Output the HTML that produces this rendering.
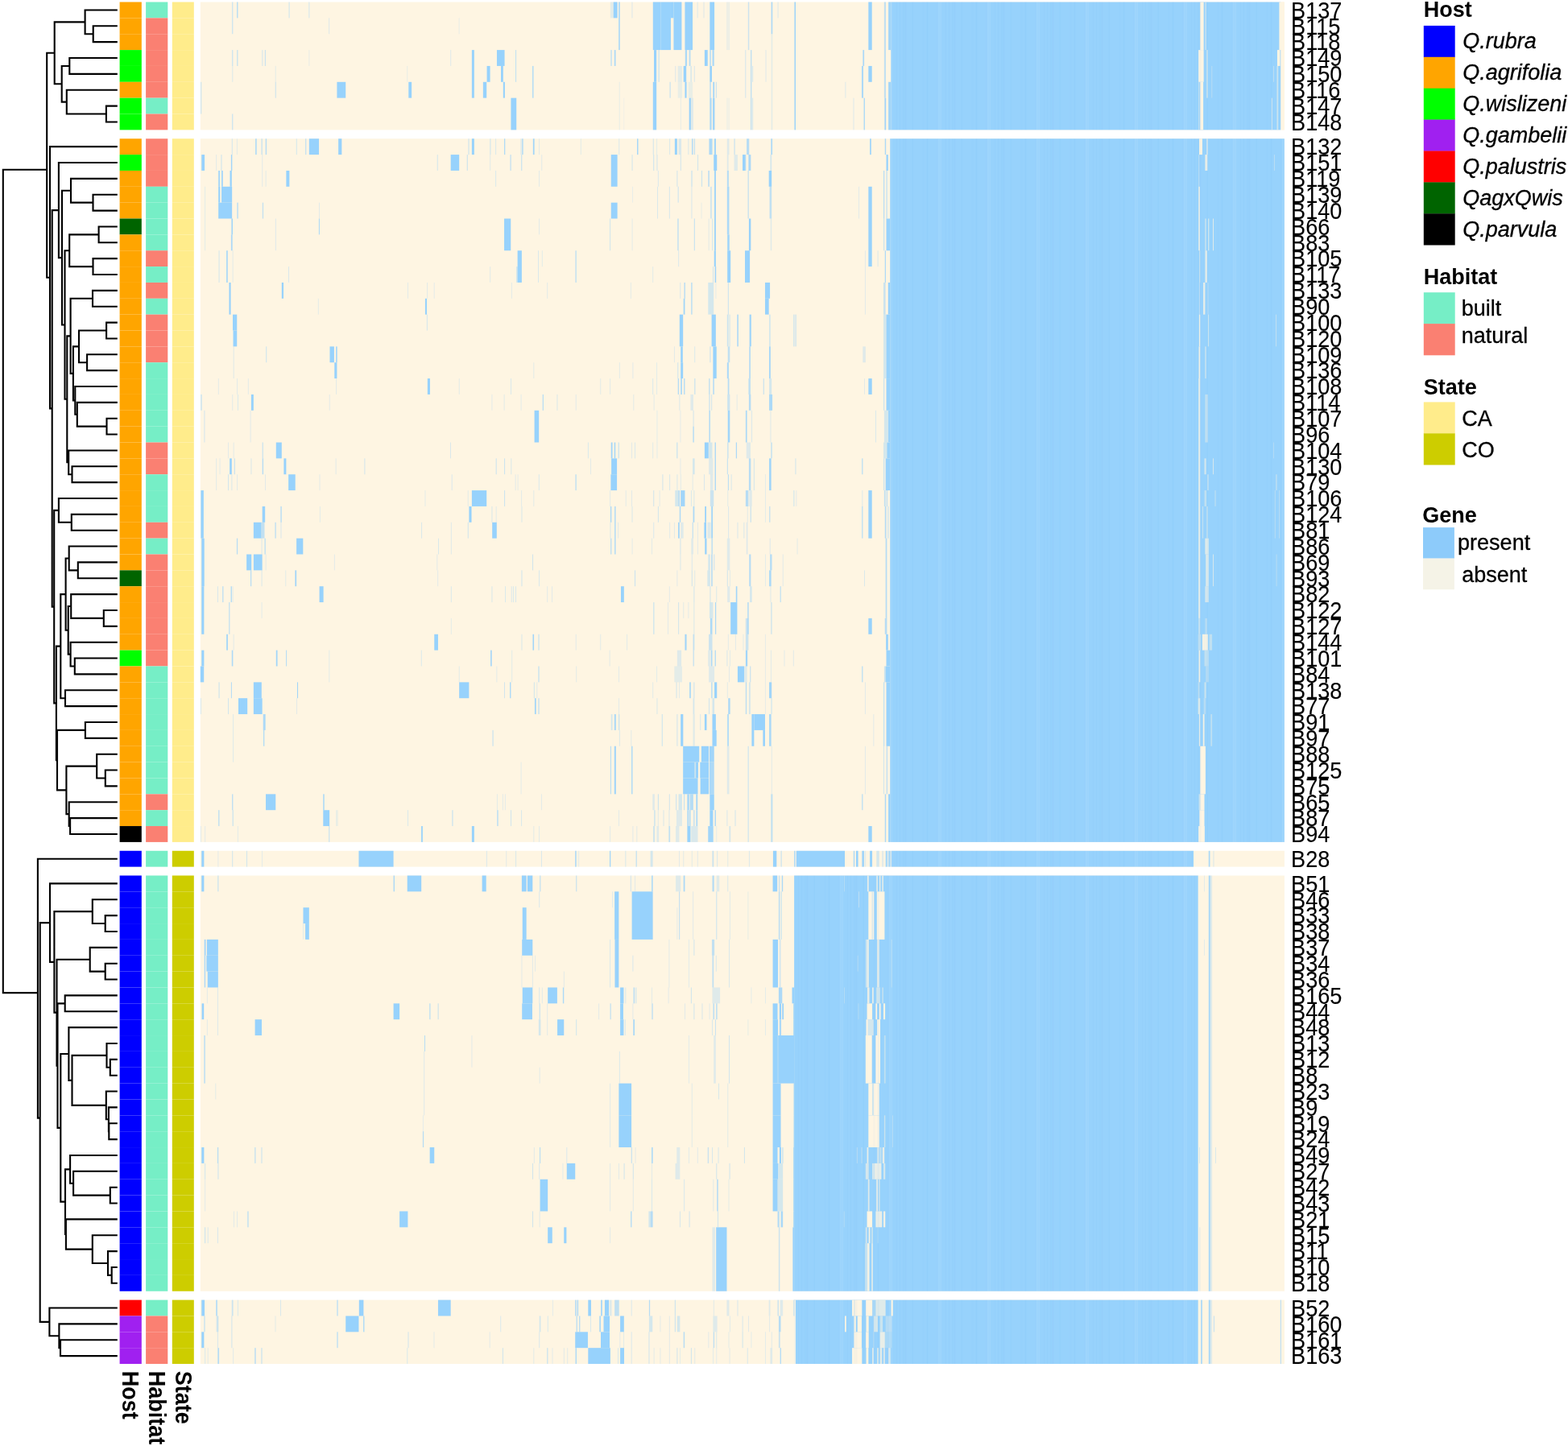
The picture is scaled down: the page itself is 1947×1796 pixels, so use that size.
<!DOCTYPE html>
<html lang="en"><head><meta charset="utf-8"><title>Gene presence/absence heatmap</title>
<style>
html,body{margin:0;padding:0;background:#fff;}
body{width:1947px;height:1796px;overflow:hidden;}
svg{display:block;font-family:"Liberation Sans",Arial,Helvetica,sans-serif;fill:#000;}
</style></head><body>
<svg width="1947" height="1796" viewBox="0 0 1947 1796">
<defs><pattern id="striae" x="0" y="0" width="61" height="10" patternUnits="userSpaceOnUse"><rect x="4.4" y="0" width="0.8" height="10" fill="#5aa9ee" fill-opacity="0.05"/><rect x="5.8" y="0" width="2.4" height="10" fill="#fff" fill-opacity="0.07"/><rect x="8.8" y="0" width="1.0" height="10" fill="#fff" fill-opacity="0.09"/><rect x="15.0" y="0" width="1.0" height="10" fill="#5aa9ee" fill-opacity="0.05"/><rect x="19.1" y="0" width="1.0" height="10" fill="#5aa9ee" fill-opacity="0.07"/><rect x="23.3" y="0" width="1.3" height="10" fill="#5aa9ee" fill-opacity="0.07"/><rect x="25.2" y="0" width="2.4" height="10" fill="#5aa9ee" fill-opacity="0.05"/><rect x="34.5" y="0" width="1.3" height="10" fill="#5aa9ee" fill-opacity="0.07"/><rect x="47.2" y="0" width="2.4" height="10" fill="#5aa9ee" fill-opacity="0.04"/><rect x="52.7" y="0" width="1.8" height="10" fill="#5aa9ee" fill-opacity="0.07"/></pattern></defs>
<rect x="0" y="0" width="1947" height="1796" fill="#fff"/>
<g id="annotations-heatmap">
<rect x="148.60" y="2.52" width="27.20" height="19.86" fill="#FFA500"/>
<rect x="148.60" y="22.38" width="27.20" height="19.86" fill="#FFA500"/>
<rect x="148.60" y="42.23" width="27.20" height="19.86" fill="#FFA500"/>
<rect x="148.60" y="62.09" width="27.20" height="19.86" fill="#00FF00"/>
<rect x="148.60" y="81.94" width="27.20" height="19.86" fill="#00FF00"/>
<rect x="148.60" y="101.80" width="27.20" height="19.86" fill="#FFA500"/>
<rect x="148.60" y="121.66" width="27.20" height="19.86" fill="#00FF00"/>
<rect x="148.60" y="141.51" width="27.20" height="19.86" fill="#00FF00"/>
<rect x="148.60" y="172.23" width="27.20" height="19.86" fill="#FFA500"/>
<rect x="148.60" y="192.09" width="27.20" height="19.86" fill="#00FF00"/>
<rect x="148.60" y="211.95" width="27.20" height="19.86" fill="#FFA500"/>
<rect x="148.60" y="231.80" width="27.20" height="19.86" fill="#FFA500"/>
<rect x="148.60" y="251.66" width="27.20" height="19.86" fill="#FFA500"/>
<rect x="148.60" y="271.51" width="27.20" height="19.86" fill="#006400"/>
<rect x="148.60" y="291.37" width="27.20" height="19.86" fill="#FFA500"/>
<rect x="148.60" y="311.23" width="27.20" height="19.86" fill="#FFA500"/>
<rect x="148.60" y="331.08" width="27.20" height="19.86" fill="#FFA500"/>
<rect x="148.60" y="350.94" width="27.20" height="19.86" fill="#FFA500"/>
<rect x="148.60" y="370.79" width="27.20" height="19.86" fill="#FFA500"/>
<rect x="148.60" y="390.65" width="27.20" height="19.86" fill="#FFA500"/>
<rect x="148.60" y="410.50" width="27.20" height="19.86" fill="#FFA500"/>
<rect x="148.60" y="430.36" width="27.20" height="19.86" fill="#FFA500"/>
<rect x="148.60" y="450.22" width="27.20" height="19.86" fill="#FFA500"/>
<rect x="148.60" y="470.07" width="27.20" height="19.86" fill="#FFA500"/>
<rect x="148.60" y="489.93" width="27.20" height="19.86" fill="#FFA500"/>
<rect x="148.60" y="509.79" width="27.20" height="19.86" fill="#FFA500"/>
<rect x="148.60" y="529.64" width="27.20" height="19.86" fill="#FFA500"/>
<rect x="148.60" y="549.50" width="27.20" height="19.86" fill="#FFA500"/>
<rect x="148.60" y="569.35" width="27.20" height="19.86" fill="#FFA500"/>
<rect x="148.60" y="589.21" width="27.20" height="19.86" fill="#FFA500"/>
<rect x="148.60" y="609.07" width="27.20" height="19.86" fill="#FFA500"/>
<rect x="148.60" y="628.92" width="27.20" height="19.86" fill="#FFA500"/>
<rect x="148.60" y="648.78" width="27.20" height="19.86" fill="#FFA500"/>
<rect x="148.60" y="668.63" width="27.20" height="19.86" fill="#FFA500"/>
<rect x="148.60" y="688.49" width="27.20" height="19.86" fill="#FFA500"/>
<rect x="148.60" y="708.35" width="27.20" height="19.86" fill="#006400"/>
<rect x="148.60" y="728.20" width="27.20" height="19.86" fill="#FFA500"/>
<rect x="148.60" y="748.06" width="27.20" height="19.86" fill="#FFA500"/>
<rect x="148.60" y="767.91" width="27.20" height="19.86" fill="#FFA500"/>
<rect x="148.60" y="787.77" width="27.20" height="19.86" fill="#FFA500"/>
<rect x="148.60" y="807.62" width="27.20" height="19.86" fill="#00FF00"/>
<rect x="148.60" y="827.48" width="27.20" height="19.86" fill="#FFA500"/>
<rect x="148.60" y="847.34" width="27.20" height="19.86" fill="#FFA500"/>
<rect x="148.60" y="867.19" width="27.20" height="19.86" fill="#FFA500"/>
<rect x="148.60" y="887.05" width="27.20" height="19.86" fill="#FFA500"/>
<rect x="148.60" y="906.91" width="27.20" height="19.86" fill="#FFA500"/>
<rect x="148.60" y="926.76" width="27.20" height="19.86" fill="#FFA500"/>
<rect x="148.60" y="946.62" width="27.20" height="19.86" fill="#FFA500"/>
<rect x="148.60" y="966.47" width="27.20" height="19.86" fill="#FFA500"/>
<rect x="148.60" y="986.33" width="27.20" height="19.86" fill="#FFA500"/>
<rect x="148.60" y="1006.19" width="27.20" height="19.86" fill="#FFA500"/>
<rect x="148.60" y="1026.04" width="27.20" height="19.86" fill="#000000"/>
<rect x="148.60" y="1056.76" width="27.20" height="19.86" fill="#0000FF"/>
<rect x="148.60" y="1087.48" width="27.20" height="19.86" fill="#0000FF"/>
<rect x="148.60" y="1107.34" width="27.20" height="19.86" fill="#0000FF"/>
<rect x="148.60" y="1127.20" width="27.20" height="19.86" fill="#0000FF"/>
<rect x="148.60" y="1147.05" width="27.20" height="19.86" fill="#0000FF"/>
<rect x="148.60" y="1166.91" width="27.20" height="19.86" fill="#0000FF"/>
<rect x="148.60" y="1186.76" width="27.20" height="19.86" fill="#0000FF"/>
<rect x="148.60" y="1206.62" width="27.20" height="19.86" fill="#0000FF"/>
<rect x="148.60" y="1226.48" width="27.20" height="19.86" fill="#0000FF"/>
<rect x="148.60" y="1246.33" width="27.20" height="19.86" fill="#0000FF"/>
<rect x="148.60" y="1266.19" width="27.20" height="19.86" fill="#0000FF"/>
<rect x="148.60" y="1286.04" width="27.20" height="19.86" fill="#0000FF"/>
<rect x="148.60" y="1305.90" width="27.20" height="19.86" fill="#0000FF"/>
<rect x="148.60" y="1325.76" width="27.20" height="19.86" fill="#0000FF"/>
<rect x="148.60" y="1345.61" width="27.20" height="19.86" fill="#0000FF"/>
<rect x="148.60" y="1365.47" width="27.20" height="19.86" fill="#0000FF"/>
<rect x="148.60" y="1385.32" width="27.20" height="19.86" fill="#0000FF"/>
<rect x="148.60" y="1405.18" width="27.20" height="19.86" fill="#0000FF"/>
<rect x="148.60" y="1425.04" width="27.20" height="19.86" fill="#0000FF"/>
<rect x="148.60" y="1444.89" width="27.20" height="19.86" fill="#0000FF"/>
<rect x="148.60" y="1464.75" width="27.20" height="19.86" fill="#0000FF"/>
<rect x="148.60" y="1484.60" width="27.20" height="19.86" fill="#0000FF"/>
<rect x="148.60" y="1504.46" width="27.20" height="19.86" fill="#0000FF"/>
<rect x="148.60" y="1524.32" width="27.20" height="19.86" fill="#0000FF"/>
<rect x="148.60" y="1544.17" width="27.20" height="19.86" fill="#0000FF"/>
<rect x="148.60" y="1564.03" width="27.20" height="19.86" fill="#0000FF"/>
<rect x="148.60" y="1583.88" width="27.20" height="19.86" fill="#0000FF"/>
<rect x="148.60" y="1614.60" width="27.20" height="19.86" fill="#FF0000"/>
<rect x="148.60" y="1634.46" width="27.20" height="19.86" fill="#A020F0"/>
<rect x="148.60" y="1654.32" width="27.20" height="19.86" fill="#A020F0"/>
<rect x="148.60" y="1674.17" width="27.20" height="19.86" fill="#A020F0"/>
<rect x="181.10" y="2.52" width="27.20" height="19.86" fill="#76EEC6"/>
<rect x="181.10" y="22.38" width="27.20" height="19.86" fill="#FA8072"/>
<rect x="181.10" y="42.23" width="27.20" height="19.86" fill="#FA8072"/>
<rect x="181.10" y="62.09" width="27.20" height="19.86" fill="#FA8072"/>
<rect x="181.10" y="81.94" width="27.20" height="19.86" fill="#FA8072"/>
<rect x="181.10" y="101.80" width="27.20" height="19.86" fill="#FA8072"/>
<rect x="181.10" y="121.66" width="27.20" height="19.86" fill="#76EEC6"/>
<rect x="181.10" y="141.51" width="27.20" height="19.86" fill="#FA8072"/>
<rect x="181.10" y="172.23" width="27.20" height="19.86" fill="#FA8072"/>
<rect x="181.10" y="192.09" width="27.20" height="19.86" fill="#FA8072"/>
<rect x="181.10" y="211.95" width="27.20" height="19.86" fill="#FA8072"/>
<rect x="181.10" y="231.80" width="27.20" height="19.86" fill="#76EEC6"/>
<rect x="181.10" y="251.66" width="27.20" height="19.86" fill="#76EEC6"/>
<rect x="181.10" y="271.51" width="27.20" height="19.86" fill="#76EEC6"/>
<rect x="181.10" y="291.37" width="27.20" height="19.86" fill="#76EEC6"/>
<rect x="181.10" y="311.23" width="27.20" height="19.86" fill="#FA8072"/>
<rect x="181.10" y="331.08" width="27.20" height="19.86" fill="#76EEC6"/>
<rect x="181.10" y="350.94" width="27.20" height="19.86" fill="#FA8072"/>
<rect x="181.10" y="370.79" width="27.20" height="19.86" fill="#76EEC6"/>
<rect x="181.10" y="390.65" width="27.20" height="19.86" fill="#FA8072"/>
<rect x="181.10" y="410.50" width="27.20" height="19.86" fill="#FA8072"/>
<rect x="181.10" y="430.36" width="27.20" height="19.86" fill="#FA8072"/>
<rect x="181.10" y="450.22" width="27.20" height="19.86" fill="#76EEC6"/>
<rect x="181.10" y="470.07" width="27.20" height="19.86" fill="#76EEC6"/>
<rect x="181.10" y="489.93" width="27.20" height="19.86" fill="#76EEC6"/>
<rect x="181.10" y="509.79" width="27.20" height="19.86" fill="#76EEC6"/>
<rect x="181.10" y="529.64" width="27.20" height="19.86" fill="#76EEC6"/>
<rect x="181.10" y="549.50" width="27.20" height="19.86" fill="#FA8072"/>
<rect x="181.10" y="569.35" width="27.20" height="19.86" fill="#FA8072"/>
<rect x="181.10" y="589.21" width="27.20" height="19.86" fill="#76EEC6"/>
<rect x="181.10" y="609.07" width="27.20" height="19.86" fill="#76EEC6"/>
<rect x="181.10" y="628.92" width="27.20" height="19.86" fill="#76EEC6"/>
<rect x="181.10" y="648.78" width="27.20" height="19.86" fill="#FA8072"/>
<rect x="181.10" y="668.63" width="27.20" height="19.86" fill="#76EEC6"/>
<rect x="181.10" y="688.49" width="27.20" height="19.86" fill="#FA8072"/>
<rect x="181.10" y="708.35" width="27.20" height="19.86" fill="#FA8072"/>
<rect x="181.10" y="728.20" width="27.20" height="19.86" fill="#FA8072"/>
<rect x="181.10" y="748.06" width="27.20" height="19.86" fill="#FA8072"/>
<rect x="181.10" y="767.91" width="27.20" height="19.86" fill="#FA8072"/>
<rect x="181.10" y="787.77" width="27.20" height="19.86" fill="#FA8072"/>
<rect x="181.10" y="807.62" width="27.20" height="19.86" fill="#FA8072"/>
<rect x="181.10" y="827.48" width="27.20" height="19.86" fill="#76EEC6"/>
<rect x="181.10" y="847.34" width="27.20" height="19.86" fill="#76EEC6"/>
<rect x="181.10" y="867.19" width="27.20" height="19.86" fill="#76EEC6"/>
<rect x="181.10" y="887.05" width="27.20" height="19.86" fill="#76EEC6"/>
<rect x="181.10" y="906.91" width="27.20" height="19.86" fill="#76EEC6"/>
<rect x="181.10" y="926.76" width="27.20" height="19.86" fill="#76EEC6"/>
<rect x="181.10" y="946.62" width="27.20" height="19.86" fill="#76EEC6"/>
<rect x="181.10" y="966.47" width="27.20" height="19.86" fill="#76EEC6"/>
<rect x="181.10" y="986.33" width="27.20" height="19.86" fill="#FA8072"/>
<rect x="181.10" y="1006.19" width="27.20" height="19.86" fill="#76EEC6"/>
<rect x="181.10" y="1026.04" width="27.20" height="19.86" fill="#FA8072"/>
<rect x="181.10" y="1056.76" width="27.20" height="19.86" fill="#76EEC6"/>
<rect x="181.10" y="1087.48" width="27.20" height="19.86" fill="#76EEC6"/>
<rect x="181.10" y="1107.34" width="27.20" height="19.86" fill="#76EEC6"/>
<rect x="181.10" y="1127.20" width="27.20" height="19.86" fill="#76EEC6"/>
<rect x="181.10" y="1147.05" width="27.20" height="19.86" fill="#76EEC6"/>
<rect x="181.10" y="1166.91" width="27.20" height="19.86" fill="#76EEC6"/>
<rect x="181.10" y="1186.76" width="27.20" height="19.86" fill="#76EEC6"/>
<rect x="181.10" y="1206.62" width="27.20" height="19.86" fill="#76EEC6"/>
<rect x="181.10" y="1226.48" width="27.20" height="19.86" fill="#76EEC6"/>
<rect x="181.10" y="1246.33" width="27.20" height="19.86" fill="#76EEC6"/>
<rect x="181.10" y="1266.19" width="27.20" height="19.86" fill="#76EEC6"/>
<rect x="181.10" y="1286.04" width="27.20" height="19.86" fill="#76EEC6"/>
<rect x="181.10" y="1305.90" width="27.20" height="19.86" fill="#76EEC6"/>
<rect x="181.10" y="1325.76" width="27.20" height="19.86" fill="#76EEC6"/>
<rect x="181.10" y="1345.61" width="27.20" height="19.86" fill="#76EEC6"/>
<rect x="181.10" y="1365.47" width="27.20" height="19.86" fill="#76EEC6"/>
<rect x="181.10" y="1385.32" width="27.20" height="19.86" fill="#76EEC6"/>
<rect x="181.10" y="1405.18" width="27.20" height="19.86" fill="#76EEC6"/>
<rect x="181.10" y="1425.04" width="27.20" height="19.86" fill="#76EEC6"/>
<rect x="181.10" y="1444.89" width="27.20" height="19.86" fill="#76EEC6"/>
<rect x="181.10" y="1464.75" width="27.20" height="19.86" fill="#76EEC6"/>
<rect x="181.10" y="1484.60" width="27.20" height="19.86" fill="#76EEC6"/>
<rect x="181.10" y="1504.46" width="27.20" height="19.86" fill="#76EEC6"/>
<rect x="181.10" y="1524.32" width="27.20" height="19.86" fill="#76EEC6"/>
<rect x="181.10" y="1544.17" width="27.20" height="19.86" fill="#76EEC6"/>
<rect x="181.10" y="1564.03" width="27.20" height="19.86" fill="#76EEC6"/>
<rect x="181.10" y="1583.88" width="27.20" height="19.86" fill="#76EEC6"/>
<rect x="181.10" y="1614.60" width="27.20" height="19.86" fill="#76EEC6"/>
<rect x="181.10" y="1634.46" width="27.20" height="19.86" fill="#FA8072"/>
<rect x="181.10" y="1654.32" width="27.20" height="19.86" fill="#FA8072"/>
<rect x="181.10" y="1674.17" width="27.20" height="19.86" fill="#FA8072"/>
<rect x="213.80" y="2.52" width="27.00" height="19.86" fill="#FFEC8B"/>
<rect x="213.80" y="22.38" width="27.00" height="19.86" fill="#FFEC8B"/>
<rect x="213.80" y="42.23" width="27.00" height="19.86" fill="#FFEC8B"/>
<rect x="213.80" y="62.09" width="27.00" height="19.86" fill="#FFEC8B"/>
<rect x="213.80" y="81.94" width="27.00" height="19.86" fill="#FFEC8B"/>
<rect x="213.80" y="101.80" width="27.00" height="19.86" fill="#FFEC8B"/>
<rect x="213.80" y="121.66" width="27.00" height="19.86" fill="#FFEC8B"/>
<rect x="213.80" y="141.51" width="27.00" height="19.86" fill="#FFEC8B"/>
<rect x="213.80" y="172.23" width="27.00" height="19.86" fill="#FFEC8B"/>
<rect x="213.80" y="192.09" width="27.00" height="19.86" fill="#FFEC8B"/>
<rect x="213.80" y="211.95" width="27.00" height="19.86" fill="#FFEC8B"/>
<rect x="213.80" y="231.80" width="27.00" height="19.86" fill="#FFEC8B"/>
<rect x="213.80" y="251.66" width="27.00" height="19.86" fill="#FFEC8B"/>
<rect x="213.80" y="271.51" width="27.00" height="19.86" fill="#FFEC8B"/>
<rect x="213.80" y="291.37" width="27.00" height="19.86" fill="#FFEC8B"/>
<rect x="213.80" y="311.23" width="27.00" height="19.86" fill="#FFEC8B"/>
<rect x="213.80" y="331.08" width="27.00" height="19.86" fill="#FFEC8B"/>
<rect x="213.80" y="350.94" width="27.00" height="19.86" fill="#FFEC8B"/>
<rect x="213.80" y="370.79" width="27.00" height="19.86" fill="#FFEC8B"/>
<rect x="213.80" y="390.65" width="27.00" height="19.86" fill="#FFEC8B"/>
<rect x="213.80" y="410.50" width="27.00" height="19.86" fill="#FFEC8B"/>
<rect x="213.80" y="430.36" width="27.00" height="19.86" fill="#FFEC8B"/>
<rect x="213.80" y="450.22" width="27.00" height="19.86" fill="#FFEC8B"/>
<rect x="213.80" y="470.07" width="27.00" height="19.86" fill="#FFEC8B"/>
<rect x="213.80" y="489.93" width="27.00" height="19.86" fill="#FFEC8B"/>
<rect x="213.80" y="509.79" width="27.00" height="19.86" fill="#FFEC8B"/>
<rect x="213.80" y="529.64" width="27.00" height="19.86" fill="#FFEC8B"/>
<rect x="213.80" y="549.50" width="27.00" height="19.86" fill="#FFEC8B"/>
<rect x="213.80" y="569.35" width="27.00" height="19.86" fill="#FFEC8B"/>
<rect x="213.80" y="589.21" width="27.00" height="19.86" fill="#FFEC8B"/>
<rect x="213.80" y="609.07" width="27.00" height="19.86" fill="#FFEC8B"/>
<rect x="213.80" y="628.92" width="27.00" height="19.86" fill="#FFEC8B"/>
<rect x="213.80" y="648.78" width="27.00" height="19.86" fill="#FFEC8B"/>
<rect x="213.80" y="668.63" width="27.00" height="19.86" fill="#FFEC8B"/>
<rect x="213.80" y="688.49" width="27.00" height="19.86" fill="#FFEC8B"/>
<rect x="213.80" y="708.35" width="27.00" height="19.86" fill="#FFEC8B"/>
<rect x="213.80" y="728.20" width="27.00" height="19.86" fill="#FFEC8B"/>
<rect x="213.80" y="748.06" width="27.00" height="19.86" fill="#FFEC8B"/>
<rect x="213.80" y="767.91" width="27.00" height="19.86" fill="#FFEC8B"/>
<rect x="213.80" y="787.77" width="27.00" height="19.86" fill="#FFEC8B"/>
<rect x="213.80" y="807.62" width="27.00" height="19.86" fill="#FFEC8B"/>
<rect x="213.80" y="827.48" width="27.00" height="19.86" fill="#FFEC8B"/>
<rect x="213.80" y="847.34" width="27.00" height="19.86" fill="#FFEC8B"/>
<rect x="213.80" y="867.19" width="27.00" height="19.86" fill="#FFEC8B"/>
<rect x="213.80" y="887.05" width="27.00" height="19.86" fill="#FFEC8B"/>
<rect x="213.80" y="906.91" width="27.00" height="19.86" fill="#FFEC8B"/>
<rect x="213.80" y="926.76" width="27.00" height="19.86" fill="#FFEC8B"/>
<rect x="213.80" y="946.62" width="27.00" height="19.86" fill="#FFEC8B"/>
<rect x="213.80" y="966.47" width="27.00" height="19.86" fill="#FFEC8B"/>
<rect x="213.80" y="986.33" width="27.00" height="19.86" fill="#FFEC8B"/>
<rect x="213.80" y="1006.19" width="27.00" height="19.86" fill="#FFEC8B"/>
<rect x="213.80" y="1026.04" width="27.00" height="19.86" fill="#FFEC8B"/>
<rect x="213.80" y="1056.76" width="27.00" height="19.86" fill="#CDCD00"/>
<rect x="213.80" y="1087.48" width="27.00" height="19.86" fill="#CDCD00"/>
<rect x="213.80" y="1107.34" width="27.00" height="19.86" fill="#CDCD00"/>
<rect x="213.80" y="1127.20" width="27.00" height="19.86" fill="#CDCD00"/>
<rect x="213.80" y="1147.05" width="27.00" height="19.86" fill="#CDCD00"/>
<rect x="213.80" y="1166.91" width="27.00" height="19.86" fill="#CDCD00"/>
<rect x="213.80" y="1186.76" width="27.00" height="19.86" fill="#CDCD00"/>
<rect x="213.80" y="1206.62" width="27.00" height="19.86" fill="#CDCD00"/>
<rect x="213.80" y="1226.48" width="27.00" height="19.86" fill="#CDCD00"/>
<rect x="213.80" y="1246.33" width="27.00" height="19.86" fill="#CDCD00"/>
<rect x="213.80" y="1266.19" width="27.00" height="19.86" fill="#CDCD00"/>
<rect x="213.80" y="1286.04" width="27.00" height="19.86" fill="#CDCD00"/>
<rect x="213.80" y="1305.90" width="27.00" height="19.86" fill="#CDCD00"/>
<rect x="213.80" y="1325.76" width="27.00" height="19.86" fill="#CDCD00"/>
<rect x="213.80" y="1345.61" width="27.00" height="19.86" fill="#CDCD00"/>
<rect x="213.80" y="1365.47" width="27.00" height="19.86" fill="#CDCD00"/>
<rect x="213.80" y="1385.32" width="27.00" height="19.86" fill="#CDCD00"/>
<rect x="213.80" y="1405.18" width="27.00" height="19.86" fill="#CDCD00"/>
<rect x="213.80" y="1425.04" width="27.00" height="19.86" fill="#CDCD00"/>
<rect x="213.80" y="1444.89" width="27.00" height="19.86" fill="#CDCD00"/>
<rect x="213.80" y="1464.75" width="27.00" height="19.86" fill="#CDCD00"/>
<rect x="213.80" y="1484.60" width="27.00" height="19.86" fill="#CDCD00"/>
<rect x="213.80" y="1504.46" width="27.00" height="19.86" fill="#CDCD00"/>
<rect x="213.80" y="1524.32" width="27.00" height="19.86" fill="#CDCD00"/>
<rect x="213.80" y="1544.17" width="27.00" height="19.86" fill="#CDCD00"/>
<rect x="213.80" y="1564.03" width="27.00" height="19.86" fill="#CDCD00"/>
<rect x="213.80" y="1583.88" width="27.00" height="19.86" fill="#CDCD00"/>
<rect x="213.80" y="1614.60" width="27.00" height="19.86" fill="#CDCD00"/>
<rect x="213.80" y="1634.46" width="27.00" height="19.86" fill="#CDCD00"/>
<rect x="213.80" y="1654.32" width="27.00" height="19.86" fill="#CDCD00"/>
<rect x="213.80" y="1674.17" width="27.00" height="19.86" fill="#CDCD00"/>
<rect x="248.80" y="2.52" width="1346.10" height="158.85" fill="#FEF5E2"/>
<rect x="248.80" y="172.23" width="1346.10" height="873.66" fill="#FEF5E2"/>
<rect x="248.80" y="1056.76" width="1346.10" height="19.86" fill="#FEF5E2"/>
<rect x="248.80" y="1087.48" width="1346.10" height="516.26" fill="#FEF5E2"/>
<rect x="248.80" y="1614.60" width="1346.10" height="79.42" fill="#FEF5E2"/>
<rect x="418.40" y="101.80" width="10.83" height="19.86" fill="#97D2FC"/>
<rect x="507.29" y="101.80" width="3.84" height="19.86" fill="#97D2FC"/>
<rect x="287.96" y="2.52" width="1.40" height="39.71" fill="#97D2FC" fill-opacity="0.45"/>
<rect x="287.96" y="62.09" width="1.40" height="19.86" fill="#97D2FC" fill-opacity="0.45"/>
<rect x="287.96" y="141.51" width="1.40" height="19.86" fill="#97D2FC" fill-opacity="0.45"/>
<rect x="287.96" y="81.94" width="1.40" height="19.86" fill="#97D2FC" fill-opacity="0.25"/>
<rect x="294.07" y="2.52" width="1.40" height="19.86" fill="#97D2FC" fill-opacity="0.70"/>
<rect x="294.07" y="62.09" width="1.40" height="19.86" fill="#97D2FC" fill-opacity="0.50"/>
<rect x="325.33" y="62.09" width="1.05" height="19.86" fill="#97D2FC" fill-opacity="0.40"/>
<rect x="328.82" y="62.09" width="1.22" height="19.86" fill="#97D2FC" fill-opacity="0.50"/>
<rect x="358.51" y="2.52" width="1.22" height="19.86" fill="#97D2FC" fill-opacity="0.40"/>
<rect x="383.30" y="2.52" width="1.05" height="19.86" fill="#97D2FC" fill-opacity="0.40"/>
<rect x="383.30" y="62.09" width="1.05" height="19.86" fill="#97D2FC" fill-opacity="0.20"/>
<rect x="408.10" y="22.38" width="1.05" height="19.86" fill="#97D2FC" fill-opacity="0.30"/>
<rect x="341.74" y="101.80" width="1.05" height="19.86" fill="#97D2FC" fill-opacity="0.50"/>
<rect x="341.74" y="81.94" width="1.05" height="19.86" fill="#97D2FC" fill-opacity="0.25"/>
<rect x="249.19" y="101.80" width="1.05" height="39.71" fill="#97D2FC" fill-opacity="0.50"/>
<rect x="559.15" y="62.09" width="1.05" height="19.86" fill="#97D2FC" fill-opacity="0.30"/>
<rect x="569.63" y="22.38" width="1.05" height="19.86" fill="#97D2FC" fill-opacity="0.20"/>
<rect x="505.19" y="81.94" width="1.05" height="19.86" fill="#97D2FC" fill-opacity="0.20"/>
<rect x="810.79" y="2.52" width="9.95" height="59.57" fill="#97D2FC"/>
<rect x="820.75" y="2.52" width="12.22" height="59.57" fill="#97D2FC"/>
<rect x="832.97" y="2.52" width="3.49" height="19.86" fill="#97D2FC"/>
<rect x="836.46" y="2.52" width="9.95" height="59.57" fill="#97D2FC"/>
<rect x="850.43" y="2.52" width="9.60" height="59.57" fill="#97D2FC"/>
<rect x="881.34" y="2.52" width="5.76" height="59.57" fill="#97D2FC"/>
<rect x="761.72" y="2.52" width="4.89" height="19.86" fill="#97D2FC"/>
<rect x="757.88" y="2.52" width="3.84" height="19.86" fill="#97D2FC" fill-opacity="0.25"/>
<rect x="768.18" y="2.52" width="1.57" height="59.57" fill="#97D2FC" fill-opacity="0.85"/>
<rect x="784.42" y="2.52" width="1.05" height="19.86" fill="#97D2FC" fill-opacity="0.30"/>
<rect x="865.63" y="2.52" width="1.05" height="19.86" fill="#97D2FC" fill-opacity="0.30"/>
<rect x="873.48" y="2.52" width="1.05" height="19.86" fill="#97D2FC" fill-opacity="0.30"/>
<rect x="902.47" y="2.52" width="1.05" height="59.57" fill="#97D2FC" fill-opacity="0.30"/>
<rect x="904.57" y="2.52" width="1.05" height="59.57" fill="#97D2FC" fill-opacity="0.30"/>
<rect x="585.87" y="62.09" width="2.97" height="59.57" fill="#97D2FC"/>
<rect x="616.96" y="62.09" width="9.60" height="19.86" fill="#97D2FC"/>
<rect x="640.01" y="62.09" width="1.05" height="39.71" fill="#97D2FC" fill-opacity="0.60"/>
<rect x="758.40" y="62.09" width="1.22" height="19.86" fill="#97D2FC" fill-opacity="0.70"/>
<rect x="762.77" y="62.09" width="1.75" height="19.86" fill="#97D2FC" fill-opacity="0.80"/>
<rect x="812.01" y="62.09" width="3.14" height="39.71" fill="#97D2FC"/>
<rect x="810.79" y="101.80" width="4.37" height="59.57" fill="#97D2FC"/>
<rect x="817.60" y="62.09" width="1.05" height="39.71" fill="#97D2FC" fill-opacity="0.60"/>
<rect x="850.78" y="62.09" width="2.27" height="19.86" fill="#97D2FC" fill-opacity="0.80"/>
<rect x="855.67" y="62.09" width="1.75" height="19.86" fill="#97D2FC" fill-opacity="0.70"/>
<rect x="874.88" y="62.09" width="3.84" height="19.86" fill="#97D2FC"/>
<rect x="881.34" y="62.09" width="1.40" height="19.86" fill="#97D2FC" fill-opacity="0.80"/>
<rect x="884.48" y="62.09" width="2.27" height="19.86" fill="#97D2FC" fill-opacity="0.80"/>
<rect x="604.56" y="81.94" width="4.02" height="19.86" fill="#97D2FC"/>
<rect x="622.02" y="81.94" width="2.79" height="19.86" fill="#97D2FC"/>
<rect x="660.96" y="81.94" width="1.57" height="39.71" fill="#97D2FC" fill-opacity="0.70"/>
<rect x="848.69" y="81.94" width="3.49" height="19.86" fill="#97D2FC"/>
<rect x="881.34" y="81.94" width="2.62" height="19.86" fill="#97D2FC"/>
<rect x="838.21" y="81.94" width="1.05" height="19.86" fill="#97D2FC" fill-opacity="0.30"/>
<rect x="841.70" y="81.94" width="5.24" height="19.86" fill="#97D2FC" fill-opacity="0.25"/>
<rect x="857.42" y="81.94" width="1.40" height="19.86" fill="#97D2FC" fill-opacity="0.40"/>
<rect x="861.78" y="81.94" width="1.22" height="19.86" fill="#97D2FC" fill-opacity="0.30"/>
<rect x="599.84" y="101.80" width="4.37" height="19.86" fill="#97D2FC"/>
<rect x="624.81" y="101.80" width="2.10" height="19.86" fill="#97D2FC"/>
<rect x="831.57" y="101.80" width="1.05" height="19.86" fill="#97D2FC" fill-opacity="0.60"/>
<rect x="850.43" y="101.80" width="2.10" height="19.86" fill="#97D2FC"/>
<rect x="881.34" y="101.80" width="1.40" height="19.86" fill="#97D2FC" fill-opacity="0.70"/>
<rect x="885.36" y="101.80" width="1.75" height="19.86" fill="#97D2FC" fill-opacity="0.90"/>
<rect x="888.85" y="101.80" width="1.05" height="19.86" fill="#97D2FC" fill-opacity="0.50"/>
<rect x="841.70" y="101.80" width="5.24" height="19.86" fill="#97D2FC" fill-opacity="0.20"/>
<rect x="854.80" y="101.80" width="5.24" height="19.86" fill="#97D2FC" fill-opacity="0.20"/>
<rect x="634.42" y="121.66" width="6.81" height="39.71" fill="#97D2FC"/>
<rect x="855.67" y="121.66" width="2.10" height="39.71" fill="#97D2FC"/>
<rect x="857.77" y="121.66" width="3.14" height="39.71" fill="#97D2FC" fill-opacity="0.30"/>
<rect x="881.34" y="121.66" width="2.27" height="39.71" fill="#97D2FC" fill-opacity="0.80"/>
<rect x="885.01" y="121.66" width="2.44" height="39.71" fill="#97D2FC" fill-opacity="0.90"/>
<rect x="768.71" y="101.80" width="1.05" height="59.57" fill="#97D2FC" fill-opacity="0.20"/>
<rect x="774.30" y="121.66" width="0.87" height="39.71" fill="#97D2FC" fill-opacity="0.15"/>
<rect x="844.84" y="121.66" width="1.05" height="39.71" fill="#97D2FC" fill-opacity="0.20"/>
<rect x="902.47" y="121.66" width="1.05" height="39.71" fill="#97D2FC" fill-opacity="0.20"/>
<rect x="904.57" y="121.66" width="1.05" height="39.71" fill="#97D2FC" fill-opacity="0.20"/>
<rect x="1106.26" y="2.52" width="484.07" height="158.85" fill="#97D2FC"/>
<rect x="1103.12" y="2.52" width="3.14" height="59.57" fill="#97D2FC" fill-opacity="0.90"/>
<rect x="1103.12" y="101.80" width="3.14" height="59.57" fill="#97D2FC" fill-opacity="0.90"/>
<rect x="1078.32" y="2.52" width="4.37" height="59.57" fill="#97D2FC"/>
<rect x="1078.32" y="81.94" width="4.37" height="19.86" fill="#97D2FC"/>
<rect x="986.47" y="2.52" width="1.57" height="158.85" fill="#97D2FC" fill-opacity="0.90"/>
<rect x="957.66" y="2.52" width="1.57" height="39.71" fill="#97D2FC" fill-opacity="0.80"/>
<rect x="957.66" y="42.23" width="1.57" height="119.14" fill="#97D2FC" fill-opacity="0.25"/>
<rect x="928.84" y="2.52" width="1.40" height="59.57" fill="#97D2FC" fill-opacity="0.50"/>
<rect x="931.99" y="62.09" width="1.40" height="99.28" fill="#97D2FC" fill-opacity="0.60"/>
<rect x="925.00" y="62.09" width="1.40" height="59.57" fill="#97D2FC" fill-opacity="0.30"/>
<rect x="934.08" y="81.94" width="1.05" height="19.86" fill="#97D2FC" fill-opacity="0.40"/>
<rect x="934.08" y="121.66" width="1.05" height="39.71" fill="#97D2FC" fill-opacity="0.40"/>
<rect x="1071.34" y="62.09" width="1.75" height="19.86" fill="#97D2FC" fill-opacity="0.80"/>
<rect x="1069.94" y="81.94" width="2.10" height="39.71" fill="#97D2FC" fill-opacity="0.80"/>
<rect x="1072.56" y="121.66" width="1.40" height="39.71" fill="#97D2FC" fill-opacity="0.80"/>
<rect x="1097.88" y="2.52" width="2.10" height="119.14" fill="#97D2FC" fill-opacity="0.60"/>
<rect x="1098.40" y="121.66" width="1.75" height="39.71" fill="#97D2FC" fill-opacity="0.90"/>
<rect x="965.51" y="2.52" width="1.05" height="19.86" fill="#97D2FC" fill-opacity="0.30"/>
<rect x="950.50" y="62.09" width="1.05" height="39.71" fill="#97D2FC" fill-opacity="0.30"/>
<rect x="1049.33" y="101.80" width="1.05" height="19.86" fill="#97D2FC" fill-opacity="0.30"/>
<rect x="1059.46" y="121.66" width="1.05" height="39.71" fill="#97D2FC" fill-opacity="0.30"/>
<rect x="1588.41" y="2.52" width="6.49" height="59.57" fill="#FEF5E2"/>
<rect x="1590.68" y="62.09" width="4.22" height="99.28" fill="#FEF5E2"/>
<rect x="1490.27" y="2.52" width="4.37" height="59.57" fill="#FEF5E2"/>
<rect x="1488.17" y="62.09" width="6.46" height="39.71" fill="#FEF5E2"/>
<rect x="1490.27" y="101.80" width="3.84" height="59.57" fill="#FEF5E2"/>
<rect x="1496.38" y="2.52" width="1.40" height="59.57" fill="#FEF5E2" fill-opacity="0.50"/>
<rect x="1498.13" y="62.09" width="1.75" height="59.57" fill="#FEF5E2" fill-opacity="0.50"/>
<rect x="1504.24" y="81.94" width="1.05" height="39.71" fill="#FEF5E2" fill-opacity="0.30"/>
<rect x="1488.17" y="101.80" width="1.05" height="59.57" fill="#FEF5E2" fill-opacity="0.50"/>
<rect x="1585.96" y="62.09" width="3.49" height="19.86" fill="#FEF5E2"/>
<rect x="1578.80" y="121.66" width="1.05" height="39.71" fill="#FEF5E2" fill-opacity="0.60"/>
<rect x="1585.44" y="81.94" width="1.75" height="79.42" fill="#FEF5E2" fill-opacity="0.50"/>
<rect x="1581.07" y="81.94" width="0.87" height="19.86" fill="#FEF5E2" fill-opacity="0.40"/>
<rect x="383.83" y="172.23" width="12.22" height="19.86" fill="#97D2FC"/>
<rect x="420.15" y="172.23" width="4.19" height="19.86" fill="#97D2FC"/>
<rect x="317.12" y="172.23" width="1.57" height="19.86" fill="#97D2FC" fill-opacity="0.80"/>
<rect x="324.46" y="172.23" width="1.40" height="19.86" fill="#97D2FC" fill-opacity="0.50"/>
<rect x="329.69" y="172.23" width="1.40" height="19.86" fill="#97D2FC" fill-opacity="0.70"/>
<rect x="367.76" y="172.23" width="1.05" height="19.86" fill="#97D2FC" fill-opacity="0.40"/>
<rect x="379.11" y="172.23" width="1.22" height="19.86" fill="#97D2FC" fill-opacity="0.60"/>
<rect x="287.78" y="172.23" width="1.05" height="19.86" fill="#97D2FC" fill-opacity="0.40"/>
<rect x="293.90" y="172.23" width="0.87" height="19.86" fill="#97D2FC" fill-opacity="0.30"/>
<rect x="581.51" y="172.23" width="1.05" height="19.86" fill="#97D2FC" fill-opacity="0.50"/>
<rect x="250.24" y="192.09" width="3.84" height="19.86" fill="#97D2FC"/>
<rect x="559.68" y="192.09" width="10.48" height="19.86" fill="#97D2FC"/>
<rect x="286.91" y="192.09" width="1.40" height="19.86" fill="#97D2FC" fill-opacity="0.90"/>
<rect x="274.34" y="192.09" width="1.22" height="19.86" fill="#97D2FC" fill-opacity="0.40"/>
<rect x="268.23" y="192.09" width="0.87" height="19.86" fill="#97D2FC" fill-opacity="0.30"/>
<rect x="325.33" y="192.09" width="0.87" height="39.71" fill="#97D2FC" fill-opacity="0.30"/>
<rect x="542.74" y="192.09" width="1.05" height="19.86" fill="#97D2FC" fill-opacity="0.40"/>
<rect x="579.76" y="192.09" width="1.05" height="19.86" fill="#97D2FC" fill-opacity="0.50"/>
<rect x="271.19" y="211.95" width="1.75" height="19.86" fill="#97D2FC" fill-opacity="0.90"/>
<rect x="275.04" y="211.95" width="1.75" height="19.86" fill="#97D2FC" fill-opacity="0.90"/>
<rect x="285.51" y="211.95" width="2.27" height="19.86" fill="#97D2FC"/>
<rect x="355.36" y="211.95" width="4.02" height="19.86" fill="#97D2FC"/>
<rect x="329.69" y="211.95" width="0.87" height="19.86" fill="#97D2FC" fill-opacity="0.30"/>
<rect x="271.19" y="231.80" width="2.10" height="19.86" fill="#97D2FC"/>
<rect x="275.04" y="231.80" width="13.10" height="19.86" fill="#97D2FC"/>
<rect x="271.19" y="251.66" width="16.94" height="19.86" fill="#97D2FC"/>
<rect x="254.08" y="231.80" width="1.05" height="79.42" fill="#97D2FC" fill-opacity="0.25"/>
<rect x="294.42" y="251.66" width="1.22" height="19.86" fill="#97D2FC" fill-opacity="0.80"/>
<rect x="325.85" y="251.66" width="1.22" height="19.86" fill="#97D2FC" fill-opacity="0.60"/>
<rect x="396.05" y="251.66" width="0.87" height="19.86" fill="#97D2FC" fill-opacity="0.30"/>
<rect x="287.43" y="271.51" width="1.57" height="19.86" fill="#97D2FC" fill-opacity="0.90"/>
<rect x="395.88" y="271.51" width="1.05" height="19.86" fill="#97D2FC" fill-opacity="0.80"/>
<rect x="341.92" y="271.51" width="0.87" height="39.71" fill="#97D2FC" fill-opacity="0.35"/>
<rect x="286.91" y="291.37" width="1.75" height="19.86" fill="#97D2FC" fill-opacity="0.80"/>
<rect x="281.15" y="311.23" width="1.57" height="39.71" fill="#97D2FC" fill-opacity="0.90"/>
<rect x="271.54" y="311.23" width="1.05" height="39.71" fill="#97D2FC" fill-opacity="0.40"/>
<rect x="288.66" y="311.23" width="0.87" height="39.71" fill="#97D2FC" fill-opacity="0.30"/>
<rect x="358.16" y="331.08" width="0.87" height="19.86" fill="#97D2FC" fill-opacity="0.40"/>
<rect x="284.47" y="350.94" width="2.10" height="39.71" fill="#97D2FC"/>
<rect x="349.78" y="350.94" width="2.27" height="19.86" fill="#97D2FC"/>
<rect x="506.07" y="350.94" width="0.87" height="19.86" fill="#97D2FC" fill-opacity="0.30"/>
<rect x="530.17" y="350.94" width="0.87" height="19.86" fill="#97D2FC" fill-opacity="0.30"/>
<rect x="538.72" y="350.94" width="0.87" height="19.86" fill="#97D2FC" fill-opacity="0.30"/>
<rect x="527.90" y="370.79" width="2.10" height="19.86" fill="#97D2FC"/>
<rect x="394.83" y="370.79" width="0.87" height="19.86" fill="#97D2FC" fill-opacity="0.30"/>
<rect x="289.01" y="390.65" width="5.24" height="19.86" fill="#97D2FC"/>
<rect x="289.53" y="410.50" width="4.71" height="19.86" fill="#97D2FC"/>
<rect x="529.82" y="390.65" width="1.05" height="19.86" fill="#97D2FC" fill-opacity="0.40"/>
<rect x="409.50" y="430.36" width="5.41" height="19.86" fill="#97D2FC"/>
<rect x="417.01" y="430.36" width="1.75" height="19.86" fill="#97D2FC" fill-opacity="0.80"/>
<rect x="330.04" y="430.36" width="1.22" height="19.86" fill="#97D2FC" fill-opacity="0.40"/>
<rect x="289.70" y="430.36" width="0.87" height="39.71" fill="#97D2FC" fill-opacity="0.35"/>
<rect x="415.26" y="450.22" width="3.14" height="19.86" fill="#97D2FC"/>
<rect x="530.86" y="470.07" width="3.14" height="19.86" fill="#97D2FC"/>
<rect x="294.07" y="470.07" width="0.87" height="19.86" fill="#97D2FC" fill-opacity="0.30"/>
<rect x="585.87" y="172.23" width="2.97" height="19.86" fill="#97D2FC"/>
<rect x="608.23" y="172.23" width="1.22" height="19.86" fill="#97D2FC" fill-opacity="0.40"/>
<rect x="615.21" y="172.23" width="0.87" height="19.86" fill="#97D2FC" fill-opacity="0.40"/>
<rect x="626.04" y="172.23" width="1.22" height="19.86" fill="#97D2FC" fill-opacity="0.80"/>
<rect x="646.47" y="172.23" width="1.05" height="19.86" fill="#97D2FC" fill-opacity="0.40"/>
<rect x="648.21" y="172.23" width="1.40" height="19.86" fill="#97D2FC" fill-opacity="0.80"/>
<rect x="661.84" y="172.23" width="1.75" height="19.86" fill="#97D2FC" fill-opacity="0.90"/>
<rect x="669.00" y="172.23" width="0.87" height="19.86" fill="#97D2FC" fill-opacity="0.30"/>
<rect x="720.86" y="172.23" width="0.87" height="19.86" fill="#97D2FC" fill-opacity="0.30"/>
<rect x="768.36" y="172.23" width="0.87" height="19.86" fill="#97D2FC" fill-opacity="0.40"/>
<rect x="791.06" y="172.23" width="1.40" height="19.86" fill="#97D2FC" fill-opacity="0.90"/>
<rect x="810.79" y="172.23" width="0.87" height="19.86" fill="#97D2FC" fill-opacity="0.50"/>
<rect x="815.16" y="172.23" width="0.87" height="19.86" fill="#97D2FC" fill-opacity="0.30"/>
<rect x="831.22" y="172.23" width="0.87" height="19.86" fill="#97D2FC" fill-opacity="0.40"/>
<rect x="837.86" y="172.23" width="2.97" height="19.86" fill="#97D2FC"/>
<rect x="842.57" y="172.23" width="3.49" height="19.86" fill="#97D2FC" fill-opacity="0.35"/>
<rect x="854.45" y="172.23" width="0.87" height="19.86" fill="#97D2FC" fill-opacity="0.40"/>
<rect x="858.81" y="172.23" width="2.10" height="19.86" fill="#97D2FC" fill-opacity="0.60"/>
<rect x="861.96" y="172.23" width="1.05" height="19.86" fill="#97D2FC" fill-opacity="0.60"/>
<rect x="880.47" y="172.23" width="4.02" height="19.86" fill="#97D2FC" fill-opacity="0.80"/>
<rect x="887.10" y="172.23" width="1.75" height="19.86" fill="#97D2FC"/>
<rect x="902.82" y="172.23" width="2.62" height="19.86" fill="#97D2FC" fill-opacity="0.30"/>
<rect x="911.55" y="172.23" width="1.05" height="19.86" fill="#97D2FC" fill-opacity="0.60"/>
<rect x="758.75" y="192.09" width="7.86" height="39.71" fill="#97D2FC"/>
<rect x="758.75" y="251.66" width="7.86" height="19.86" fill="#97D2FC"/>
<rect x="633.55" y="192.09" width="1.05" height="19.86" fill="#97D2FC" fill-opacity="0.70"/>
<rect x="647.34" y="192.09" width="0.87" height="19.86" fill="#97D2FC" fill-opacity="0.70"/>
<rect x="608.23" y="192.09" width="0.87" height="19.86" fill="#97D2FC" fill-opacity="0.30"/>
<rect x="672.31" y="192.09" width="0.87" height="19.86" fill="#97D2FC" fill-opacity="0.30"/>
<rect x="784.60" y="192.09" width="0.87" height="19.86" fill="#97D2FC" fill-opacity="0.50"/>
<rect x="811.32" y="192.09" width="0.87" height="19.86" fill="#97D2FC" fill-opacity="0.60"/>
<rect x="815.51" y="192.09" width="0.87" height="19.86" fill="#97D2FC" fill-opacity="0.50"/>
<rect x="844.84" y="192.09" width="0.87" height="19.86" fill="#97D2FC" fill-opacity="0.50"/>
<rect x="866.15" y="192.09" width="0.87" height="19.86" fill="#97D2FC" fill-opacity="0.50"/>
<rect x="886.23" y="192.09" width="4.02" height="19.86" fill="#97D2FC"/>
<rect x="902.82" y="192.09" width="1.75" height="19.86" fill="#97D2FC" fill-opacity="0.30"/>
<rect x="911.55" y="192.09" width="4.37" height="19.86" fill="#97D2FC" fill-opacity="0.30"/>
<rect x="922.03" y="192.09" width="3.49" height="19.86" fill="#97D2FC"/>
<rect x="615.21" y="211.95" width="0.87" height="19.86" fill="#97D2FC" fill-opacity="0.40"/>
<rect x="669.00" y="211.95" width="0.87" height="19.86" fill="#97D2FC" fill-opacity="0.30"/>
<rect x="816.90" y="211.95" width="0.87" height="19.86" fill="#97D2FC" fill-opacity="0.40"/>
<rect x="840.48" y="211.95" width="0.87" height="19.86" fill="#97D2FC" fill-opacity="0.50"/>
<rect x="858.47" y="211.95" width="1.05" height="19.86" fill="#97D2FC" fill-opacity="0.60"/>
<rect x="871.04" y="211.95" width="0.87" height="19.86" fill="#97D2FC" fill-opacity="0.60"/>
<rect x="879.25" y="211.95" width="1.75" height="19.86" fill="#97D2FC" fill-opacity="0.60"/>
<rect x="887.10" y="211.95" width="1.75" height="99.28" fill="#97D2FC"/>
<rect x="902.82" y="211.95" width="2.10" height="19.86" fill="#97D2FC" fill-opacity="0.70"/>
<rect x="816.03" y="231.80" width="0.87" height="39.71" fill="#97D2FC" fill-opacity="0.40"/>
<rect x="830.87" y="231.80" width="0.87" height="39.71" fill="#97D2FC" fill-opacity="0.45"/>
<rect x="841.70" y="231.80" width="0.87" height="19.86" fill="#97D2FC" fill-opacity="0.60"/>
<rect x="858.47" y="231.80" width="0.87" height="39.71" fill="#97D2FC" fill-opacity="0.40"/>
<rect x="881.87" y="231.80" width="2.10" height="39.71" fill="#97D2FC" fill-opacity="0.40"/>
<rect x="902.82" y="231.80" width="2.62" height="59.57" fill="#97D2FC" fill-opacity="0.80"/>
<rect x="785.12" y="231.80" width="0.70" height="19.86" fill="#97D2FC" fill-opacity="0.30"/>
<rect x="870.69" y="251.66" width="0.70" height="19.86" fill="#97D2FC" fill-opacity="0.30"/>
<rect x="626.04" y="271.51" width="8.21" height="39.71" fill="#97D2FC"/>
<rect x="757.18" y="271.51" width="0.87" height="39.71" fill="#97D2FC" fill-opacity="0.50"/>
<rect x="784.60" y="271.51" width="0.87" height="39.71" fill="#97D2FC" fill-opacity="0.30"/>
<rect x="841.35" y="271.51" width="1.22" height="39.71" fill="#97D2FC" fill-opacity="0.70"/>
<rect x="861.78" y="271.51" width="1.22" height="39.71" fill="#97D2FC" fill-opacity="0.50"/>
<rect x="884.14" y="271.51" width="0.87" height="39.71" fill="#97D2FC" fill-opacity="0.45"/>
<rect x="879.77" y="271.51" width="0.87" height="39.71" fill="#97D2FC" fill-opacity="0.30"/>
<rect x="903.17" y="291.37" width="2.62" height="19.86" fill="#97D2FC" fill-opacity="0.90"/>
<rect x="669.00" y="271.51" width="0.87" height="19.86" fill="#97D2FC" fill-opacity="0.30"/>
<rect x="642.63" y="311.23" width="5.24" height="39.71" fill="#97D2FC"/>
<rect x="641.23" y="331.08" width="1.40" height="19.86" fill="#97D2FC" fill-opacity="0.50"/>
<rect x="714.57" y="311.23" width="1.05" height="39.71" fill="#97D2FC" fill-opacity="0.80"/>
<rect x="668.12" y="311.23" width="0.87" height="39.71" fill="#97D2FC" fill-opacity="0.40"/>
<rect x="672.84" y="311.23" width="0.87" height="19.86" fill="#97D2FC" fill-opacity="0.30"/>
<rect x="842.23" y="311.23" width="0.87" height="19.86" fill="#97D2FC" fill-opacity="0.40"/>
<rect x="886.75" y="311.23" width="2.10" height="19.86" fill="#97D2FC"/>
<rect x="887.63" y="331.08" width="1.57" height="19.86" fill="#97D2FC" fill-opacity="0.90"/>
<rect x="885.01" y="331.08" width="0.87" height="19.86" fill="#97D2FC" fill-opacity="0.50"/>
<rect x="903.17" y="311.23" width="4.02" height="39.71" fill="#97D2FC"/>
<rect x="608.23" y="331.08" width="0.87" height="19.86" fill="#97D2FC" fill-opacity="0.30"/>
<rect x="810.27" y="331.08" width="0.87" height="19.86" fill="#97D2FC" fill-opacity="0.30"/>
<rect x="844.32" y="350.94" width="0.87" height="19.86" fill="#97D2FC" fill-opacity="0.40"/>
<rect x="849.56" y="350.94" width="1.22" height="19.86" fill="#97D2FC" fill-opacity="0.80"/>
<rect x="848.69" y="370.79" width="1.75" height="19.86" fill="#97D2FC" fill-opacity="0.90"/>
<rect x="858.29" y="350.94" width="1.22" height="39.71" fill="#97D2FC" fill-opacity="0.80"/>
<rect x="879.25" y="350.94" width="6.99" height="39.71" fill="#97D2FC" fill-opacity="0.40"/>
<rect x="888.50" y="350.94" width="0.87" height="19.86" fill="#97D2FC" fill-opacity="0.30"/>
<rect x="903.87" y="350.94" width="0.87" height="39.71" fill="#97D2FC" fill-opacity="0.60"/>
<rect x="634.94" y="350.94" width="0.87" height="19.86" fill="#97D2FC" fill-opacity="0.30"/>
<rect x="679.30" y="350.94" width="0.87" height="19.86" fill="#97D2FC" fill-opacity="0.30"/>
<rect x="782.85" y="350.94" width="0.87" height="19.86" fill="#97D2FC" fill-opacity="0.30"/>
<rect x="843.80" y="390.65" width="4.37" height="39.71" fill="#97D2FC"/>
<rect x="883.61" y="390.65" width="5.24" height="39.71" fill="#97D2FC"/>
<rect x="902.82" y="390.65" width="1.75" height="39.71" fill="#97D2FC" fill-opacity="0.50"/>
<rect x="905.44" y="390.65" width="1.22" height="39.71" fill="#97D2FC" fill-opacity="0.40"/>
<rect x="915.39" y="390.65" width="1.40" height="39.71" fill="#97D2FC" fill-opacity="0.90"/>
<rect x="845.19" y="430.36" width="2.62" height="19.86" fill="#97D2FC"/>
<rect x="845.19" y="450.22" width="2.97" height="19.86" fill="#97D2FC"/>
<rect x="885.36" y="430.36" width="4.37" height="39.71" fill="#97D2FC"/>
<rect x="903.69" y="430.36" width="2.62" height="19.86" fill="#97D2FC" fill-opacity="0.60"/>
<rect x="902.82" y="450.22" width="2.10" height="19.86" fill="#97D2FC" fill-opacity="0.80"/>
<rect x="836.99" y="430.36" width="0.87" height="19.86" fill="#97D2FC" fill-opacity="0.30"/>
<rect x="862.31" y="430.36" width="0.87" height="19.86" fill="#97D2FC" fill-opacity="0.40"/>
<rect x="880.99" y="430.36" width="1.75" height="19.86" fill="#97D2FC" fill-opacity="0.30"/>
<rect x="841.35" y="450.22" width="0.87" height="19.86" fill="#97D2FC" fill-opacity="0.50"/>
<rect x="768.88" y="450.22" width="0.87" height="19.86" fill="#97D2FC" fill-opacity="0.30"/>
<rect x="785.47" y="450.22" width="0.87" height="19.86" fill="#97D2FC" fill-opacity="0.30"/>
<rect x="815.16" y="450.22" width="0.87" height="19.86" fill="#97D2FC" fill-opacity="0.30"/>
<rect x="662.36" y="450.22" width="0.87" height="19.86" fill="#97D2FC" fill-opacity="0.30"/>
<rect x="1105.21" y="172.23" width="489.69" height="873.66" fill="#97D2FC"/>
<rect x="1100.50" y="192.09" width="2.27" height="19.86" fill="#97D2FC"/>
<rect x="1097.01" y="211.95" width="1.22" height="59.57" fill="#97D2FC" fill-opacity="0.70"/>
<rect x="1100.50" y="211.95" width="1.22" height="59.57" fill="#97D2FC" fill-opacity="0.60"/>
<rect x="1100.50" y="271.51" width="4.71" height="39.71" fill="#97D2FC"/>
<rect x="1097.01" y="271.51" width="1.22" height="39.71" fill="#97D2FC" fill-opacity="0.50"/>
<rect x="1098.75" y="311.23" width="1.22" height="39.71" fill="#97D2FC" fill-opacity="0.80"/>
<rect x="1102.77" y="350.94" width="2.44" height="39.71" fill="#97D2FC"/>
<rect x="1097.01" y="350.94" width="2.62" height="39.71" fill="#97D2FC" fill-opacity="0.50"/>
<rect x="1100.50" y="390.65" width="4.71" height="79.42" fill="#97D2FC"/>
<rect x="1097.01" y="390.65" width="3.49" height="79.42" fill="#97D2FC" fill-opacity="0.40"/>
<rect x="1098.75" y="172.23" width="1.40" height="19.86" fill="#97D2FC" fill-opacity="0.80"/>
<rect x="1078.32" y="231.80" width="4.37" height="99.28" fill="#97D2FC"/>
<rect x="925.00" y="311.23" width="6.11" height="39.71" fill="#97D2FC"/>
<rect x="929.37" y="192.09" width="2.97" height="19.86" fill="#97D2FC" fill-opacity="0.80"/>
<rect x="929.89" y="271.51" width="2.44" height="39.71" fill="#97D2FC"/>
<rect x="927.10" y="172.23" width="3.14" height="19.86" fill="#97D2FC" fill-opacity="0.70"/>
<rect x="928.49" y="211.95" width="1.40" height="59.57" fill="#97D2FC" fill-opacity="0.50"/>
<rect x="949.97" y="350.94" width="6.11" height="19.86" fill="#97D2FC"/>
<rect x="949.97" y="370.79" width="4.71" height="19.86" fill="#97D2FC"/>
<rect x="954.69" y="211.95" width="3.49" height="19.86" fill="#97D2FC"/>
<rect x="957.31" y="172.23" width="1.75" height="19.86" fill="#97D2FC" fill-opacity="0.80"/>
<rect x="955.56" y="231.80" width="2.62" height="39.71" fill="#97D2FC" fill-opacity="0.60"/>
<rect x="956.43" y="192.09" width="1.75" height="19.86" fill="#97D2FC" fill-opacity="0.40"/>
<rect x="956.78" y="271.51" width="1.40" height="39.71" fill="#97D2FC" fill-opacity="0.30"/>
<rect x="930.59" y="390.65" width="2.27" height="39.71" fill="#97D2FC" fill-opacity="0.90"/>
<rect x="930.24" y="430.36" width="1.75" height="39.71" fill="#97D2FC" fill-opacity="0.70"/>
<rect x="955.04" y="430.36" width="1.75" height="39.71" fill="#97D2FC" fill-opacity="0.90"/>
<rect x="955.04" y="390.65" width="1.75" height="39.71" fill="#97D2FC" fill-opacity="0.40"/>
<rect x="985.25" y="390.65" width="1.22" height="39.71" fill="#97D2FC" fill-opacity="0.50"/>
<rect x="987.52" y="390.65" width="1.22" height="39.71" fill="#97D2FC" fill-opacity="0.50"/>
<rect x="1071.34" y="430.36" width="3.49" height="19.86" fill="#97D2FC" fill-opacity="0.30"/>
<rect x="1080.07" y="172.23" width="1.75" height="19.86" fill="#97D2FC" fill-opacity="0.90"/>
<rect x="1073.96" y="311.23" width="0.87" height="79.42" fill="#97D2FC" fill-opacity="0.30"/>
<rect x="1089.67" y="311.23" width="0.87" height="19.86" fill="#97D2FC" fill-opacity="0.40"/>
<rect x="1066.10" y="231.80" width="0.87" height="39.71" fill="#97D2FC" fill-opacity="0.30"/>
<rect x="925.00" y="192.09" width="1.40" height="19.86" fill="#97D2FC" fill-opacity="0.50"/>
<rect x="1489.05" y="172.23" width="3.84" height="19.86" fill="#FEF5E2"/>
<rect x="1498.13" y="172.23" width="1.75" height="19.86" fill="#FEF5E2" fill-opacity="0.60"/>
<rect x="1496.38" y="192.09" width="2.97" height="19.86" fill="#FEF5E2" fill-opacity="0.80"/>
<rect x="1488.17" y="192.09" width="1.05" height="39.71" fill="#FEF5E2" fill-opacity="0.40"/>
<rect x="1488.17" y="231.80" width="1.75" height="79.42" fill="#FEF5E2" fill-opacity="0.80"/>
<rect x="1496.38" y="271.51" width="1.22" height="39.71" fill="#FEF5E2" fill-opacity="0.60"/>
<rect x="1500.22" y="271.51" width="1.05" height="39.71" fill="#FEF5E2" fill-opacity="0.70"/>
<rect x="1505.98" y="271.51" width="1.05" height="39.71" fill="#FEF5E2" fill-opacity="0.70"/>
<rect x="1489.05" y="311.23" width="1.22" height="39.71" fill="#FEF5E2" fill-opacity="0.50"/>
<rect x="1496.38" y="311.23" width="2.62" height="39.71" fill="#FEF5E2" fill-opacity="0.70"/>
<rect x="1494.11" y="350.94" width="2.27" height="39.71" fill="#FEF5E2" fill-opacity="0.80"/>
<rect x="1499.52" y="350.94" width="0.87" height="39.71" fill="#FEF5E2" fill-opacity="0.40"/>
<rect x="1488.87" y="350.94" width="1.05" height="39.71" fill="#FEF5E2" fill-opacity="0.40"/>
<rect x="1488.87" y="390.65" width="1.40" height="39.71" fill="#FEF5E2" fill-opacity="0.90"/>
<rect x="1499.87" y="390.65" width="1.22" height="39.71" fill="#FEF5E2" fill-opacity="0.50"/>
<rect x="1584.22" y="390.65" width="0.87" height="39.71" fill="#FEF5E2" fill-opacity="0.50"/>
<rect x="1488.52" y="430.36" width="1.75" height="39.71" fill="#FEF5E2" fill-opacity="0.90"/>
<rect x="1496.38" y="430.36" width="1.22" height="39.71" fill="#FEF5E2" fill-opacity="0.60"/>
<rect x="1581.95" y="192.09" width="0.87" height="19.86" fill="#FEF5E2" fill-opacity="0.40"/>
<rect x="270.84" y="470.07" width="0.87" height="19.86" fill="#97D2FC" fill-opacity="0.30"/>
<rect x="307.87" y="470.07" width="0.87" height="19.86" fill="#97D2FC" fill-opacity="0.30"/>
<rect x="417.18" y="470.07" width="0.87" height="19.86" fill="#97D2FC" fill-opacity="0.30"/>
<rect x="569.81" y="470.07" width="0.87" height="19.86" fill="#97D2FC" fill-opacity="0.30"/>
<rect x="311.88" y="489.93" width="2.97" height="19.86" fill="#97D2FC"/>
<rect x="249.37" y="489.93" width="1.22" height="19.86" fill="#97D2FC" fill-opacity="0.60"/>
<rect x="288.31" y="489.93" width="0.87" height="19.86" fill="#97D2FC" fill-opacity="0.30"/>
<rect x="294.94" y="489.93" width="0.87" height="19.86" fill="#97D2FC" fill-opacity="0.40"/>
<rect x="408.80" y="489.93" width="0.87" height="19.86" fill="#97D2FC" fill-opacity="0.30"/>
<rect x="253.38" y="509.79" width="1.05" height="39.71" fill="#97D2FC" fill-opacity="0.40"/>
<rect x="310.66" y="509.79" width="0.87" height="39.71" fill="#97D2FC" fill-opacity="0.30"/>
<rect x="342.79" y="549.50" width="6.99" height="19.86" fill="#97D2FC"/>
<rect x="325.68" y="549.50" width="1.05" height="19.86" fill="#97D2FC" fill-opacity="0.60"/>
<rect x="289.70" y="549.50" width="0.87" height="19.86" fill="#97D2FC" fill-opacity="0.30"/>
<rect x="283.07" y="549.50" width="0.87" height="19.86" fill="#97D2FC" fill-opacity="0.30"/>
<rect x="558.98" y="549.50" width="0.87" height="19.86" fill="#97D2FC" fill-opacity="0.40"/>
<rect x="285.16" y="569.35" width="2.62" height="19.86" fill="#97D2FC"/>
<rect x="290.75" y="569.35" width="1.05" height="19.86" fill="#97D2FC" fill-opacity="0.60"/>
<rect x="352.40" y="569.35" width="2.97" height="19.86" fill="#97D2FC"/>
<rect x="325.68" y="569.35" width="1.40" height="19.86" fill="#97D2FC" fill-opacity="0.70"/>
<rect x="311.53" y="569.35" width="0.87" height="19.86" fill="#97D2FC" fill-opacity="0.40"/>
<rect x="452.46" y="569.35" width="0.87" height="19.86" fill="#97D2FC" fill-opacity="0.50"/>
<rect x="416.66" y="569.35" width="0.87" height="19.86" fill="#97D2FC" fill-opacity="0.30"/>
<rect x="268.23" y="569.35" width="0.87" height="39.71" fill="#97D2FC" fill-opacity="0.30"/>
<rect x="272.59" y="569.35" width="0.87" height="19.86" fill="#97D2FC" fill-opacity="0.30"/>
<rect x="358.16" y="589.21" width="8.56" height="19.86" fill="#97D2FC"/>
<rect x="283.07" y="589.21" width="0.87" height="19.86" fill="#97D2FC" fill-opacity="0.50"/>
<rect x="287.43" y="589.21" width="0.87" height="19.86" fill="#97D2FC" fill-opacity="0.40"/>
<rect x="294.07" y="589.21" width="0.87" height="19.86" fill="#97D2FC" fill-opacity="0.30"/>
<rect x="329.00" y="589.21" width="0.87" height="19.86" fill="#97D2FC" fill-opacity="0.30"/>
<rect x="396.58" y="589.21" width="0.87" height="19.86" fill="#97D2FC" fill-opacity="0.30"/>
<rect x="560.73" y="589.21" width="0.87" height="19.86" fill="#97D2FC" fill-opacity="0.40"/>
<rect x="249.37" y="609.07" width="3.49" height="59.57" fill="#97D2FC"/>
<rect x="250.24" y="668.63" width="3.49" height="59.57" fill="#97D2FC"/>
<rect x="250.24" y="728.20" width="3.14" height="59.57" fill="#97D2FC"/>
<rect x="527.55" y="609.07" width="0.87" height="19.86" fill="#97D2FC" fill-opacity="0.30"/>
<rect x="580.81" y="609.07" width="0.87" height="19.86" fill="#97D2FC" fill-opacity="0.30"/>
<rect x="325.68" y="628.92" width="3.49" height="19.86" fill="#97D2FC"/>
<rect x="348.38" y="628.92" width="1.40" height="19.86" fill="#97D2FC" fill-opacity="0.70"/>
<rect x="396.93" y="628.92" width="0.87" height="19.86" fill="#97D2FC" fill-opacity="0.30"/>
<rect x="582.38" y="628.92" width="3.14" height="19.86" fill="#97D2FC"/>
<rect x="314.85" y="648.78" width="9.60" height="19.86" fill="#97D2FC"/>
<rect x="324.46" y="648.78" width="4.02" height="19.86" fill="#97D2FC" fill-opacity="0.60"/>
<rect x="341.39" y="648.78" width="1.40" height="19.86" fill="#97D2FC" fill-opacity="0.60"/>
<rect x="348.55" y="648.78" width="0.87" height="19.86" fill="#97D2FC" fill-opacity="0.40"/>
<rect x="523.18" y="648.78" width="0.87" height="19.86" fill="#97D2FC" fill-opacity="0.40"/>
<rect x="559.85" y="648.78" width="0.87" height="39.71" fill="#97D2FC" fill-opacity="0.35"/>
<rect x="580.81" y="648.78" width="0.87" height="19.86" fill="#97D2FC" fill-opacity="0.50"/>
<rect x="368.11" y="668.63" width="8.21" height="19.86" fill="#97D2FC"/>
<rect x="293.90" y="668.63" width="1.22" height="19.86" fill="#97D2FC" fill-opacity="0.70"/>
<rect x="328.47" y="668.63" width="1.40" height="19.86" fill="#97D2FC" fill-opacity="0.60"/>
<rect x="324.63" y="668.63" width="0.87" height="19.86" fill="#97D2FC" fill-opacity="0.40"/>
<rect x="544.14" y="668.63" width="0.87" height="19.86" fill="#97D2FC" fill-opacity="0.40"/>
<rect x="306.12" y="688.49" width="6.11" height="19.86" fill="#97D2FC"/>
<rect x="314.85" y="688.49" width="10.83" height="19.86" fill="#97D2FC"/>
<rect x="414.91" y="688.49" width="0.87" height="19.86" fill="#97D2FC" fill-opacity="0.30"/>
<rect x="542.39" y="688.49" width="0.87" height="19.86" fill="#97D2FC" fill-opacity="0.30"/>
<rect x="329.69" y="688.49" width="0.87" height="19.86" fill="#97D2FC" fill-opacity="0.30"/>
<rect x="311.01" y="708.35" width="1.22" height="19.86" fill="#97D2FC" fill-opacity="0.70"/>
<rect x="366.37" y="708.35" width="1.75" height="19.86" fill="#97D2FC" fill-opacity="0.90"/>
<rect x="324.63" y="708.35" width="0.87" height="19.86" fill="#97D2FC" fill-opacity="0.40"/>
<rect x="354.32" y="708.35" width="0.87" height="19.86" fill="#97D2FC" fill-opacity="0.30"/>
<rect x="543.26" y="708.35" width="0.87" height="19.86" fill="#97D2FC" fill-opacity="0.30"/>
<rect x="396.58" y="728.20" width="5.06" height="19.86" fill="#97D2FC"/>
<rect x="276.08" y="728.20" width="1.40" height="19.86" fill="#97D2FC" fill-opacity="0.60"/>
<rect x="286.56" y="728.20" width="1.40" height="19.86" fill="#97D2FC" fill-opacity="0.70"/>
<rect x="269.97" y="728.20" width="0.87" height="19.86" fill="#97D2FC" fill-opacity="0.40"/>
<rect x="288.66" y="728.20" width="0.87" height="19.86" fill="#97D2FC" fill-opacity="0.30"/>
<rect x="559.85" y="728.20" width="0.87" height="19.86" fill="#97D2FC" fill-opacity="0.40"/>
<rect x="284.29" y="748.06" width="1.05" height="39.71" fill="#97D2FC" fill-opacity="0.70"/>
<rect x="324.63" y="748.06" width="0.87" height="19.86" fill="#97D2FC" fill-opacity="0.30"/>
<rect x="559.85" y="767.91" width="0.87" height="19.86" fill="#97D2FC" fill-opacity="0.30"/>
<rect x="841.70" y="470.07" width="1.40" height="19.86" fill="#97D2FC" fill-opacity="0.70"/>
<rect x="845.19" y="470.07" width="1.75" height="19.86" fill="#97D2FC" fill-opacity="0.80"/>
<rect x="849.04" y="470.07" width="1.40" height="19.86" fill="#97D2FC" fill-opacity="0.70"/>
<rect x="862.31" y="470.07" width="1.05" height="19.86" fill="#97D2FC" fill-opacity="0.60"/>
<rect x="880.12" y="470.07" width="1.40" height="19.86" fill="#97D2FC" fill-opacity="0.60"/>
<rect x="885.36" y="470.07" width="1.40" height="19.86" fill="#97D2FC" fill-opacity="0.80"/>
<rect x="903.69" y="470.07" width="1.75" height="19.86" fill="#97D2FC" fill-opacity="0.70"/>
<rect x="634.07" y="470.07" width="0.87" height="19.86" fill="#97D2FC" fill-opacity="0.40"/>
<rect x="745.31" y="470.07" width="0.87" height="19.86" fill="#97D2FC" fill-opacity="0.30"/>
<rect x="757.18" y="470.07" width="0.87" height="19.86" fill="#97D2FC" fill-opacity="0.30"/>
<rect x="810.27" y="470.07" width="0.87" height="19.86" fill="#97D2FC" fill-opacity="0.40"/>
<rect x="815.16" y="470.07" width="0.87" height="19.86" fill="#97D2FC" fill-opacity="0.30"/>
<rect x="673.71" y="489.93" width="1.22" height="19.86" fill="#97D2FC" fill-opacity="0.70"/>
<rect x="691.52" y="489.93" width="0.87" height="19.86" fill="#97D2FC" fill-opacity="0.40"/>
<rect x="714.75" y="489.93" width="0.87" height="19.86" fill="#97D2FC" fill-opacity="0.30"/>
<rect x="610.50" y="489.93" width="0.87" height="19.86" fill="#97D2FC" fill-opacity="0.30"/>
<rect x="625.69" y="489.93" width="0.87" height="19.86" fill="#97D2FC" fill-opacity="0.30"/>
<rect x="646.64" y="489.93" width="0.87" height="19.86" fill="#97D2FC" fill-opacity="0.30"/>
<rect x="786.34" y="489.93" width="0.87" height="19.86" fill="#97D2FC" fill-opacity="0.30"/>
<rect x="811.67" y="489.93" width="0.87" height="19.86" fill="#97D2FC" fill-opacity="0.30"/>
<rect x="843.45" y="489.93" width="0.87" height="19.86" fill="#97D2FC" fill-opacity="0.40"/>
<rect x="857.42" y="489.93" width="3.49" height="19.86" fill="#97D2FC" fill-opacity="0.30"/>
<rect x="880.47" y="489.93" width="1.05" height="19.86" fill="#97D2FC" fill-opacity="0.60"/>
<rect x="883.26" y="489.93" width="0.87" height="19.86" fill="#97D2FC" fill-opacity="0.50"/>
<rect x="903.17" y="489.93" width="3.14" height="19.86" fill="#97D2FC" fill-opacity="0.50"/>
<rect x="914.70" y="489.93" width="0.87" height="19.86" fill="#97D2FC" fill-opacity="0.30"/>
<rect x="663.58" y="509.79" width="5.59" height="39.71" fill="#97D2FC"/>
<rect x="860.56" y="509.79" width="1.05" height="19.86" fill="#97D2FC" fill-opacity="0.40"/>
<rect x="860.21" y="529.64" width="1.75" height="19.86" fill="#97D2FC" fill-opacity="0.60"/>
<rect x="880.47" y="509.79" width="1.40" height="39.71" fill="#97D2FC" fill-opacity="0.80"/>
<rect x="903.69" y="509.79" width="2.62" height="39.71" fill="#97D2FC" fill-opacity="0.90"/>
<rect x="844.50" y="509.79" width="0.87" height="39.71" fill="#97D2FC" fill-opacity="0.30"/>
<rect x="815.51" y="509.79" width="0.87" height="39.71" fill="#97D2FC" fill-opacity="0.30"/>
<rect x="758.75" y="549.50" width="1.75" height="19.86" fill="#97D2FC" fill-opacity="0.90"/>
<rect x="762.77" y="549.50" width="1.40" height="19.86" fill="#97D2FC" fill-opacity="0.90"/>
<rect x="767.66" y="549.50" width="1.05" height="19.86" fill="#97D2FC" fill-opacity="0.60"/>
<rect x="784.07" y="549.50" width="0.87" height="19.86" fill="#97D2FC" fill-opacity="0.30"/>
<rect x="788.09" y="549.50" width="0.87" height="19.86" fill="#97D2FC" fill-opacity="0.40"/>
<rect x="729.94" y="549.50" width="0.87" height="19.86" fill="#97D2FC" fill-opacity="0.40"/>
<rect x="810.27" y="549.50" width="0.87" height="19.86" fill="#97D2FC" fill-opacity="0.30"/>
<rect x="815.51" y="549.50" width="0.87" height="19.86" fill="#97D2FC" fill-opacity="0.30"/>
<rect x="840.30" y="549.50" width="1.05" height="19.86" fill="#97D2FC" fill-opacity="0.60"/>
<rect x="874.88" y="549.50" width="4.89" height="19.86" fill="#97D2FC"/>
<rect x="880.12" y="549.50" width="4.37" height="19.86" fill="#97D2FC" fill-opacity="0.40"/>
<rect x="887.63" y="549.50" width="1.22" height="59.57" fill="#97D2FC" fill-opacity="0.90"/>
<rect x="903.34" y="549.50" width="1.05" height="19.86" fill="#97D2FC" fill-opacity="0.70"/>
<rect x="913.82" y="549.50" width="1.22" height="19.86" fill="#97D2FC" fill-opacity="0.80"/>
<rect x="759.10" y="569.35" width="6.99" height="19.86" fill="#97D2FC"/>
<rect x="758.40" y="589.21" width="7.68" height="19.86" fill="#97D2FC"/>
<rect x="615.73" y="569.35" width="0.87" height="19.86" fill="#97D2FC" fill-opacity="0.60"/>
<rect x="626.21" y="569.35" width="0.87" height="19.86" fill="#97D2FC" fill-opacity="0.60"/>
<rect x="634.42" y="569.35" width="0.87" height="19.86" fill="#97D2FC" fill-opacity="0.40"/>
<rect x="733.08" y="569.35" width="0.87" height="19.86" fill="#97D2FC" fill-opacity="0.30"/>
<rect x="844.50" y="569.35" width="0.87" height="19.86" fill="#97D2FC" fill-opacity="0.30"/>
<rect x="860.04" y="569.35" width="2.62" height="19.86" fill="#97D2FC" fill-opacity="0.40"/>
<rect x="880.12" y="569.35" width="5.24" height="19.86" fill="#97D2FC" fill-opacity="0.30"/>
<rect x="902.82" y="569.35" width="1.05" height="19.86" fill="#97D2FC" fill-opacity="0.60"/>
<rect x="714.57" y="589.21" width="1.05" height="19.86" fill="#97D2FC" fill-opacity="0.80"/>
<rect x="639.66" y="589.21" width="0.87" height="19.86" fill="#97D2FC" fill-opacity="0.30"/>
<rect x="642.63" y="589.21" width="0.87" height="19.86" fill="#97D2FC" fill-opacity="0.30"/>
<rect x="668.82" y="589.21" width="0.87" height="19.86" fill="#97D2FC" fill-opacity="0.40"/>
<rect x="822.49" y="589.21" width="0.87" height="19.86" fill="#97D2FC" fill-opacity="0.50"/>
<rect x="831.22" y="589.21" width="0.87" height="19.86" fill="#97D2FC" fill-opacity="0.40"/>
<rect x="840.48" y="589.21" width="0.87" height="19.86" fill="#97D2FC" fill-opacity="0.40"/>
<rect x="844.84" y="589.21" width="0.87" height="19.86" fill="#97D2FC" fill-opacity="0.30"/>
<rect x="859.69" y="589.21" width="0.87" height="19.86" fill="#97D2FC" fill-opacity="0.30"/>
<rect x="874.01" y="589.21" width="0.87" height="19.86" fill="#97D2FC" fill-opacity="0.40"/>
<rect x="881.87" y="589.21" width="3.49" height="19.86" fill="#97D2FC" fill-opacity="0.30"/>
<rect x="903.87" y="589.21" width="1.05" height="19.86" fill="#97D2FC" fill-opacity="0.70"/>
<rect x="907.71" y="589.21" width="0.87" height="19.86" fill="#97D2FC" fill-opacity="0.40"/>
<rect x="585.87" y="609.07" width="18.34" height="19.86" fill="#97D2FC"/>
<rect x="626.21" y="609.07" width="0.87" height="19.86" fill="#97D2FC" fill-opacity="0.60"/>
<rect x="647.17" y="609.07" width="0.87" height="19.86" fill="#97D2FC" fill-opacity="0.30"/>
<rect x="662.36" y="609.07" width="0.87" height="19.86" fill="#97D2FC" fill-opacity="0.30"/>
<rect x="757.18" y="609.07" width="0.87" height="19.86" fill="#97D2FC" fill-opacity="0.30"/>
<rect x="776.74" y="609.07" width="0.87" height="19.86" fill="#97D2FC" fill-opacity="0.30"/>
<rect x="784.07" y="609.07" width="0.87" height="19.86" fill="#97D2FC" fill-opacity="0.30"/>
<rect x="811.32" y="609.07" width="0.87" height="19.86" fill="#97D2FC" fill-opacity="0.50"/>
<rect x="818.65" y="609.07" width="0.87" height="19.86" fill="#97D2FC" fill-opacity="0.30"/>
<rect x="838.21" y="609.07" width="4.37" height="19.86" fill="#97D2FC" fill-opacity="0.40"/>
<rect x="842.57" y="609.07" width="1.22" height="19.86" fill="#97D2FC" fill-opacity="0.90"/>
<rect x="845.19" y="609.07" width="5.24" height="19.86" fill="#97D2FC" fill-opacity="0.90"/>
<rect x="857.94" y="609.07" width="0.87" height="19.86" fill="#97D2FC" fill-opacity="0.40"/>
<rect x="861.43" y="609.07" width="0.87" height="19.86" fill="#97D2FC" fill-opacity="0.40"/>
<rect x="881.87" y="609.07" width="4.37" height="19.86" fill="#97D2FC" fill-opacity="0.50"/>
<rect x="903.34" y="609.07" width="0.87" height="19.86" fill="#97D2FC" fill-opacity="0.30"/>
<rect x="757.88" y="628.92" width="1.40" height="19.86" fill="#97D2FC" fill-opacity="0.80"/>
<rect x="763.12" y="628.92" width="1.40" height="59.57" fill="#97D2FC" fill-opacity="0.80"/>
<rect x="610.50" y="628.92" width="0.87" height="19.86" fill="#97D2FC" fill-opacity="0.40"/>
<rect x="615.73" y="628.92" width="0.87" height="19.86" fill="#97D2FC" fill-opacity="0.30"/>
<rect x="647.52" y="628.92" width="0.87" height="19.86" fill="#97D2FC" fill-opacity="0.40"/>
<rect x="784.60" y="628.92" width="0.87" height="19.86" fill="#97D2FC" fill-opacity="0.40"/>
<rect x="816.90" y="628.92" width="0.87" height="19.86" fill="#97D2FC" fill-opacity="0.50"/>
<rect x="843.80" y="628.92" width="1.40" height="19.86" fill="#97D2FC" fill-opacity="0.80"/>
<rect x="860.56" y="628.92" width="1.75" height="19.86" fill="#97D2FC" fill-opacity="0.80"/>
<rect x="875.23" y="628.92" width="1.75" height="19.86" fill="#97D2FC"/>
<rect x="883.26" y="628.92" width="1.75" height="39.71" fill="#97D2FC" fill-opacity="0.90"/>
<rect x="904.22" y="628.92" width="0.87" height="39.71" fill="#97D2FC" fill-opacity="0.40"/>
<rect x="611.19" y="648.78" width="5.59" height="19.86" fill="#97D2FC"/>
<rect x="757.53" y="648.78" width="0.87" height="19.86" fill="#97D2FC" fill-opacity="0.40"/>
<rect x="767.14" y="648.78" width="0.87" height="19.86" fill="#97D2FC" fill-opacity="0.30"/>
<rect x="811.32" y="648.78" width="0.87" height="19.86" fill="#97D2FC" fill-opacity="0.40"/>
<rect x="831.22" y="648.78" width="0.87" height="19.86" fill="#97D2FC" fill-opacity="0.30"/>
<rect x="836.99" y="648.78" width="0.87" height="19.86" fill="#97D2FC" fill-opacity="0.30"/>
<rect x="842.05" y="648.78" width="1.75" height="19.86" fill="#97D2FC" fill-opacity="0.90"/>
<rect x="845.19" y="648.78" width="3.49" height="19.86" fill="#97D2FC" fill-opacity="0.30"/>
<rect x="859.69" y="648.78" width="1.05" height="19.86" fill="#97D2FC" fill-opacity="0.70"/>
<rect x="866.15" y="648.78" width="0.87" height="39.71" fill="#97D2FC" fill-opacity="0.30"/>
<rect x="874.36" y="648.78" width="2.62" height="19.86" fill="#97D2FC"/>
<rect x="878.37" y="648.78" width="4.37" height="19.86" fill="#97D2FC" fill-opacity="0.30"/>
<rect x="915.57" y="648.78" width="0.87" height="19.86" fill="#97D2FC" fill-opacity="0.40"/>
<rect x="923.43" y="648.78" width="0.87" height="19.86" fill="#97D2FC" fill-opacity="0.40"/>
<rect x="758.23" y="668.63" width="1.05" height="19.86" fill="#97D2FC" fill-opacity="0.80"/>
<rect x="784.60" y="668.63" width="0.87" height="19.86" fill="#97D2FC" fill-opacity="0.30"/>
<rect x="809.05" y="668.63" width="0.87" height="19.86" fill="#97D2FC" fill-opacity="0.30"/>
<rect x="844.50" y="668.63" width="0.87" height="19.86" fill="#97D2FC" fill-opacity="0.50"/>
<rect x="858.29" y="668.63" width="2.62" height="19.86" fill="#97D2FC" fill-opacity="0.30"/>
<rect x="875.23" y="668.63" width="2.27" height="19.86" fill="#97D2FC"/>
<rect x="883.61" y="668.63" width="1.05" height="19.86" fill="#97D2FC" fill-opacity="0.90"/>
<rect x="902.82" y="668.63" width="3.49" height="39.71" fill="#97D2FC" fill-opacity="0.30"/>
<rect x="661.14" y="688.49" width="0.87" height="19.86" fill="#97D2FC" fill-opacity="0.50"/>
<rect x="858.81" y="688.49" width="0.87" height="19.86" fill="#97D2FC" fill-opacity="0.40"/>
<rect x="844.50" y="688.49" width="0.87" height="19.86" fill="#97D2FC" fill-opacity="0.40"/>
<rect x="879.25" y="688.49" width="2.62" height="19.86" fill="#97D2FC" fill-opacity="0.40"/>
<rect x="883.26" y="688.49" width="1.40" height="39.71" fill="#97D2FC" fill-opacity="0.80"/>
<rect x="886.41" y="688.49" width="0.87" height="19.86" fill="#97D2FC" fill-opacity="0.60"/>
<rect x="647.52" y="708.35" width="0.87" height="19.86" fill="#97D2FC" fill-opacity="0.50"/>
<rect x="669.00" y="708.35" width="0.87" height="19.86" fill="#97D2FC" fill-opacity="0.40"/>
<rect x="788.09" y="708.35" width="0.87" height="19.86" fill="#97D2FC" fill-opacity="0.60"/>
<rect x="840.48" y="708.35" width="0.87" height="19.86" fill="#97D2FC" fill-opacity="0.30"/>
<rect x="858.81" y="708.35" width="0.87" height="19.86" fill="#97D2FC" fill-opacity="0.50"/>
<rect x="862.31" y="708.35" width="0.87" height="19.86" fill="#97D2FC" fill-opacity="0.30"/>
<rect x="878.37" y="708.35" width="3.49" height="19.86" fill="#97D2FC" fill-opacity="0.40"/>
<rect x="902.82" y="708.35" width="0.87" height="19.86" fill="#97D2FC" fill-opacity="0.50"/>
<rect x="905.96" y="708.35" width="0.87" height="19.86" fill="#97D2FC" fill-opacity="0.30"/>
<rect x="770.98" y="728.20" width="3.84" height="19.86" fill="#97D2FC"/>
<rect x="610.50" y="728.20" width="0.87" height="19.86" fill="#97D2FC" fill-opacity="0.40"/>
<rect x="627.09" y="728.20" width="0.87" height="19.86" fill="#97D2FC" fill-opacity="0.40"/>
<rect x="634.77" y="728.20" width="0.87" height="19.86" fill="#97D2FC" fill-opacity="0.40"/>
<rect x="637.04" y="728.20" width="0.87" height="19.86" fill="#97D2FC" fill-opacity="0.40"/>
<rect x="640.01" y="728.20" width="0.87" height="19.86" fill="#97D2FC" fill-opacity="0.40"/>
<rect x="679.30" y="728.20" width="0.87" height="19.86" fill="#97D2FC" fill-opacity="0.30"/>
<rect x="685.06" y="728.20" width="0.87" height="19.86" fill="#97D2FC" fill-opacity="0.30"/>
<rect x="830.87" y="728.20" width="0.87" height="19.86" fill="#97D2FC" fill-opacity="0.30"/>
<rect x="861.43" y="728.20" width="0.87" height="19.86" fill="#97D2FC" fill-opacity="0.50"/>
<rect x="881.52" y="728.20" width="0.87" height="19.86" fill="#97D2FC" fill-opacity="0.50"/>
<rect x="889.37" y="728.20" width="0.87" height="19.86" fill="#97D2FC" fill-opacity="0.40"/>
<rect x="903.17" y="728.20" width="3.14" height="19.86" fill="#97D2FC" fill-opacity="0.30"/>
<rect x="913.82" y="728.20" width="1.57" height="19.86" fill="#97D2FC" fill-opacity="0.90"/>
<rect x="907.19" y="748.06" width="8.21" height="39.71" fill="#97D2FC"/>
<rect x="811.32" y="748.06" width="1.05" height="39.71" fill="#97D2FC" fill-opacity="0.60"/>
<rect x="829.13" y="748.06" width="0.87" height="39.71" fill="#97D2FC" fill-opacity="0.30"/>
<rect x="842.23" y="748.06" width="0.87" height="39.71" fill="#97D2FC" fill-opacity="0.50"/>
<rect x="848.34" y="748.06" width="0.87" height="19.86" fill="#97D2FC" fill-opacity="0.30"/>
<rect x="854.45" y="748.06" width="0.87" height="19.86" fill="#97D2FC" fill-opacity="0.30"/>
<rect x="861.43" y="748.06" width="0.87" height="39.71" fill="#97D2FC" fill-opacity="0.40"/>
<rect x="880.99" y="748.06" width="4.37" height="19.86" fill="#97D2FC" fill-opacity="0.40"/>
<rect x="881.87" y="767.91" width="2.62" height="19.86" fill="#97D2FC" fill-opacity="0.80"/>
<rect x="887.98" y="748.06" width="1.22" height="39.71" fill="#97D2FC" fill-opacity="0.80"/>
<rect x="1100.50" y="470.07" width="4.71" height="39.71" fill="#97D2FC"/>
<rect x="1103.12" y="509.79" width="2.10" height="39.71" fill="#97D2FC"/>
<rect x="1097.88" y="509.79" width="5.24" height="39.71" fill="#97D2FC" fill-opacity="0.40"/>
<rect x="1101.37" y="549.50" width="3.84" height="19.86" fill="#97D2FC"/>
<rect x="1097.01" y="549.50" width="4.37" height="19.86" fill="#97D2FC" fill-opacity="0.40"/>
<rect x="1099.63" y="569.35" width="5.59" height="39.71" fill="#97D2FC"/>
<rect x="1097.18" y="470.07" width="1.05" height="39.71" fill="#97D2FC" fill-opacity="0.60"/>
<rect x="1097.18" y="569.35" width="1.05" height="39.71" fill="#97D2FC" fill-opacity="0.60"/>
<rect x="1097.88" y="609.07" width="1.75" height="19.86" fill="#97D2FC" fill-opacity="0.60"/>
<rect x="1100.50" y="609.07" width="1.75" height="19.86" fill="#97D2FC" fill-opacity="0.50"/>
<rect x="1098.75" y="628.92" width="1.75" height="39.71" fill="#97D2FC" fill-opacity="0.70"/>
<rect x="1102.25" y="628.92" width="1.22" height="39.71" fill="#97D2FC" fill-opacity="0.50"/>
<rect x="1099.63" y="668.63" width="1.75" height="99.28" fill="#97D2FC" fill-opacity="0.70"/>
<rect x="1098.75" y="767.91" width="2.62" height="19.86" fill="#97D2FC" fill-opacity="0.70"/>
<rect x="1078.32" y="470.07" width="4.37" height="19.86" fill="#97D2FC"/>
<rect x="1078.32" y="609.07" width="4.37" height="59.57" fill="#97D2FC"/>
<rect x="1078.32" y="767.91" width="4.37" height="19.86" fill="#97D2FC"/>
<rect x="1070.29" y="569.35" width="1.05" height="19.86" fill="#97D2FC" fill-opacity="0.80"/>
<rect x="1070.29" y="628.92" width="1.05" height="39.71" fill="#97D2FC" fill-opacity="0.80"/>
<rect x="1070.29" y="609.07" width="1.05" height="19.86" fill="#97D2FC" fill-opacity="0.30"/>
<rect x="955.04" y="470.07" width="3.14" height="19.86" fill="#97D2FC" fill-opacity="0.40"/>
<rect x="955.04" y="489.93" width="4.02" height="19.86" fill="#97D2FC" fill-opacity="0.80"/>
<rect x="956.43" y="509.79" width="1.05" height="39.71" fill="#97D2FC" fill-opacity="0.30"/>
<rect x="957.31" y="549.50" width="1.40" height="19.86" fill="#97D2FC" fill-opacity="0.60"/>
<rect x="955.04" y="569.35" width="2.62" height="39.71" fill="#97D2FC" fill-opacity="0.90"/>
<rect x="955.04" y="628.92" width="1.40" height="19.86" fill="#97D2FC" fill-opacity="0.50"/>
<rect x="955.73" y="668.63" width="1.05" height="19.86" fill="#97D2FC" fill-opacity="0.30"/>
<rect x="956.08" y="688.49" width="2.44" height="19.86" fill="#97D2FC" fill-opacity="0.70"/>
<rect x="955.04" y="708.35" width="2.62" height="19.86" fill="#97D2FC" fill-opacity="0.80"/>
<rect x="956.43" y="728.20" width="1.05" height="19.86" fill="#97D2FC" fill-opacity="0.30"/>
<rect x="957.31" y="748.06" width="1.22" height="39.71" fill="#97D2FC" fill-opacity="0.50"/>
<rect x="929.37" y="470.07" width="2.62" height="19.86" fill="#97D2FC" fill-opacity="0.60"/>
<rect x="929.89" y="489.93" width="2.44" height="19.86" fill="#97D2FC" fill-opacity="0.70"/>
<rect x="925.87" y="509.79" width="1.75" height="39.71" fill="#97D2FC" fill-opacity="0.80"/>
<rect x="932.86" y="509.79" width="1.22" height="39.71" fill="#97D2FC" fill-opacity="0.30"/>
<rect x="926.75" y="549.50" width="5.24" height="19.86" fill="#97D2FC" fill-opacity="0.30"/>
<rect x="929.89" y="569.35" width="2.44" height="39.71" fill="#97D2FC" fill-opacity="0.70"/>
<rect x="935.83" y="569.35" width="1.05" height="39.71" fill="#97D2FC" fill-opacity="0.40"/>
<rect x="925.87" y="609.07" width="3.49" height="19.86" fill="#97D2FC" fill-opacity="0.70"/>
<rect x="930.24" y="609.07" width="3.49" height="19.86" fill="#97D2FC" fill-opacity="0.30"/>
<rect x="931.64" y="628.92" width="1.22" height="19.86" fill="#97D2FC" fill-opacity="0.50"/>
<rect x="927.79" y="628.92" width="0.87" height="19.86" fill="#97D2FC" fill-opacity="0.30"/>
<rect x="926.75" y="648.78" width="1.75" height="39.71" fill="#97D2FC" fill-opacity="0.30"/>
<rect x="930.24" y="688.49" width="2.10" height="39.71" fill="#97D2FC" fill-opacity="0.70"/>
<rect x="931.11" y="728.20" width="2.62" height="19.86" fill="#97D2FC" fill-opacity="0.40"/>
<rect x="928.14" y="748.06" width="1.57" height="39.71" fill="#97D2FC" fill-opacity="0.70"/>
<rect x="947.70" y="470.07" width="1.22" height="19.86" fill="#97D2FC" fill-opacity="0.50"/>
<rect x="987.52" y="569.35" width="0.87" height="19.86" fill="#97D2FC" fill-opacity="0.50"/>
<rect x="985.25" y="609.07" width="1.22" height="19.86" fill="#97D2FC" fill-opacity="0.40"/>
<rect x="988.39" y="609.07" width="0.87" height="19.86" fill="#97D2FC" fill-opacity="0.30"/>
<rect x="1087.05" y="509.79" width="0.87" height="39.71" fill="#97D2FC" fill-opacity="0.40"/>
<rect x="968.66" y="728.20" width="1.05" height="19.86" fill="#97D2FC" fill-opacity="0.70"/>
<rect x="971.80" y="688.49" width="0.87" height="39.71" fill="#97D2FC" fill-opacity="0.30"/>
<rect x="1073.08" y="708.35" width="0.87" height="19.86" fill="#97D2FC" fill-opacity="0.40"/>
<rect x="1073.08" y="470.07" width="0.87" height="19.86" fill="#97D2FC" fill-opacity="0.30"/>
<rect x="989.61" y="668.63" width="0.87" height="19.86" fill="#97D2FC" fill-opacity="0.30"/>
<rect x="949.97" y="589.21" width="0.87" height="59.57" fill="#97D2FC" fill-opacity="0.30"/>
<rect x="949.97" y="688.49" width="0.87" height="39.71" fill="#97D2FC" fill-opacity="0.30"/>
<rect x="1488.17" y="470.07" width="2.10" height="297.84" fill="#FEF5E2" fill-opacity="0.80"/>
<rect x="1496.38" y="489.93" width="3.49" height="59.57" fill="#FEF5E2" fill-opacity="0.40"/>
<rect x="1495.51" y="569.35" width="2.10" height="19.86" fill="#FEF5E2" fill-opacity="0.60"/>
<rect x="1505.98" y="569.35" width="1.05" height="19.86" fill="#FEF5E2" fill-opacity="0.60"/>
<rect x="1499.00" y="589.21" width="1.75" height="19.86" fill="#FEF5E2" fill-opacity="0.40"/>
<rect x="1495.51" y="609.07" width="2.62" height="19.86" fill="#FEF5E2" fill-opacity="0.40"/>
<rect x="1508.60" y="609.07" width="0.87" height="19.86" fill="#FEF5E2" fill-opacity="0.50"/>
<rect x="1492.89" y="628.92" width="1.22" height="39.71" fill="#FEF5E2" fill-opacity="0.40"/>
<rect x="1498.13" y="628.92" width="1.75" height="39.71" fill="#FEF5E2" fill-opacity="0.40"/>
<rect x="1496.38" y="668.63" width="4.37" height="19.86" fill="#FEF5E2" fill-opacity="0.70"/>
<rect x="1497.25" y="688.49" width="3.49" height="39.71" fill="#FEF5E2" fill-opacity="0.70"/>
<rect x="1505.98" y="688.49" width="1.05" height="39.71" fill="#FEF5E2" fill-opacity="0.60"/>
<rect x="1496.38" y="728.20" width="4.37" height="19.86" fill="#FEF5E2" fill-opacity="0.60"/>
<rect x="1584.22" y="589.21" width="1.40" height="19.86" fill="#FEF5E2" fill-opacity="0.40"/>
<rect x="1582.82" y="609.07" width="1.05" height="59.57" fill="#FEF5E2" fill-opacity="0.30"/>
<rect x="1588.06" y="609.07" width="1.05" height="59.57" fill="#FEF5E2" fill-opacity="0.30"/>
<rect x="1584.57" y="688.49" width="1.05" height="39.71" fill="#FEF5E2" fill-opacity="0.30"/>
<rect x="1581.07" y="549.50" width="0.87" height="19.86" fill="#FEF5E2" fill-opacity="0.30"/>
<rect x="281.15" y="787.77" width="1.75" height="19.86" fill="#97D2FC" fill-opacity="0.90"/>
<rect x="289.70" y="787.77" width="0.87" height="19.86" fill="#97D2FC" fill-opacity="0.30"/>
<rect x="539.25" y="787.77" width="4.71" height="19.86" fill="#97D2FC"/>
<rect x="250.24" y="807.62" width="3.14" height="19.86" fill="#97D2FC"/>
<rect x="248.84" y="827.48" width="4.37" height="19.86" fill="#97D2FC"/>
<rect x="287.78" y="807.62" width="1.57" height="19.86" fill="#97D2FC" fill-opacity="0.80"/>
<rect x="342.79" y="807.62" width="1.75" height="19.86" fill="#97D2FC" fill-opacity="0.90"/>
<rect x="355.01" y="807.62" width="1.05" height="19.86" fill="#97D2FC" fill-opacity="0.70"/>
<rect x="408.45" y="807.62" width="0.87" height="39.71" fill="#97D2FC" fill-opacity="0.30"/>
<rect x="522.83" y="807.62" width="0.87" height="19.86" fill="#97D2FC" fill-opacity="0.40"/>
<rect x="569.81" y="827.48" width="0.87" height="19.86" fill="#97D2FC" fill-opacity="0.30"/>
<rect x="314.85" y="847.34" width="9.95" height="19.86" fill="#97D2FC"/>
<rect x="368.98" y="847.34" width="1.05" height="19.86" fill="#97D2FC" fill-opacity="0.90"/>
<rect x="286.91" y="847.34" width="1.05" height="19.86" fill="#97D2FC" fill-opacity="0.70"/>
<rect x="271.54" y="847.34" width="1.05" height="19.86" fill="#97D2FC" fill-opacity="0.50"/>
<rect x="570.15" y="847.34" width="12.22" height="19.86" fill="#97D2FC"/>
<rect x="295.99" y="867.19" width="11.18" height="19.86" fill="#97D2FC"/>
<rect x="314.85" y="867.19" width="10.83" height="19.86" fill="#97D2FC"/>
<rect x="283.07" y="867.19" width="0.87" height="19.86" fill="#97D2FC" fill-opacity="0.50"/>
<rect x="249.02" y="867.19" width="0.87" height="19.86" fill="#97D2FC" fill-opacity="0.40"/>
<rect x="368.11" y="867.19" width="0.87" height="19.86" fill="#97D2FC" fill-opacity="0.30"/>
<rect x="326.73" y="887.05" width="2.97" height="19.86" fill="#97D2FC" fill-opacity="0.80"/>
<rect x="327.07" y="906.91" width="1.22" height="19.86" fill="#97D2FC" fill-opacity="0.80"/>
<rect x="289.18" y="887.05" width="0.87" height="59.57" fill="#97D2FC" fill-opacity="0.35"/>
<rect x="330.04" y="986.33" width="12.22" height="19.86" fill="#97D2FC"/>
<rect x="288.13" y="986.33" width="1.22" height="19.86" fill="#97D2FC" fill-opacity="0.70"/>
<rect x="401.29" y="986.33" width="1.40" height="19.86" fill="#97D2FC" fill-opacity="0.90"/>
<rect x="401.29" y="1006.19" width="7.86" height="19.86" fill="#97D2FC"/>
<rect x="271.19" y="1006.19" width="1.22" height="19.86" fill="#97D2FC" fill-opacity="0.70"/>
<rect x="288.66" y="1006.19" width="1.05" height="19.86" fill="#97D2FC" fill-opacity="0.60"/>
<rect x="417.01" y="1006.19" width="2.62" height="19.86" fill="#97D2FC" fill-opacity="0.20"/>
<rect x="506.07" y="1006.19" width="0.87" height="19.86" fill="#97D2FC" fill-opacity="0.40"/>
<rect x="561.42" y="1006.19" width="1.05" height="19.86" fill="#97D2FC" fill-opacity="0.60"/>
<rect x="523.01" y="1026.04" width="1.92" height="19.86" fill="#97D2FC" fill-opacity="0.90"/>
<rect x="408.28" y="1026.04" width="1.05" height="19.86" fill="#97D2FC" fill-opacity="0.60"/>
<rect x="294.94" y="1026.04" width="0.87" height="19.86" fill="#97D2FC" fill-opacity="0.30"/>
<rect x="254.26" y="1026.04" width="0.87" height="19.86" fill="#97D2FC" fill-opacity="0.30"/>
<rect x="249.02" y="1026.04" width="0.87" height="19.86" fill="#97D2FC" fill-opacity="0.30"/>
<rect x="250.24" y="1056.76" width="3.14" height="19.86" fill="#97D2FC"/>
<rect x="445.47" y="1056.76" width="43.13" height="19.86" fill="#97D2FC"/>
<rect x="288.31" y="1056.76" width="0.87" height="19.86" fill="#97D2FC" fill-opacity="0.50"/>
<rect x="306.12" y="1056.76" width="0.87" height="19.86" fill="#97D2FC" fill-opacity="0.50"/>
<rect x="270.50" y="1056.76" width="0.87" height="19.86" fill="#97D2FC" fill-opacity="0.30"/>
<rect x="324.98" y="1056.76" width="0.87" height="19.86" fill="#97D2FC" fill-opacity="0.30"/>
<rect x="661.49" y="787.77" width="1.57" height="19.86" fill="#97D2FC" fill-opacity="0.90"/>
<rect x="668.47" y="787.77" width="1.05" height="19.86" fill="#97D2FC" fill-opacity="0.60"/>
<rect x="647.52" y="787.77" width="0.87" height="19.86" fill="#97D2FC" fill-opacity="0.40"/>
<rect x="714.75" y="787.77" width="0.87" height="19.86" fill="#97D2FC" fill-opacity="0.30"/>
<rect x="745.31" y="787.77" width="0.87" height="19.86" fill="#97D2FC" fill-opacity="0.30"/>
<rect x="778.14" y="787.77" width="0.87" height="19.86" fill="#97D2FC" fill-opacity="0.30"/>
<rect x="850.43" y="787.77" width="2.10" height="19.86" fill="#97D2FC" fill-opacity="0.90"/>
<rect x="860.56" y="787.77" width="1.75" height="19.86" fill="#97D2FC" fill-opacity="0.60"/>
<rect x="880.12" y="787.77" width="4.37" height="19.86" fill="#97D2FC" fill-opacity="0.50"/>
<rect x="903.87" y="787.77" width="0.87" height="19.86" fill="#97D2FC" fill-opacity="0.30"/>
<rect x="912.95" y="787.77" width="0.87" height="19.86" fill="#97D2FC" fill-opacity="0.30"/>
<rect x="922.55" y="787.77" width="0.87" height="19.86" fill="#97D2FC" fill-opacity="0.30"/>
<rect x="609.10" y="807.62" width="1.57" height="19.86" fill="#97D2FC" fill-opacity="0.90"/>
<rect x="635.29" y="807.62" width="0.87" height="39.71" fill="#97D2FC" fill-opacity="0.30"/>
<rect x="756.66" y="807.62" width="0.87" height="19.86" fill="#97D2FC" fill-opacity="0.30"/>
<rect x="840.83" y="807.62" width="5.24" height="19.86" fill="#97D2FC" fill-opacity="0.30"/>
<rect x="860.56" y="807.62" width="1.40" height="19.86" fill="#97D2FC" fill-opacity="0.50"/>
<rect x="879.25" y="807.62" width="2.62" height="19.86" fill="#97D2FC" fill-opacity="0.30"/>
<rect x="882.74" y="807.62" width="1.75" height="19.86" fill="#97D2FC" fill-opacity="0.80"/>
<rect x="887.63" y="807.62" width="1.22" height="19.86" fill="#97D2FC" fill-opacity="0.80"/>
<rect x="902.47" y="807.62" width="0.87" height="19.86" fill="#97D2FC" fill-opacity="0.40"/>
<rect x="905.96" y="807.62" width="0.87" height="19.86" fill="#97D2FC" fill-opacity="0.30"/>
<rect x="668.47" y="827.48" width="1.05" height="19.86" fill="#97D2FC" fill-opacity="0.70"/>
<rect x="616.43" y="827.48" width="0.87" height="19.86" fill="#97D2FC" fill-opacity="0.30"/>
<rect x="715.27" y="827.48" width="0.87" height="19.86" fill="#97D2FC" fill-opacity="0.30"/>
<rect x="768.01" y="827.48" width="0.87" height="19.86" fill="#97D2FC" fill-opacity="0.30"/>
<rect x="815.16" y="827.48" width="0.87" height="19.86" fill="#97D2FC" fill-opacity="0.30"/>
<rect x="837.34" y="827.48" width="9.60" height="19.86" fill="#97D2FC" fill-opacity="0.25"/>
<rect x="915.92" y="827.48" width="8.38" height="19.86" fill="#97D2FC"/>
<rect x="880.12" y="827.48" width="6.99" height="19.86" fill="#97D2FC" fill-opacity="0.30"/>
<rect x="905.09" y="827.48" width="0.87" height="19.86" fill="#97D2FC" fill-opacity="0.30"/>
<rect x="633.02" y="847.34" width="1.40" height="19.86" fill="#97D2FC" fill-opacity="0.80"/>
<rect x="626.04" y="847.34" width="0.87" height="19.86" fill="#97D2FC" fill-opacity="0.50"/>
<rect x="662.88" y="847.34" width="0.87" height="19.86" fill="#97D2FC" fill-opacity="0.50"/>
<rect x="666.38" y="847.34" width="0.87" height="19.86" fill="#97D2FC" fill-opacity="0.30"/>
<rect x="810.27" y="847.34" width="0.87" height="19.86" fill="#97D2FC" fill-opacity="0.30"/>
<rect x="839.61" y="847.34" width="0.87" height="19.86" fill="#97D2FC" fill-opacity="0.50"/>
<rect x="843.10" y="847.34" width="0.87" height="19.86" fill="#97D2FC" fill-opacity="0.30"/>
<rect x="856.20" y="847.34" width="1.57" height="19.86" fill="#97D2FC" fill-opacity="0.90"/>
<rect x="861.43" y="847.34" width="0.87" height="19.86" fill="#97D2FC" fill-opacity="0.60"/>
<rect x="883.26" y="847.34" width="1.22" height="19.86" fill="#97D2FC" fill-opacity="0.80"/>
<rect x="887.10" y="847.34" width="3.14" height="19.86" fill="#97D2FC"/>
<rect x="902.82" y="847.34" width="0.87" height="19.86" fill="#97D2FC" fill-opacity="0.30"/>
<rect x="663.93" y="867.19" width="1.75" height="19.86" fill="#97D2FC" fill-opacity="0.90"/>
<rect x="668.47" y="867.19" width="1.05" height="19.86" fill="#97D2FC" fill-opacity="0.70"/>
<rect x="768.01" y="867.19" width="0.87" height="19.86" fill="#97D2FC" fill-opacity="0.30"/>
<rect x="815.51" y="867.19" width="0.87" height="19.86" fill="#97D2FC" fill-opacity="0.40"/>
<rect x="860.56" y="867.19" width="1.75" height="19.86" fill="#97D2FC" fill-opacity="0.40"/>
<rect x="880.12" y="867.19" width="0.87" height="19.86" fill="#97D2FC" fill-opacity="0.50"/>
<rect x="884.48" y="867.19" width="2.62" height="19.86" fill="#97D2FC" fill-opacity="0.40"/>
<rect x="904.22" y="867.19" width="2.44" height="19.86" fill="#97D2FC" fill-opacity="0.80"/>
<rect x="758.75" y="887.05" width="1.75" height="19.86" fill="#97D2FC" fill-opacity="0.40"/>
<rect x="762.77" y="887.05" width="2.10" height="19.86" fill="#97D2FC" fill-opacity="0.80"/>
<rect x="768.01" y="887.05" width="1.22" height="19.86" fill="#97D2FC" fill-opacity="0.50"/>
<rect x="821.79" y="887.05" width="0.87" height="39.71" fill="#97D2FC" fill-opacity="0.60"/>
<rect x="840.48" y="887.05" width="0.87" height="39.71" fill="#97D2FC" fill-opacity="0.50"/>
<rect x="845.19" y="887.05" width="3.14" height="39.71" fill="#97D2FC"/>
<rect x="860.56" y="887.05" width="2.10" height="39.71" fill="#97D2FC" fill-opacity="0.30"/>
<rect x="869.29" y="887.05" width="0.87" height="19.86" fill="#97D2FC" fill-opacity="0.40"/>
<rect x="874.88" y="887.05" width="2.62" height="19.86" fill="#97D2FC"/>
<rect x="884.48" y="887.05" width="4.37" height="19.86" fill="#97D2FC"/>
<rect x="884.48" y="906.91" width="5.24" height="19.86" fill="#97D2FC"/>
<rect x="903.17" y="887.05" width="1.75" height="39.71" fill="#97D2FC" fill-opacity="0.80"/>
<rect x="611.54" y="906.91" width="1.05" height="19.86" fill="#97D2FC" fill-opacity="0.60"/>
<rect x="768.88" y="906.91" width="0.87" height="19.86" fill="#97D2FC" fill-opacity="0.40"/>
<rect x="783.38" y="906.91" width="0.87" height="19.86" fill="#97D2FC" fill-opacity="0.30"/>
<rect x="757.88" y="926.76" width="1.05" height="59.57" fill="#97D2FC" fill-opacity="0.70"/>
<rect x="762.77" y="926.76" width="2.10" height="59.57" fill="#97D2FC" fill-opacity="0.90"/>
<rect x="784.07" y="926.76" width="1.40" height="59.57" fill="#97D2FC" fill-opacity="0.80"/>
<rect x="848.16" y="926.76" width="20.08" height="19.86" fill="#97D2FC"/>
<rect x="870.86" y="926.76" width="9.26" height="19.86" fill="#97D2FC"/>
<rect x="848.16" y="946.62" width="14.49" height="19.86" fill="#97D2FC"/>
<rect x="863.53" y="946.62" width="3.49" height="19.86" fill="#97D2FC"/>
<rect x="869.29" y="946.62" width="10.83" height="19.86" fill="#97D2FC"/>
<rect x="848.16" y="966.47" width="18.34" height="19.86" fill="#97D2FC"/>
<rect x="869.64" y="966.47" width="10.48" height="19.86" fill="#97D2FC"/>
<rect x="880.99" y="926.76" width="5.76" height="19.86" fill="#97D2FC" fill-opacity="0.90"/>
<rect x="880.99" y="946.62" width="5.76" height="39.71" fill="#97D2FC" fill-opacity="0.80"/>
<rect x="902.82" y="926.76" width="2.62" height="59.57" fill="#97D2FC" fill-opacity="0.30"/>
<rect x="646.64" y="946.62" width="0.87" height="39.71" fill="#97D2FC" fill-opacity="0.30"/>
<rect x="810.27" y="986.33" width="2.62" height="19.86" fill="#97D2FC" fill-opacity="0.30"/>
<rect x="816.90" y="986.33" width="0.87" height="19.86" fill="#97D2FC" fill-opacity="0.60"/>
<rect x="830.87" y="986.33" width="0.87" height="19.86" fill="#97D2FC" fill-opacity="0.50"/>
<rect x="839.26" y="986.33" width="0.87" height="19.86" fill="#97D2FC" fill-opacity="0.60"/>
<rect x="842.57" y="986.33" width="4.37" height="19.86" fill="#97D2FC" fill-opacity="0.40"/>
<rect x="849.21" y="986.33" width="0.87" height="19.86" fill="#97D2FC" fill-opacity="0.70"/>
<rect x="853.40" y="986.33" width="2.27" height="19.86" fill="#97D2FC" fill-opacity="0.90"/>
<rect x="856.54" y="986.33" width="4.37" height="19.86" fill="#97D2FC" fill-opacity="0.70"/>
<rect x="864.40" y="986.33" width="1.75" height="19.86" fill="#97D2FC" fill-opacity="0.90"/>
<rect x="881.34" y="986.33" width="5.41" height="19.86" fill="#97D2FC"/>
<rect x="671.96" y="986.33" width="0.87" height="19.86" fill="#97D2FC" fill-opacity="0.30"/>
<rect x="616.96" y="986.33" width="0.87" height="19.86" fill="#97D2FC" fill-opacity="0.30"/>
<rect x="623.94" y="986.33" width="0.87" height="19.86" fill="#97D2FC" fill-opacity="0.30"/>
<rect x="626.91" y="986.33" width="0.87" height="19.86" fill="#97D2FC" fill-opacity="0.30"/>
<rect x="617.31" y="1006.19" width="1.22" height="19.86" fill="#97D2FC" fill-opacity="0.80"/>
<rect x="634.07" y="1006.19" width="0.87" height="19.86" fill="#97D2FC" fill-opacity="0.50"/>
<rect x="647.17" y="1006.19" width="0.87" height="19.86" fill="#97D2FC" fill-opacity="0.40"/>
<rect x="812.01" y="1006.19" width="1.75" height="19.86" fill="#97D2FC" fill-opacity="0.40"/>
<rect x="816.90" y="1006.19" width="0.87" height="19.86" fill="#97D2FC" fill-opacity="0.30"/>
<rect x="823.54" y="1006.19" width="0.87" height="19.86" fill="#97D2FC" fill-opacity="0.40"/>
<rect x="830.53" y="1006.19" width="0.87" height="19.86" fill="#97D2FC" fill-opacity="0.40"/>
<rect x="839.96" y="1006.19" width="6.99" height="19.86" fill="#97D2FC" fill-opacity="0.30"/>
<rect x="853.40" y="1006.19" width="1.92" height="19.86" fill="#97D2FC" fill-opacity="0.80"/>
<rect x="856.20" y="1006.19" width="1.22" height="19.86" fill="#97D2FC" fill-opacity="0.90"/>
<rect x="860.91" y="1006.19" width="1.75" height="19.86" fill="#97D2FC" fill-opacity="0.50"/>
<rect x="864.40" y="1006.19" width="1.75" height="19.86" fill="#97D2FC" fill-opacity="0.80"/>
<rect x="881.34" y="1006.19" width="4.02" height="19.86" fill="#97D2FC"/>
<rect x="887.63" y="1006.19" width="1.22" height="19.86" fill="#97D2FC" fill-opacity="0.90"/>
<rect x="902.47" y="1006.19" width="0.87" height="19.86" fill="#97D2FC" fill-opacity="0.40"/>
<rect x="912.60" y="1006.19" width="0.87" height="19.86" fill="#97D2FC" fill-opacity="0.50"/>
<rect x="768.01" y="1006.19" width="0.87" height="19.86" fill="#97D2FC" fill-opacity="0.30"/>
<rect x="585.87" y="1026.04" width="2.97" height="19.86" fill="#97D2FC"/>
<rect x="811.14" y="1026.04" width="1.75" height="19.86" fill="#97D2FC" fill-opacity="0.50"/>
<rect x="815.51" y="1026.04" width="2.62" height="19.86" fill="#97D2FC" fill-opacity="0.30"/>
<rect x="830.35" y="1026.04" width="1.75" height="19.86" fill="#97D2FC" fill-opacity="0.60"/>
<rect x="839.08" y="1026.04" width="4.37" height="19.86" fill="#97D2FC" fill-opacity="0.30"/>
<rect x="853.40" y="1026.04" width="4.02" height="19.86" fill="#97D2FC"/>
<rect x="858.29" y="1026.04" width="8.21" height="19.86" fill="#97D2FC" fill-opacity="0.35"/>
<rect x="879.25" y="1026.04" width="6.46" height="19.86" fill="#97D2FC" fill-opacity="0.90"/>
<rect x="889.37" y="1026.04" width="0.87" height="19.86" fill="#97D2FC" fill-opacity="0.30"/>
<rect x="905.44" y="1026.04" width="1.75" height="19.86" fill="#97D2FC" fill-opacity="0.40"/>
<rect x="662.36" y="1026.04" width="0.87" height="19.86" fill="#97D2FC" fill-opacity="0.30"/>
<rect x="669.00" y="1026.04" width="0.87" height="19.86" fill="#97D2FC" fill-opacity="0.30"/>
<rect x="757.18" y="1026.04" width="0.87" height="19.86" fill="#97D2FC" fill-opacity="0.30"/>
<rect x="785.47" y="1026.04" width="0.87" height="19.86" fill="#97D2FC" fill-opacity="0.30"/>
<rect x="790.36" y="1026.04" width="0.87" height="19.86" fill="#97D2FC" fill-opacity="0.30"/>
<rect x="714.22" y="1056.76" width="1.40" height="19.86" fill="#97D2FC" fill-opacity="0.90"/>
<rect x="757.01" y="1056.76" width="1.22" height="19.86" fill="#97D2FC" fill-opacity="0.90"/>
<rect x="789.66" y="1056.76" width="1.05" height="19.86" fill="#97D2FC" fill-opacity="0.70"/>
<rect x="603.86" y="1056.76" width="0.87" height="19.86" fill="#97D2FC" fill-opacity="0.40"/>
<rect x="628.31" y="1056.76" width="0.87" height="19.86" fill="#97D2FC" fill-opacity="0.30"/>
<rect x="640.18" y="1056.76" width="0.87" height="19.86" fill="#97D2FC" fill-opacity="0.40"/>
<rect x="671.96" y="1056.76" width="0.87" height="19.86" fill="#97D2FC" fill-opacity="0.40"/>
<rect x="718.24" y="1056.76" width="0.87" height="19.86" fill="#97D2FC" fill-opacity="0.30"/>
<rect x="776.39" y="1056.76" width="0.87" height="19.86" fill="#97D2FC" fill-opacity="0.40"/>
<rect x="807.65" y="1056.76" width="2.97" height="19.86" fill="#97D2FC" fill-opacity="0.40"/>
<rect x="843.10" y="1056.76" width="0.87" height="19.86" fill="#97D2FC" fill-opacity="0.30"/>
<rect x="848.34" y="1056.76" width="0.87" height="19.86" fill="#97D2FC" fill-opacity="0.30"/>
<rect x="858.81" y="1056.76" width="0.87" height="19.86" fill="#97D2FC" fill-opacity="0.30"/>
<rect x="865.80" y="1056.76" width="0.87" height="19.86" fill="#97D2FC" fill-opacity="0.30"/>
<rect x="884.48" y="1056.76" width="1.75" height="19.86" fill="#97D2FC" fill-opacity="0.50"/>
<rect x="890.25" y="1056.76" width="0.87" height="19.86" fill="#97D2FC" fill-opacity="0.40"/>
<rect x="903.34" y="1056.76" width="0.87" height="19.86" fill="#97D2FC" fill-opacity="0.30"/>
<rect x="1100.15" y="787.77" width="2.62" height="19.86" fill="#97D2FC"/>
<rect x="1100.50" y="807.62" width="4.71" height="19.86" fill="#97D2FC"/>
<rect x="1099.63" y="827.48" width="5.59" height="19.86" fill="#97D2FC"/>
<rect x="1097.88" y="827.48" width="1.75" height="19.86" fill="#97D2FC" fill-opacity="0.50"/>
<rect x="1100.50" y="847.34" width="4.71" height="79.42" fill="#97D2FC"/>
<rect x="1097.01" y="847.34" width="1.22" height="79.42" fill="#97D2FC" fill-opacity="0.60"/>
<rect x="1097.01" y="926.76" width="0.87" height="59.57" fill="#97D2FC" fill-opacity="0.50"/>
<rect x="1100.50" y="926.76" width="1.75" height="59.57" fill="#97D2FC" fill-opacity="0.50"/>
<rect x="1103.12" y="986.33" width="2.10" height="59.57" fill="#97D2FC"/>
<rect x="1098.75" y="986.33" width="1.40" height="59.57" fill="#97D2FC" fill-opacity="0.80"/>
<rect x="1078.32" y="1026.04" width="4.37" height="19.86" fill="#97D2FC"/>
<rect x="936.35" y="887.05" width="13.62" height="19.86" fill="#97D2FC"/>
<rect x="933.38" y="887.05" width="2.97" height="39.71" fill="#97D2FC"/>
<rect x="947.35" y="906.91" width="2.62" height="19.86" fill="#97D2FC"/>
<rect x="955.04" y="887.05" width="2.62" height="39.71" fill="#97D2FC" fill-opacity="0.80"/>
<rect x="955.04" y="847.34" width="3.14" height="19.86" fill="#97D2FC" fill-opacity="0.90"/>
<rect x="956.96" y="807.62" width="0.87" height="39.71" fill="#97D2FC" fill-opacity="0.30"/>
<rect x="957.31" y="867.19" width="1.40" height="19.86" fill="#97D2FC" fill-opacity="0.40"/>
<rect x="957.31" y="986.33" width="2.10" height="59.57" fill="#97D2FC" fill-opacity="0.60"/>
<rect x="957.83" y="926.76" width="0.87" height="59.57" fill="#97D2FC" fill-opacity="0.30"/>
<rect x="925.87" y="807.62" width="2.27" height="19.86" fill="#97D2FC" fill-opacity="0.90"/>
<rect x="925.87" y="847.34" width="1.22" height="39.71" fill="#97D2FC" fill-opacity="0.70"/>
<rect x="930.24" y="847.34" width="1.40" height="39.71" fill="#97D2FC" fill-opacity="0.50"/>
<rect x="925.87" y="767.91" width="3.49" height="39.71" fill="#97D2FC" fill-opacity="0.50"/>
<rect x="925.00" y="827.48" width="2.62" height="19.86" fill="#97D2FC" fill-opacity="0.30"/>
<rect x="931.11" y="827.48" width="1.22" height="19.86" fill="#97D2FC" fill-opacity="0.50"/>
<rect x="928.49" y="926.76" width="1.40" height="119.14" fill="#97D2FC" fill-opacity="0.40"/>
<rect x="1070.29" y="827.48" width="1.05" height="19.86" fill="#97D2FC" fill-opacity="0.80"/>
<rect x="1070.29" y="986.33" width="1.05" height="19.86" fill="#97D2FC" fill-opacity="0.80"/>
<rect x="1073.96" y="847.34" width="0.87" height="39.71" fill="#97D2FC" fill-opacity="0.30"/>
<rect x="1073.96" y="926.76" width="0.87" height="59.57" fill="#97D2FC" fill-opacity="0.30"/>
<rect x="973.55" y="807.62" width="0.87" height="19.86" fill="#97D2FC" fill-opacity="0.30"/>
<rect x="984.90" y="807.62" width="0.87" height="19.86" fill="#97D2FC" fill-opacity="0.30"/>
<rect x="1084.43" y="887.05" width="0.87" height="39.71" fill="#97D2FC" fill-opacity="0.30"/>
<rect x="949.97" y="787.77" width="0.87" height="99.28" fill="#97D2FC" fill-opacity="0.25"/>
<rect x="1488.17" y="767.91" width="2.10" height="19.86" fill="#FEF5E2" fill-opacity="0.50"/>
<rect x="1496.38" y="767.91" width="2.62" height="19.86" fill="#FEF5E2" fill-opacity="0.30"/>
<rect x="1492.89" y="787.77" width="6.99" height="19.86" fill="#FEF5E2" fill-opacity="0.90"/>
<rect x="1487.65" y="787.77" width="3.49" height="19.86" fill="#FEF5E2" fill-opacity="0.40"/>
<rect x="1501.62" y="787.77" width="3.49" height="19.86" fill="#FEF5E2" fill-opacity="0.40"/>
<rect x="1488.52" y="807.62" width="1.75" height="39.71" fill="#FEF5E2" fill-opacity="0.90"/>
<rect x="1495.51" y="807.62" width="5.24" height="19.86" fill="#FEF5E2" fill-opacity="0.40"/>
<rect x="1497.25" y="827.48" width="3.49" height="19.86" fill="#FEF5E2" fill-opacity="0.30"/>
<rect x="1487.65" y="847.34" width="1.75" height="19.86" fill="#FEF5E2" fill-opacity="0.40"/>
<rect x="1495.51" y="847.34" width="2.10" height="19.86" fill="#FEF5E2" fill-opacity="0.50"/>
<rect x="1487.65" y="867.19" width="2.62" height="19.86" fill="#FEF5E2" fill-opacity="0.70"/>
<rect x="1494.63" y="867.19" width="2.62" height="19.86" fill="#FEF5E2" fill-opacity="0.30"/>
<rect x="1488.87" y="887.05" width="1.40" height="39.71" fill="#FEF5E2" fill-opacity="0.80"/>
<rect x="1493.76" y="887.05" width="1.75" height="39.71" fill="#FEF5E2" fill-opacity="0.90"/>
<rect x="1503.37" y="887.05" width="1.75" height="39.71" fill="#FEF5E2" fill-opacity="0.40"/>
<rect x="1490.27" y="926.76" width="6.64" height="59.57" fill="#FEF5E2"/>
<rect x="1488.52" y="986.33" width="1.75" height="19.86" fill="#FEF5E2" fill-opacity="0.50"/>
<rect x="1490.27" y="986.33" width="5.24" height="19.86" fill="#FEF5E2"/>
<rect x="1489.40" y="1006.19" width="6.11" height="19.86" fill="#FEF5E2"/>
<rect x="1488.17" y="1026.04" width="7.68" height="19.86" fill="#FEF5E2"/>
<rect x="959.93" y="1056.76" width="4.37" height="19.86" fill="#97D2FC"/>
<rect x="969.53" y="1056.76" width="1.22" height="19.86" fill="#97D2FC" fill-opacity="0.50"/>
<rect x="986.12" y="1056.76" width="1.40" height="19.86" fill="#97D2FC" fill-opacity="0.80"/>
<rect x="988.74" y="1056.76" width="60.25" height="19.86" fill="#97D2FC"/>
<rect x="1059.81" y="1056.76" width="1.40" height="19.86" fill="#97D2FC" fill-opacity="0.80"/>
<rect x="1062.96" y="1056.76" width="2.62" height="19.86" fill="#97D2FC"/>
<rect x="1070.29" y="1056.76" width="2.79" height="19.86" fill="#97D2FC" fill-opacity="0.90"/>
<rect x="1074.31" y="1056.76" width="0.87" height="19.86" fill="#97D2FC" fill-opacity="0.40"/>
<rect x="1080.07" y="1056.76" width="2.97" height="19.86" fill="#97D2FC"/>
<rect x="1088.28" y="1056.76" width="3.49" height="19.86" fill="#97D2FC" fill-opacity="0.40"/>
<rect x="1095.26" y="1056.76" width="1.75" height="19.86" fill="#97D2FC" fill-opacity="0.30"/>
<rect x="1099.63" y="1056.76" width="2.62" height="19.86" fill="#97D2FC" fill-opacity="0.80"/>
<rect x="1103.12" y="1056.76" width="2.62" height="19.86" fill="#97D2FC" fill-opacity="0.80"/>
<rect x="1106.61" y="1056.76" width="375.45" height="19.86" fill="#97D2FC"/>
<rect x="929.89" y="1056.76" width="1.22" height="19.86" fill="#97D2FC" fill-opacity="0.30"/>
<rect x="1500.75" y="1056.76" width="1.75" height="19.86" fill="#97D2FC" fill-opacity="0.80"/>
<rect x="1506.51" y="1056.76" width="0.87" height="19.86" fill="#97D2FC" fill-opacity="0.40"/>
<rect x="250.24" y="1087.48" width="3.14" height="19.86" fill="#97D2FC"/>
<rect x="270.32" y="1087.48" width="1.05" height="19.86" fill="#97D2FC" fill-opacity="0.60"/>
<rect x="488.60" y="1087.48" width="1.40" height="19.86" fill="#97D2FC" fill-opacity="0.80"/>
<rect x="505.72" y="1087.48" width="17.46" height="19.86" fill="#97D2FC"/>
<rect x="376.49" y="1127.20" width="7.33" height="19.86" fill="#97D2FC"/>
<rect x="379.11" y="1147.05" width="4.71" height="19.86" fill="#97D2FC"/>
<rect x="375.97" y="1147.05" width="0.87" height="19.86" fill="#97D2FC" fill-opacity="0.30"/>
<rect x="253.73" y="1166.91" width="1.75" height="19.86" fill="#97D2FC" fill-opacity="0.90"/>
<rect x="256.87" y="1166.91" width="13.97" height="19.86" fill="#97D2FC"/>
<rect x="253.73" y="1186.76" width="1.40" height="39.71" fill="#97D2FC" fill-opacity="0.80"/>
<rect x="256.35" y="1186.76" width="14.49" height="19.86" fill="#97D2FC"/>
<rect x="257.75" y="1206.62" width="13.10" height="19.86" fill="#97D2FC"/>
<rect x="256.87" y="1226.48" width="0.87" height="19.86" fill="#97D2FC" fill-opacity="0.30"/>
<rect x="269.97" y="1226.48" width="0.87" height="59.57" fill="#97D2FC" fill-opacity="0.35"/>
<rect x="250.59" y="1246.33" width="2.62" height="19.86" fill="#97D2FC"/>
<rect x="488.60" y="1246.33" width="7.51" height="19.86" fill="#97D2FC"/>
<rect x="533.13" y="1246.33" width="1.40" height="19.86" fill="#97D2FC" fill-opacity="0.60"/>
<rect x="543.61" y="1246.33" width="1.05" height="19.86" fill="#97D2FC" fill-opacity="0.50"/>
<rect x="316.60" y="1266.19" width="8.38" height="19.86" fill="#97D2FC"/>
<rect x="256.87" y="1266.19" width="0.87" height="19.86" fill="#97D2FC" fill-opacity="0.30"/>
<rect x="253.38" y="1286.04" width="1.40" height="59.57" fill="#97D2FC" fill-opacity="0.70"/>
<rect x="527.02" y="1286.04" width="0.87" height="19.86" fill="#97D2FC" fill-opacity="0.80"/>
<rect x="526.15" y="1305.90" width="1.05" height="79.42" fill="#97D2FC" fill-opacity="0.30"/>
<rect x="267.35" y="1345.61" width="0.87" height="19.86" fill="#97D2FC" fill-opacity="0.30"/>
<rect x="598.62" y="1087.48" width="5.06" height="19.86" fill="#97D2FC"/>
<rect x="647.87" y="1087.48" width="5.76" height="19.86" fill="#97D2FC"/>
<rect x="654.85" y="1087.48" width="6.46" height="19.86" fill="#97D2FC"/>
<rect x="670.04" y="1087.48" width="1.40" height="19.86" fill="#97D2FC" fill-opacity="0.50"/>
<rect x="715.10" y="1087.48" width="1.22" height="19.86" fill="#97D2FC" fill-opacity="0.50"/>
<rect x="782.85" y="1087.48" width="0.87" height="19.86" fill="#97D2FC" fill-opacity="0.50"/>
<rect x="788.09" y="1087.48" width="0.87" height="19.86" fill="#97D2FC" fill-opacity="0.30"/>
<rect x="809.05" y="1087.48" width="1.57" height="19.86" fill="#97D2FC" fill-opacity="0.80"/>
<rect x="839.08" y="1087.48" width="6.11" height="19.86" fill="#97D2FC" fill-opacity="0.30"/>
<rect x="848.69" y="1087.48" width="1.75" height="19.86" fill="#97D2FC" fill-opacity="0.80"/>
<rect x="884.48" y="1087.48" width="2.27" height="19.86" fill="#97D2FC" fill-opacity="0.70"/>
<rect x="889.72" y="1087.48" width="3.49" height="19.86" fill="#97D2FC" fill-opacity="0.30"/>
<rect x="903.34" y="1087.48" width="0.87" height="19.86" fill="#97D2FC" fill-opacity="0.40"/>
<rect x="763.12" y="1107.34" width="5.24" height="59.57" fill="#97D2FC"/>
<rect x="763.47" y="1166.91" width="4.89" height="59.57" fill="#97D2FC"/>
<rect x="784.60" y="1107.34" width="26.02" height="59.57" fill="#97D2FC"/>
<rect x="669.34" y="1107.34" width="0.87" height="19.86" fill="#97D2FC" fill-opacity="0.40"/>
<rect x="843.10" y="1107.34" width="1.05" height="59.57" fill="#97D2FC" fill-opacity="0.60"/>
<rect x="840.48" y="1127.20" width="0.87" height="39.71" fill="#97D2FC" fill-opacity="0.30"/>
<rect x="860.21" y="1107.34" width="0.87" height="59.57" fill="#97D2FC" fill-opacity="0.30"/>
<rect x="889.37" y="1107.34" width="0.87" height="59.57" fill="#97D2FC" fill-opacity="0.60"/>
<rect x="905.96" y="1107.34" width="0.87" height="59.57" fill="#97D2FC" fill-opacity="0.30"/>
<rect x="760.15" y="1107.34" width="0.87" height="19.86" fill="#97D2FC" fill-opacity="0.30"/>
<rect x="648.74" y="1127.20" width="4.89" height="39.71" fill="#97D2FC"/>
<rect x="648.21" y="1166.91" width="13.10" height="19.86" fill="#97D2FC"/>
<rect x="757.18" y="1166.91" width="0.87" height="59.57" fill="#97D2FC" fill-opacity="0.40"/>
<rect x="830.53" y="1166.91" width="0.87" height="59.57" fill="#97D2FC" fill-opacity="0.30"/>
<rect x="854.97" y="1166.91" width="0.87" height="59.57" fill="#97D2FC" fill-opacity="0.30"/>
<rect x="861.43" y="1166.91" width="0.87" height="19.86" fill="#97D2FC" fill-opacity="0.50"/>
<rect x="883.96" y="1166.91" width="3.14" height="19.86" fill="#97D2FC" fill-opacity="0.60"/>
<rect x="884.48" y="1186.76" width="1.75" height="39.71" fill="#97D2FC" fill-opacity="0.60"/>
<rect x="905.09" y="1166.91" width="0.87" height="59.57" fill="#97D2FC" fill-opacity="0.40"/>
<rect x="647.52" y="1186.76" width="0.87" height="39.71" fill="#97D2FC" fill-opacity="0.30"/>
<rect x="660.96" y="1186.76" width="0.87" height="39.71" fill="#97D2FC" fill-opacity="0.30"/>
<rect x="664.11" y="1186.76" width="0.87" height="19.86" fill="#97D2FC" fill-opacity="0.30"/>
<rect x="785.47" y="1186.76" width="0.87" height="19.86" fill="#97D2FC" fill-opacity="0.40"/>
<rect x="888.85" y="1186.76" width="0.87" height="19.86" fill="#97D2FC" fill-opacity="0.40"/>
<rect x="699.90" y="1206.62" width="0.87" height="19.86" fill="#97D2FC" fill-opacity="0.30"/>
<rect x="648.74" y="1226.48" width="12.57" height="19.86" fill="#97D2FC"/>
<rect x="648.21" y="1246.33" width="12.75" height="19.86" fill="#97D2FC"/>
<rect x="680.17" y="1226.48" width="11.70" height="19.86" fill="#97D2FC"/>
<rect x="698.86" y="1226.48" width="1.40" height="19.86" fill="#97D2FC" fill-opacity="0.80"/>
<rect x="669.34" y="1226.48" width="0.87" height="19.86" fill="#97D2FC" fill-opacity="0.40"/>
<rect x="672.84" y="1226.48" width="0.87" height="19.86" fill="#97D2FC" fill-opacity="0.30"/>
<rect x="770.10" y="1226.48" width="4.37" height="19.86" fill="#97D2FC"/>
<rect x="770.10" y="1246.33" width="3.84" height="19.86" fill="#97D2FC"/>
<rect x="770.10" y="1266.19" width="4.37" height="19.86" fill="#97D2FC"/>
<rect x="776.39" y="1226.48" width="0.87" height="19.86" fill="#97D2FC" fill-opacity="0.40"/>
<rect x="786.69" y="1226.48" width="1.22" height="19.86" fill="#97D2FC" fill-opacity="0.80"/>
<rect x="789.31" y="1226.48" width="0.87" height="19.86" fill="#97D2FC" fill-opacity="0.60"/>
<rect x="809.05" y="1226.48" width="0.87" height="19.86" fill="#97D2FC" fill-opacity="0.30"/>
<rect x="829.65" y="1226.48" width="0.87" height="19.86" fill="#97D2FC" fill-opacity="0.30"/>
<rect x="857.94" y="1226.48" width="0.87" height="19.86" fill="#97D2FC" fill-opacity="0.50"/>
<rect x="884.48" y="1226.48" width="9.60" height="19.86" fill="#97D2FC" fill-opacity="0.30"/>
<rect x="669.69" y="1246.33" width="1.05" height="19.86" fill="#97D2FC" fill-opacity="0.60"/>
<rect x="757.53" y="1246.33" width="1.22" height="19.86" fill="#97D2FC" fill-opacity="0.60"/>
<rect x="743.21" y="1246.33" width="0.87" height="19.86" fill="#97D2FC" fill-opacity="0.30"/>
<rect x="809.40" y="1246.33" width="1.22" height="19.86" fill="#97D2FC" fill-opacity="0.70"/>
<rect x="850.08" y="1246.33" width="0.87" height="19.86" fill="#97D2FC" fill-opacity="0.30"/>
<rect x="861.43" y="1246.33" width="0.87" height="19.86" fill="#97D2FC" fill-opacity="0.50"/>
<rect x="871.56" y="1246.33" width="0.87" height="19.86" fill="#97D2FC" fill-opacity="0.40"/>
<rect x="880.64" y="1246.33" width="0.87" height="19.86" fill="#97D2FC" fill-opacity="0.30"/>
<rect x="885.36" y="1246.33" width="1.75" height="19.86" fill="#97D2FC" fill-opacity="0.60"/>
<rect x="889.20" y="1246.33" width="1.40" height="19.86" fill="#97D2FC" fill-opacity="0.70"/>
<rect x="679.30" y="1246.33" width="0.87" height="39.71" fill="#97D2FC" fill-opacity="0.30"/>
<rect x="785.47" y="1246.33" width="0.87" height="19.86" fill="#97D2FC" fill-opacity="0.30"/>
<rect x="692.05" y="1266.19" width="8.21" height="19.86" fill="#97D2FC"/>
<rect x="775.87" y="1266.19" width="0.87" height="19.86" fill="#97D2FC" fill-opacity="0.40"/>
<rect x="786.34" y="1266.19" width="1.57" height="19.86" fill="#97D2FC" fill-opacity="0.90"/>
<rect x="668.82" y="1266.19" width="2.62" height="19.86" fill="#97D2FC" fill-opacity="0.40"/>
<rect x="715.27" y="1266.19" width="0.87" height="19.86" fill="#97D2FC" fill-opacity="0.50"/>
<rect x="884.14" y="1266.19" width="0.87" height="19.86" fill="#97D2FC" fill-opacity="0.40"/>
<rect x="887.98" y="1266.19" width="0.87" height="19.86" fill="#97D2FC" fill-opacity="0.60"/>
<rect x="854.97" y="1286.04" width="0.87" height="59.57" fill="#97D2FC" fill-opacity="0.30"/>
<rect x="905.09" y="1286.04" width="0.87" height="59.57" fill="#97D2FC" fill-opacity="0.50"/>
<rect x="886.23" y="1286.04" width="2.62" height="59.57" fill="#97D2FC" fill-opacity="0.30"/>
<rect x="585.52" y="1286.04" width="0.87" height="39.71" fill="#97D2FC" fill-opacity="0.30"/>
<rect x="768.88" y="1305.90" width="0.87" height="39.71" fill="#97D2FC" fill-opacity="0.40"/>
<rect x="669.69" y="1325.76" width="0.87" height="19.86" fill="#97D2FC" fill-opacity="0.30"/>
<rect x="768.36" y="1345.61" width="15.72" height="39.71" fill="#97D2FC"/>
<rect x="757.18" y="1345.61" width="0.87" height="39.71" fill="#97D2FC" fill-opacity="0.30"/>
<rect x="858.81" y="1345.61" width="0.87" height="39.71" fill="#97D2FC" fill-opacity="0.30"/>
<rect x="891.99" y="1345.61" width="0.87" height="19.86" fill="#97D2FC" fill-opacity="0.40"/>
<rect x="903.34" y="1345.61" width="0.87" height="39.71" fill="#97D2FC" fill-opacity="0.30"/>
<rect x="986.12" y="1087.48" width="501.53" height="516.26" fill="#97D2FC"/>
<rect x="986.12" y="1614.60" width="501.53" height="79.42" fill="#97D2FC"/>
<rect x="1500.75" y="1087.48" width="2.10" height="516.26" fill="#97D2FC" fill-opacity="0.80"/>
<rect x="1500.75" y="1614.60" width="2.10" height="79.42" fill="#97D2FC" fill-opacity="0.80"/>
<rect x="1502.84" y="1087.48" width="2.27" height="516.26" fill="#97D2FC" fill-opacity="0.30"/>
<rect x="1502.84" y="1614.60" width="2.27" height="79.42" fill="#97D2FC" fill-opacity="0.30"/>
<rect x="1495.16" y="1087.48" width="0.87" height="19.86" fill="#97D2FC" fill-opacity="0.30"/>
<rect x="1495.16" y="1166.91" width="0.87" height="19.86" fill="#97D2FC" fill-opacity="0.30"/>
<rect x="959.58" y="1087.48" width="5.59" height="19.86" fill="#97D2FC"/>
<rect x="966.91" y="1087.48" width="1.40" height="19.86" fill="#97D2FC" fill-opacity="0.50"/>
<rect x="970.75" y="1087.48" width="1.40" height="19.86" fill="#97D2FC" fill-opacity="0.80"/>
<rect x="1076.93" y="1087.48" width="1.75" height="19.86" fill="#FEF5E2" fill-opacity="0.80"/>
<rect x="1088.28" y="1087.48" width="1.75" height="19.86" fill="#FEF5E2" fill-opacity="0.70"/>
<rect x="1091.77" y="1087.48" width="1.75" height="19.86" fill="#FEF5E2" fill-opacity="0.70"/>
<rect x="1095.26" y="1087.48" width="1.75" height="19.86" fill="#FEF5E2" fill-opacity="0.70"/>
<rect x="1048.11" y="1087.48" width="0.87" height="19.86" fill="#FEF5E2" fill-opacity="0.30"/>
<rect x="966.91" y="1107.34" width="1.40" height="59.57" fill="#97D2FC" fill-opacity="0.70"/>
<rect x="969.53" y="1107.34" width="1.22" height="59.57" fill="#97D2FC" fill-opacity="0.50"/>
<rect x="1078.32" y="1107.34" width="6.99" height="59.57" fill="#FEF5E2"/>
<rect x="1082.69" y="1107.34" width="0.87" height="59.57" fill="#97D2FC" fill-opacity="0.60"/>
<rect x="1088.80" y="1107.34" width="9.60" height="59.57" fill="#FEF5E2"/>
<rect x="1066.10" y="1107.34" width="0.87" height="19.86" fill="#FEF5E2" fill-opacity="0.40"/>
<rect x="959.58" y="1166.91" width="6.46" height="59.57" fill="#97D2FC"/>
<rect x="967.78" y="1166.91" width="1.75" height="59.57" fill="#97D2FC" fill-opacity="0.40"/>
<rect x="1075.18" y="1166.91" width="1.40" height="59.57" fill="#FEF5E2" fill-opacity="0.70"/>
<rect x="1076.93" y="1166.91" width="1.75" height="59.57" fill="#FEF5E2" fill-opacity="0.90"/>
<rect x="1089.15" y="1166.91" width="2.62" height="59.57" fill="#FEF5E2" fill-opacity="0.80"/>
<rect x="1106.61" y="1166.91" width="1.05" height="59.57" fill="#FEF5E2" fill-opacity="0.30"/>
<rect x="1064.70" y="1186.76" width="0.87" height="19.86" fill="#FEF5E2" fill-opacity="0.30"/>
<rect x="966.91" y="1226.48" width="4.37" height="19.86" fill="#97D2FC" fill-opacity="0.80"/>
<rect x="983.50" y="1226.48" width="2.62" height="19.86" fill="#97D2FC"/>
<rect x="1076.93" y="1226.48" width="2.62" height="19.86" fill="#FEF5E2" fill-opacity="0.80"/>
<rect x="1083.04" y="1226.48" width="1.75" height="19.86" fill="#FEF5E2" fill-opacity="0.80"/>
<rect x="1088.28" y="1226.48" width="4.37" height="19.86" fill="#FEF5E2" fill-opacity="0.60"/>
<rect x="1095.26" y="1226.48" width="1.75" height="19.86" fill="#FEF5E2" fill-opacity="0.40"/>
<rect x="1048.11" y="1226.48" width="0.87" height="19.86" fill="#FEF5E2" fill-opacity="0.30"/>
<rect x="959.58" y="1246.33" width="5.94" height="19.86" fill="#97D2FC"/>
<rect x="967.78" y="1246.33" width="2.27" height="19.86" fill="#97D2FC"/>
<rect x="971.28" y="1246.33" width="1.75" height="19.86" fill="#97D2FC"/>
<rect x="985.25" y="1246.33" width="0.87" height="19.86" fill="#97D2FC"/>
<rect x="1076.58" y="1246.33" width="6.46" height="19.86" fill="#FEF5E2"/>
<rect x="1087.40" y="1246.33" width="1.75" height="19.86" fill="#FEF5E2"/>
<rect x="1091.77" y="1246.33" width="1.75" height="19.86" fill="#FEF5E2"/>
<rect x="1097.01" y="1246.33" width="2.10" height="19.86" fill="#FEF5E2"/>
<rect x="1065.57" y="1246.33" width="0.87" height="19.86" fill="#FEF5E2" fill-opacity="0.30"/>
<rect x="959.58" y="1266.19" width="6.46" height="19.86" fill="#97D2FC"/>
<rect x="967.78" y="1266.19" width="2.27" height="19.86" fill="#97D2FC" fill-opacity="0.80"/>
<rect x="985.25" y="1266.19" width="0.87" height="19.86" fill="#97D2FC"/>
<rect x="1075.53" y="1266.19" width="2.27" height="19.86" fill="#FEF5E2"/>
<rect x="1077.80" y="1266.19" width="6.99" height="19.86" fill="#FEF5E2" fill-opacity="0.60"/>
<rect x="1089.15" y="1266.19" width="3.84" height="19.86" fill="#FEF5E2"/>
<rect x="959.58" y="1286.04" width="26.54" height="59.57" fill="#97D2FC"/>
<rect x="965.51" y="1286.04" width="1.05" height="59.57" fill="#FEF5E2" fill-opacity="0.30"/>
<rect x="1074.83" y="1286.04" width="7.86" height="59.57" fill="#FEF5E2"/>
<rect x="1087.40" y="1286.04" width="5.59" height="59.57" fill="#FEF5E2"/>
<rect x="1097.88" y="1286.04" width="1.75" height="59.57" fill="#FEF5E2" fill-opacity="0.40"/>
<rect x="959.58" y="1345.61" width="9.95" height="39.71" fill="#97D2FC"/>
<rect x="985.60" y="1345.61" width="0.52" height="39.71" fill="#97D2FC"/>
<rect x="1078.32" y="1345.61" width="13.45" height="39.71" fill="#FEF5E2"/>
<rect x="1083.04" y="1345.61" width="1.75" height="39.71" fill="#97D2FC" fill-opacity="0.50"/>
<rect x="928.49" y="1107.34" width="0.87" height="59.57" fill="#97D2FC" fill-opacity="0.25"/>
<rect x="932.51" y="1226.48" width="0.87" height="19.86" fill="#97D2FC" fill-opacity="0.30"/>
<rect x="949.97" y="1226.48" width="0.87" height="19.86" fill="#97D2FC" fill-opacity="0.30"/>
<rect x="949.97" y="1266.19" width="0.87" height="19.86" fill="#97D2FC" fill-opacity="0.30"/>
<rect x="928.49" y="1266.19" width="0.87" height="19.86" fill="#97D2FC" fill-opacity="0.25"/>
<rect x="524.93" y="1385.32" width="0.87" height="19.86" fill="#97D2FC" fill-opacity="0.30"/>
<rect x="524.93" y="1405.18" width="1.22" height="19.86" fill="#97D2FC" fill-opacity="0.70"/>
<rect x="250.24" y="1425.04" width="3.14" height="19.86" fill="#97D2FC"/>
<rect x="269.97" y="1425.04" width="1.22" height="19.86" fill="#97D2FC" fill-opacity="0.70"/>
<rect x="316.25" y="1425.04" width="1.22" height="19.86" fill="#97D2FC" fill-opacity="0.60"/>
<rect x="324.46" y="1425.04" width="1.05" height="19.86" fill="#97D2FC" fill-opacity="0.50"/>
<rect x="533.66" y="1425.04" width="5.59" height="19.86" fill="#97D2FC"/>
<rect x="254.08" y="1444.89" width="1.05" height="19.86" fill="#97D2FC" fill-opacity="0.40"/>
<rect x="270.32" y="1444.89" width="1.22" height="19.86" fill="#97D2FC" fill-opacity="0.40"/>
<rect x="254.26" y="1464.75" width="0.87" height="39.71" fill="#97D2FC" fill-opacity="0.30"/>
<rect x="307.34" y="1504.46" width="1.22" height="19.86" fill="#97D2FC" fill-opacity="0.70"/>
<rect x="496.11" y="1504.46" width="10.30" height="19.86" fill="#97D2FC"/>
<rect x="290.05" y="1504.46" width="0.87" height="19.86" fill="#97D2FC" fill-opacity="0.30"/>
<rect x="294.07" y="1504.46" width="0.87" height="19.86" fill="#97D2FC" fill-opacity="0.30"/>
<rect x="254.08" y="1524.32" width="1.05" height="19.86" fill="#97D2FC" fill-opacity="0.50"/>
<rect x="257.75" y="1524.32" width="0.87" height="19.86" fill="#97D2FC" fill-opacity="0.40"/>
<rect x="269.97" y="1524.32" width="0.87" height="19.86" fill="#97D2FC" fill-opacity="0.40"/>
<rect x="250.24" y="1614.60" width="3.84" height="19.86" fill="#97D2FC"/>
<rect x="268.23" y="1614.60" width="1.57" height="19.86" fill="#97D2FC" fill-opacity="0.80"/>
<rect x="287.78" y="1614.60" width="1.75" height="19.86" fill="#97D2FC" fill-opacity="0.50"/>
<rect x="294.94" y="1614.60" width="0.87" height="19.86" fill="#97D2FC" fill-opacity="0.40"/>
<rect x="348.03" y="1614.60" width="0.87" height="19.86" fill="#97D2FC" fill-opacity="0.40"/>
<rect x="418.40" y="1614.60" width="1.22" height="19.86" fill="#97D2FC" fill-opacity="0.70"/>
<rect x="445.82" y="1614.60" width="5.59" height="19.86" fill="#97D2FC"/>
<rect x="543.96" y="1614.60" width="15.72" height="19.86" fill="#97D2FC"/>
<rect x="253.38" y="1634.46" width="1.22" height="19.86" fill="#97D2FC" fill-opacity="0.60"/>
<rect x="268.57" y="1634.46" width="1.75" height="19.86" fill="#97D2FC" fill-opacity="0.40"/>
<rect x="270.32" y="1634.46" width="0.87" height="19.86" fill="#97D2FC" fill-opacity="0.70"/>
<rect x="287.43" y="1634.46" width="0.87" height="19.86" fill="#97D2FC" fill-opacity="0.50"/>
<rect x="341.57" y="1634.46" width="0.87" height="19.86" fill="#97D2FC" fill-opacity="0.30"/>
<rect x="429.23" y="1634.46" width="16.24" height="19.86" fill="#97D2FC"/>
<rect x="451.06" y="1634.46" width="1.40" height="19.86" fill="#97D2FC" fill-opacity="0.80"/>
<rect x="250.24" y="1654.32" width="3.14" height="19.86" fill="#97D2FC"/>
<rect x="269.97" y="1654.32" width="0.87" height="19.86" fill="#97D2FC" fill-opacity="0.40"/>
<rect x="287.43" y="1654.32" width="0.87" height="19.86" fill="#97D2FC" fill-opacity="0.50"/>
<rect x="418.40" y="1654.32" width="1.22" height="19.86" fill="#97D2FC" fill-opacity="0.70"/>
<rect x="506.59" y="1654.32" width="0.87" height="19.86" fill="#97D2FC" fill-opacity="0.50"/>
<rect x="538.55" y="1654.32" width="0.87" height="19.86" fill="#97D2FC" fill-opacity="0.30"/>
<rect x="270.32" y="1674.17" width="1.75" height="19.86" fill="#97D2FC" fill-opacity="0.70"/>
<rect x="316.25" y="1674.17" width="1.40" height="19.86" fill="#97D2FC" fill-opacity="0.70"/>
<rect x="324.46" y="1674.17" width="1.05" height="19.86" fill="#97D2FC" fill-opacity="0.60"/>
<rect x="254.26" y="1674.17" width="0.87" height="19.86" fill="#97D2FC" fill-opacity="0.40"/>
<rect x="257.75" y="1674.17" width="0.87" height="19.86" fill="#97D2FC" fill-opacity="0.30"/>
<rect x="289.18" y="1674.17" width="0.87" height="19.86" fill="#97D2FC" fill-opacity="0.30"/>
<rect x="505.37" y="1674.17" width="0.87" height="19.86" fill="#97D2FC" fill-opacity="0.40"/>
<rect x="768.36" y="1385.32" width="15.72" height="39.71" fill="#97D2FC"/>
<rect x="757.18" y="1385.32" width="0.87" height="39.71" fill="#97D2FC" fill-opacity="0.30"/>
<rect x="858.81" y="1385.32" width="0.87" height="39.71" fill="#97D2FC" fill-opacity="0.30"/>
<rect x="903.34" y="1385.32" width="0.87" height="39.71" fill="#97D2FC" fill-opacity="0.30"/>
<rect x="670.04" y="1425.04" width="1.05" height="19.86" fill="#97D2FC" fill-opacity="0.70"/>
<rect x="703.40" y="1425.04" width="0.87" height="19.86" fill="#97D2FC" fill-opacity="0.40"/>
<rect x="662.88" y="1425.04" width="0.87" height="19.86" fill="#97D2FC" fill-opacity="0.30"/>
<rect x="783.73" y="1425.04" width="1.22" height="19.86" fill="#97D2FC" fill-opacity="0.50"/>
<rect x="788.61" y="1425.04" width="0.87" height="19.86" fill="#97D2FC" fill-opacity="0.30"/>
<rect x="809.05" y="1425.04" width="1.57" height="19.86" fill="#97D2FC" fill-opacity="0.80"/>
<rect x="840.30" y="1425.04" width="4.02" height="19.86" fill="#97D2FC" fill-opacity="0.30"/>
<rect x="854.97" y="1425.04" width="0.87" height="19.86" fill="#97D2FC" fill-opacity="0.30"/>
<rect x="865.80" y="1425.04" width="0.87" height="19.86" fill="#97D2FC" fill-opacity="0.30"/>
<rect x="878.72" y="1425.04" width="1.40" height="19.86" fill="#97D2FC" fill-opacity="0.50"/>
<rect x="884.14" y="1425.04" width="0.87" height="19.86" fill="#97D2FC" fill-opacity="0.40"/>
<rect x="891.64" y="1425.04" width="0.87" height="19.86" fill="#97D2FC" fill-opacity="0.40"/>
<rect x="923.95" y="1425.04" width="0.87" height="19.86" fill="#97D2FC" fill-opacity="0.50"/>
<rect x="703.75" y="1444.89" width="10.48" height="19.86" fill="#97D2FC"/>
<rect x="661.14" y="1444.89" width="0.87" height="19.86" fill="#97D2FC" fill-opacity="0.50"/>
<rect x="669.34" y="1444.89" width="0.87" height="19.86" fill="#97D2FC" fill-opacity="0.40"/>
<rect x="698.51" y="1444.89" width="0.87" height="19.86" fill="#97D2FC" fill-opacity="0.30"/>
<rect x="757.18" y="1444.89" width="0.87" height="59.57" fill="#97D2FC" fill-opacity="0.30"/>
<rect x="768.01" y="1444.89" width="0.87" height="19.86" fill="#97D2FC" fill-opacity="0.30"/>
<rect x="774.64" y="1444.89" width="0.87" height="19.86" fill="#97D2FC" fill-opacity="0.50"/>
<rect x="785.82" y="1444.89" width="0.87" height="19.86" fill="#97D2FC" fill-opacity="0.50"/>
<rect x="809.05" y="1444.89" width="0.87" height="19.86" fill="#97D2FC" fill-opacity="0.30"/>
<rect x="838.56" y="1444.89" width="5.76" height="19.86" fill="#97D2FC" fill-opacity="0.30"/>
<rect x="889.37" y="1444.89" width="0.87" height="19.86" fill="#97D2FC" fill-opacity="0.50"/>
<rect x="905.61" y="1444.89" width="0.87" height="19.86" fill="#97D2FC" fill-opacity="0.50"/>
<rect x="670.57" y="1464.75" width="9.60" height="39.71" fill="#97D2FC"/>
<rect x="785.82" y="1464.75" width="0.87" height="39.71" fill="#97D2FC" fill-opacity="0.30"/>
<rect x="809.05" y="1464.75" width="0.87" height="39.71" fill="#97D2FC" fill-opacity="0.40"/>
<rect x="849.21" y="1464.75" width="0.87" height="39.71" fill="#97D2FC" fill-opacity="0.40"/>
<rect x="885.36" y="1464.75" width="0.87" height="39.71" fill="#97D2FC" fill-opacity="0.30"/>
<rect x="890.25" y="1464.75" width="1.40" height="39.71" fill="#97D2FC" fill-opacity="0.80"/>
<rect x="904.57" y="1464.75" width="0.87" height="39.71" fill="#97D2FC" fill-opacity="0.30"/>
<rect x="661.14" y="1504.46" width="0.87" height="19.86" fill="#97D2FC" fill-opacity="0.50"/>
<rect x="669.69" y="1504.46" width="0.87" height="19.86" fill="#97D2FC" fill-opacity="0.30"/>
<rect x="783.20" y="1504.46" width="1.22" height="19.86" fill="#97D2FC" fill-opacity="0.80"/>
<rect x="805.38" y="1504.46" width="2.27" height="19.86" fill="#97D2FC" fill-opacity="0.40"/>
<rect x="807.65" y="1504.46" width="2.97" height="19.86" fill="#97D2FC" fill-opacity="0.70"/>
<rect x="843.97" y="1504.46" width="0.87" height="19.86" fill="#97D2FC" fill-opacity="0.40"/>
<rect x="855.67" y="1504.46" width="0.87" height="19.86" fill="#97D2FC" fill-opacity="0.50"/>
<rect x="891.12" y="1504.46" width="0.87" height="19.86" fill="#97D2FC" fill-opacity="0.50"/>
<rect x="680.17" y="1524.32" width="5.59" height="19.86" fill="#97D2FC"/>
<rect x="700.25" y="1524.32" width="3.14" height="19.86" fill="#97D2FC"/>
<rect x="757.18" y="1524.32" width="0.87" height="19.86" fill="#97D2FC" fill-opacity="0.30"/>
<rect x="884.48" y="1524.32" width="3.49" height="79.42" fill="#97D2FC" fill-opacity="0.30"/>
<rect x="889.20" y="1524.32" width="13.27" height="79.42" fill="#97D2FC"/>
<rect x="714.22" y="1614.60" width="1.40" height="19.86" fill="#97D2FC" fill-opacity="0.80"/>
<rect x="716.67" y="1614.60" width="1.40" height="19.86" fill="#97D2FC" fill-opacity="0.80"/>
<rect x="730.29" y="1614.60" width="3.67" height="19.86" fill="#97D2FC"/>
<rect x="746.01" y="1614.60" width="1.92" height="19.86" fill="#97D2FC" fill-opacity="0.80"/>
<rect x="750.90" y="1614.60" width="5.24" height="19.86" fill="#97D2FC"/>
<rect x="757.01" y="1614.60" width="2.62" height="19.86" fill="#97D2FC" fill-opacity="0.30"/>
<rect x="763.12" y="1614.60" width="5.59" height="19.86" fill="#97D2FC" fill-opacity="0.60"/>
<rect x="783.73" y="1614.60" width="0.87" height="19.86" fill="#97D2FC" fill-opacity="0.40"/>
<rect x="805.90" y="1614.60" width="1.22" height="19.86" fill="#97D2FC" fill-opacity="0.70"/>
<rect x="837.86" y="1614.60" width="0.87" height="19.86" fill="#97D2FC" fill-opacity="0.60"/>
<rect x="685.93" y="1614.60" width="0.87" height="19.86" fill="#97D2FC" fill-opacity="0.30"/>
<rect x="885.88" y="1614.60" width="0.87" height="19.86" fill="#97D2FC" fill-opacity="0.30"/>
<rect x="902.47" y="1614.60" width="2.97" height="19.86" fill="#97D2FC" fill-opacity="0.30"/>
<rect x="915.57" y="1614.60" width="0.87" height="19.86" fill="#97D2FC" fill-opacity="0.40"/>
<rect x="715.62" y="1634.46" width="1.22" height="19.86" fill="#97D2FC" fill-opacity="0.70"/>
<rect x="719.11" y="1634.46" width="1.22" height="19.86" fill="#97D2FC" fill-opacity="0.70"/>
<rect x="733.08" y="1634.46" width="0.87" height="19.86" fill="#97D2FC" fill-opacity="0.40"/>
<rect x="744.26" y="1634.46" width="1.75" height="19.86" fill="#97D2FC" fill-opacity="0.80"/>
<rect x="749.50" y="1634.46" width="7.51" height="19.86" fill="#97D2FC"/>
<rect x="770.10" y="1634.46" width="4.71" height="19.86" fill="#97D2FC"/>
<rect x="805.90" y="1634.46" width="4.37" height="19.86" fill="#97D2FC" fill-opacity="0.40"/>
<rect x="837.86" y="1634.46" width="0.87" height="19.86" fill="#97D2FC" fill-opacity="0.60"/>
<rect x="840.83" y="1634.46" width="3.49" height="19.86" fill="#97D2FC" fill-opacity="0.40"/>
<rect x="621.32" y="1634.46" width="0.87" height="19.86" fill="#97D2FC" fill-opacity="0.40"/>
<rect x="669.69" y="1634.46" width="1.75" height="19.86" fill="#97D2FC" fill-opacity="0.40"/>
<rect x="679.82" y="1634.46" width="0.87" height="19.86" fill="#97D2FC" fill-opacity="0.40"/>
<rect x="819.52" y="1634.46" width="0.87" height="19.86" fill="#97D2FC" fill-opacity="0.30"/>
<rect x="830.87" y="1634.46" width="0.87" height="19.86" fill="#97D2FC" fill-opacity="0.30"/>
<rect x="885.36" y="1634.46" width="5.24" height="19.86" fill="#97D2FC" fill-opacity="0.30"/>
<rect x="905.96" y="1634.46" width="0.87" height="19.86" fill="#97D2FC" fill-opacity="0.30"/>
<rect x="921.68" y="1634.46" width="0.87" height="19.86" fill="#97D2FC" fill-opacity="0.40"/>
<rect x="714.22" y="1654.32" width="15.72" height="19.86" fill="#97D2FC"/>
<rect x="746.01" y="1654.32" width="11.00" height="19.86" fill="#97D2FC"/>
<rect x="848.69" y="1654.32" width="1.40" height="19.86" fill="#97D2FC" fill-opacity="0.70"/>
<rect x="805.55" y="1654.32" width="0.87" height="19.86" fill="#97D2FC" fill-opacity="0.50"/>
<rect x="783.73" y="1654.32" width="0.87" height="19.86" fill="#97D2FC" fill-opacity="0.40"/>
<rect x="769.41" y="1654.32" width="0.87" height="19.86" fill="#97D2FC" fill-opacity="0.30"/>
<rect x="774.12" y="1654.32" width="0.87" height="19.86" fill="#97D2FC" fill-opacity="0.30"/>
<rect x="669.34" y="1654.32" width="0.87" height="19.86" fill="#97D2FC" fill-opacity="0.40"/>
<rect x="607.70" y="1654.32" width="0.87" height="19.86" fill="#97D2FC" fill-opacity="0.30"/>
<rect x="830.87" y="1654.32" width="0.87" height="19.86" fill="#97D2FC" fill-opacity="0.30"/>
<rect x="879.42" y="1654.32" width="0.87" height="19.86" fill="#97D2FC" fill-opacity="0.30"/>
<rect x="885.71" y="1654.32" width="1.40" height="19.86" fill="#97D2FC" fill-opacity="0.60"/>
<rect x="889.37" y="1654.32" width="0.87" height="19.86" fill="#97D2FC" fill-opacity="0.40"/>
<rect x="904.57" y="1654.32" width="0.87" height="19.86" fill="#97D2FC" fill-opacity="0.30"/>
<rect x="921.68" y="1654.32" width="0.87" height="19.86" fill="#97D2FC" fill-opacity="0.50"/>
<rect x="714.57" y="1674.17" width="1.40" height="19.86" fill="#97D2FC" fill-opacity="0.80"/>
<rect x="730.29" y="1674.17" width="27.59" height="19.86" fill="#97D2FC"/>
<rect x="770.10" y="1674.17" width="4.89" height="19.86" fill="#97D2FC"/>
<rect x="767.14" y="1674.17" width="0.87" height="19.86" fill="#97D2FC" fill-opacity="0.40"/>
<rect x="623.94" y="1674.17" width="0.87" height="19.86" fill="#97D2FC" fill-opacity="0.50"/>
<rect x="662.36" y="1674.17" width="0.87" height="19.86" fill="#97D2FC" fill-opacity="0.30"/>
<rect x="679.30" y="1674.17" width="1.05" height="19.86" fill="#97D2FC" fill-opacity="0.60"/>
<rect x="685.58" y="1674.17" width="0.87" height="19.86" fill="#97D2FC" fill-opacity="0.30"/>
<rect x="699.90" y="1674.17" width="0.87" height="19.86" fill="#97D2FC" fill-opacity="0.30"/>
<rect x="704.27" y="1674.17" width="0.87" height="19.86" fill="#97D2FC" fill-opacity="0.30"/>
<rect x="783.73" y="1674.17" width="0.87" height="19.86" fill="#97D2FC" fill-opacity="0.40"/>
<rect x="805.55" y="1674.17" width="0.87" height="19.86" fill="#97D2FC" fill-opacity="0.50"/>
<rect x="811.67" y="1674.17" width="0.87" height="19.86" fill="#97D2FC" fill-opacity="0.30"/>
<rect x="819.52" y="1674.17" width="0.87" height="19.86" fill="#97D2FC" fill-opacity="0.30"/>
<rect x="830.87" y="1674.17" width="0.87" height="19.86" fill="#97D2FC" fill-opacity="0.30"/>
<rect x="840.48" y="1674.17" width="0.87" height="19.86" fill="#97D2FC" fill-opacity="0.50"/>
<rect x="843.97" y="1674.17" width="0.87" height="19.86" fill="#97D2FC" fill-opacity="0.30"/>
<rect x="857.94" y="1674.17" width="0.87" height="19.86" fill="#97D2FC" fill-opacity="0.50"/>
<rect x="862.31" y="1674.17" width="0.87" height="19.86" fill="#97D2FC" fill-opacity="0.30"/>
<rect x="885.01" y="1674.17" width="0.87" height="19.86" fill="#97D2FC" fill-opacity="0.30"/>
<rect x="889.37" y="1674.17" width="0.87" height="19.86" fill="#97D2FC" fill-opacity="0.30"/>
<rect x="905.61" y="1674.17" width="0.87" height="19.86" fill="#97D2FC" fill-opacity="0.30"/>
<rect x="959.58" y="1385.32" width="9.95" height="39.71" fill="#97D2FC"/>
<rect x="985.60" y="1385.32" width="0.52" height="39.71" fill="#97D2FC"/>
<rect x="1078.32" y="1385.32" width="13.45" height="39.71" fill="#FEF5E2"/>
<rect x="1097.88" y="1385.32" width="1.40" height="39.71" fill="#FEF5E2" fill-opacity="0.50"/>
<rect x="1108.01" y="1385.32" width="0.87" height="39.71" fill="#FEF5E2" fill-opacity="0.30"/>
<rect x="959.58" y="1425.04" width="5.94" height="19.86" fill="#97D2FC"/>
<rect x="967.78" y="1425.04" width="2.27" height="19.86" fill="#97D2FC"/>
<rect x="971.28" y="1425.04" width="1.22" height="19.86" fill="#97D2FC" fill-opacity="0.60"/>
<rect x="985.25" y="1425.04" width="0.87" height="19.86" fill="#97D2FC"/>
<rect x="1063.83" y="1425.04" width="0.87" height="19.86" fill="#FEF5E2" fill-opacity="0.40"/>
<rect x="1069.59" y="1425.04" width="0.87" height="19.86" fill="#FEF5E2" fill-opacity="0.40"/>
<rect x="1076.58" y="1425.04" width="1.75" height="19.86" fill="#FEF5E2" fill-opacity="0.80"/>
<rect x="1089.15" y="1425.04" width="2.62" height="19.86" fill="#FEF5E2" fill-opacity="0.60"/>
<rect x="1092.64" y="1425.04" width="1.75" height="19.86" fill="#FEF5E2" fill-opacity="0.50"/>
<rect x="1095.78" y="1425.04" width="2.44" height="19.86" fill="#FEF5E2" fill-opacity="0.80"/>
<rect x="959.58" y="1444.89" width="6.46" height="19.86" fill="#97D2FC"/>
<rect x="966.04" y="1444.89" width="6.11" height="19.86" fill="#97D2FC" fill-opacity="0.40"/>
<rect x="985.25" y="1444.89" width="0.87" height="19.86" fill="#97D2FC"/>
<rect x="1074.83" y="1444.89" width="3.84" height="19.86" fill="#FEF5E2" fill-opacity="0.60"/>
<rect x="1083.04" y="1444.89" width="2.62" height="19.86" fill="#FEF5E2" fill-opacity="0.60"/>
<rect x="1085.66" y="1444.89" width="8.73" height="19.86" fill="#FEF5E2" fill-opacity="0.80"/>
<rect x="1097.01" y="1444.89" width="2.27" height="19.86" fill="#FEF5E2" fill-opacity="0.60"/>
<rect x="959.58" y="1464.75" width="5.94" height="39.71" fill="#97D2FC"/>
<rect x="965.51" y="1464.75" width="6.64" height="39.71" fill="#97D2FC" fill-opacity="0.40"/>
<rect x="985.25" y="1464.75" width="0.87" height="39.71" fill="#97D2FC"/>
<rect x="1077.80" y="1464.75" width="1.75" height="39.71" fill="#FEF5E2" fill-opacity="0.70"/>
<rect x="1088.28" y="1464.75" width="1.75" height="39.71" fill="#FEF5E2" fill-opacity="0.80"/>
<rect x="1090.90" y="1464.75" width="1.75" height="39.71" fill="#FEF5E2" fill-opacity="0.50"/>
<rect x="965.51" y="1504.46" width="2.27" height="19.86" fill="#97D2FC" fill-opacity="0.70"/>
<rect x="969.53" y="1504.46" width="2.62" height="19.86" fill="#97D2FC" fill-opacity="0.80"/>
<rect x="985.25" y="1504.46" width="0.87" height="19.86" fill="#97D2FC"/>
<rect x="1076.58" y="1504.46" width="6.46" height="19.86" fill="#FEF5E2"/>
<rect x="1087.40" y="1504.46" width="7.86" height="19.86" fill="#FEF5E2" fill-opacity="0.80"/>
<rect x="1097.01" y="1504.46" width="2.27" height="19.86" fill="#FEF5E2" fill-opacity="0.90"/>
<rect x="1047.76" y="1504.46" width="0.87" height="19.86" fill="#FEF5E2" fill-opacity="0.30"/>
<rect x="966.91" y="1524.32" width="1.40" height="79.42" fill="#97D2FC" fill-opacity="0.50"/>
<rect x="984.37" y="1524.32" width="1.75" height="79.42" fill="#97D2FC"/>
<rect x="1074.83" y="1524.32" width="1.75" height="19.86" fill="#FEF5E2" fill-opacity="0.60"/>
<rect x="1078.67" y="1524.32" width="1.75" height="19.86" fill="#FEF5E2" fill-opacity="0.90"/>
<rect x="1082.16" y="1524.32" width="1.75" height="19.86" fill="#FEF5E2" fill-opacity="0.50"/>
<rect x="1089.67" y="1524.32" width="0.87" height="19.86" fill="#FEF5E2" fill-opacity="0.30"/>
<rect x="1074.31" y="1544.17" width="1.75" height="59.57" fill="#FEF5E2" fill-opacity="0.50"/>
<rect x="1076.58" y="1544.17" width="2.97" height="59.57" fill="#FEF5E2" fill-opacity="0.90"/>
<rect x="1082.16" y="1544.17" width="1.75" height="59.57" fill="#FEF5E2" fill-opacity="0.70"/>
<rect x="986.12" y="1614.60" width="1.75" height="79.42" fill="#FEF5E2"/>
<rect x="954.69" y="1614.60" width="1.75" height="19.86" fill="#97D2FC" fill-opacity="0.30"/>
<rect x="965.51" y="1614.60" width="1.40" height="19.86" fill="#97D2FC" fill-opacity="0.50"/>
<rect x="968.66" y="1614.60" width="3.49" height="19.86" fill="#97D2FC" fill-opacity="0.30"/>
<rect x="985.25" y="1614.60" width="1.22" height="19.86" fill="#97D2FC" fill-opacity="0.50"/>
<rect x="1058.07" y="1614.60" width="12.22" height="19.86" fill="#FEF5E2"/>
<rect x="1060.34" y="1614.60" width="1.22" height="19.86" fill="#97D2FC" fill-opacity="0.30"/>
<rect x="1075.18" y="1614.60" width="7.86" height="19.86" fill="#FEF5E2"/>
<rect x="1083.04" y="1614.60" width="4.37" height="19.86" fill="#FEF5E2" fill-opacity="0.20"/>
<rect x="1087.40" y="1614.60" width="12.22" height="19.86" fill="#FEF5E2" fill-opacity="0.70"/>
<rect x="1106.61" y="1614.60" width="2.10" height="19.86" fill="#FEF5E2"/>
<rect x="966.91" y="1634.46" width="2.62" height="19.86" fill="#97D2FC" fill-opacity="0.70"/>
<rect x="929.02" y="1634.46" width="0.87" height="19.86" fill="#97D2FC" fill-opacity="0.30"/>
<rect x="955.21" y="1634.46" width="0.87" height="19.86" fill="#97D2FC" fill-opacity="0.30"/>
<rect x="1048.98" y="1634.46" width="1.75" height="19.86" fill="#FEF5E2"/>
<rect x="1060.34" y="1634.46" width="2.62" height="19.86" fill="#FEF5E2" fill-opacity="0.90"/>
<rect x="1064.70" y="1634.46" width="5.24" height="19.86" fill="#FEF5E2"/>
<rect x="1075.53" y="1634.46" width="3.14" height="19.86" fill="#FEF5E2"/>
<rect x="1084.78" y="1634.46" width="5.24" height="19.86" fill="#FEF5E2" fill-opacity="0.60"/>
<rect x="1092.64" y="1634.46" width="3.49" height="19.86" fill="#FEF5E2" fill-opacity="0.50"/>
<rect x="1099.63" y="1634.46" width="7.86" height="19.86" fill="#FEF5E2" fill-opacity="0.30"/>
<rect x="932.51" y="1654.32" width="0.87" height="19.86" fill="#97D2FC" fill-opacity="0.30"/>
<rect x="949.97" y="1654.32" width="0.87" height="19.86" fill="#97D2FC" fill-opacity="0.30"/>
<rect x="957.83" y="1654.32" width="0.87" height="19.86" fill="#97D2FC" fill-opacity="0.30"/>
<rect x="966.91" y="1654.32" width="1.75" height="19.86" fill="#97D2FC" fill-opacity="0.50"/>
<rect x="1060.34" y="1654.32" width="9.60" height="19.86" fill="#FEF5E2"/>
<rect x="1075.18" y="1654.32" width="3.49" height="19.86" fill="#FEF5E2"/>
<rect x="1084.43" y="1654.32" width="0.87" height="19.86" fill="#FEF5E2" fill-opacity="0.40"/>
<rect x="1092.64" y="1654.32" width="6.11" height="19.86" fill="#FEF5E2" fill-opacity="0.80"/>
<rect x="1098.75" y="1654.32" width="8.73" height="19.86" fill="#FEF5E2" fill-opacity="0.20"/>
<rect x="927.79" y="1674.17" width="0.87" height="19.86" fill="#97D2FC" fill-opacity="0.40"/>
<rect x="949.97" y="1674.17" width="0.87" height="19.86" fill="#97D2FC" fill-opacity="0.30"/>
<rect x="956.43" y="1674.17" width="2.62" height="19.86" fill="#97D2FC" fill-opacity="0.30"/>
<rect x="968.66" y="1674.17" width="1.22" height="19.86" fill="#97D2FC" fill-opacity="0.80"/>
<rect x="1058.07" y="1674.17" width="12.22" height="19.86" fill="#FEF5E2"/>
<rect x="1075.53" y="1674.17" width="2.79" height="19.86" fill="#FEF5E2"/>
<rect x="1083.04" y="1674.17" width="1.75" height="19.86" fill="#FEF5E2" fill-opacity="0.70"/>
<rect x="1089.15" y="1674.17" width="1.75" height="19.86" fill="#FEF5E2" fill-opacity="0.70"/>
<rect x="1092.64" y="1674.17" width="2.62" height="19.86" fill="#FEF5E2" fill-opacity="0.70"/>
<rect x="1097.01" y="1674.17" width="1.75" height="19.86" fill="#FEF5E2" fill-opacity="0.70"/>
<rect x="1103.12" y="1674.17" width="2.62" height="19.86" fill="#FEF5E2" fill-opacity="0.60"/>
<rect x="1491.14" y="1614.60" width="1.75" height="79.42" fill="#97D2FC" fill-opacity="0.80"/>
<rect x="1589.81" y="1614.60" width="1.05" height="79.42" fill="#97D2FC" fill-opacity="0.70"/>
<rect x="1489.05" y="1425.04" width="0.87" height="19.86" fill="#97D2FC" fill-opacity="0.40"/>
<rect x="1509.13" y="1425.04" width="0.87" height="19.86" fill="#97D2FC" fill-opacity="0.40"/>
<rect x="1506.86" y="1634.46" width="1.22" height="19.86" fill="#97D2FC" fill-opacity="0.50"/>
<rect x="1489.40" y="1524.32" width="0.87" height="79.42" fill="#97D2FC" fill-opacity="0.30"/>
<rect x="1106.30" y="2.52" width="482.10" height="158.85" fill="url(#striae)"/>
<rect x="1105.20" y="172.23" width="489.70" height="873.66" fill="url(#striae)"/>
<rect x="1106.60" y="1056.76" width="375.40" height="19.86" fill="url(#striae)"/>
<rect x="986.10" y="1087.48" width="501.50" height="516.26" fill="url(#striae)"/>
<rect x="987.90" y="1614.60" width="499.70" height="79.42" fill="url(#striae)"/>
</g>
<g id="dendrogram"><path d="M145.80 32.30H115.70V52.16H145.80M145.80 12.45H105.60V42.23H115.70M145.80 72.02H86.30V91.87H145.80M145.80 131.58H131.90V151.44H145.80M145.80 111.73H82.80V141.51H131.90M86.30 81.94H76.70V126.62H82.80M105.60 27.34H67.70V104.28H76.70M145.80 241.73H115.50V261.59H145.80M145.80 221.87H88.00V251.66H115.50M145.80 281.44H122.60V301.30H145.80M145.80 321.15H115.50V341.01H145.80M122.60 291.37H86.20V331.08H115.50M145.80 360.87H115.00V380.72H145.80M145.80 400.58H132.10V420.43H145.80M145.80 440.29H108.10V460.15H145.80M132.10 410.50H98.00V450.22H108.10M145.80 519.71H132.50V539.57H145.80M145.80 499.86H95.80V529.64H132.50M145.80 480.00H93.30V514.75H95.80M98.00 430.36H90.90V497.38H93.30M115.00 370.79H87.60V463.87H90.90M145.80 579.28H89.50V599.14H145.80M145.80 559.43H85.20V589.21H89.50M87.60 417.33H83.30V574.32H85.20M86.20 311.23H80.50V495.82H83.30M88.00 236.77H77.00V403.52H80.50M145.80 202.02H72.90V320.14H77.00M145.80 638.85H88.80V658.71H145.80M145.80 618.99H72.90V648.78H88.80M145.80 698.42H96.80V718.27H145.80M145.80 678.56H85.70V708.35H96.80M145.80 757.99H128.80V777.84H145.80M145.80 738.13H88.20V767.91H128.80M145.80 817.55H92.80V837.41H145.80M145.80 797.70H87.60V827.48H92.80M88.20 753.02H84.70V812.59H87.60M85.70 693.45H81.60V782.81H84.70M145.80 857.27H81.00V877.12H145.80M81.60 738.13H75.30V867.19H81.00M145.80 896.98H105.90V916.83H145.80M145.80 956.55H130.80V976.40H145.80M145.80 936.69H120.20V966.47H130.80M145.80 1016.11H87.10V1035.97H145.80M145.80 996.26H85.70V1026.04H87.10M120.20 951.58H82.40V1011.15H85.70M105.90 906.91H71.00V981.37H82.40M75.30 802.66H69.90V944.14H71.00M72.90 633.88H67.20V873.40H69.90M72.90 261.08H64.70V753.64H67.20M145.80 182.16H62.00V507.36H64.70M67.70 65.81H58.20V344.76H62.00M145.80 1137.12H130.70V1156.98H145.80M145.80 1117.27H114.80V1147.05H130.70M145.80 1196.69H130.70V1216.55H145.80M145.80 1176.84H111.70V1206.62H130.70M145.80 1236.40H80.70V1256.26H145.80M145.80 1315.83H136.80V1335.68H145.80M145.80 1295.97H132.50V1325.76H136.80M145.80 1395.25H135.30V1415.11H145.80M145.80 1375.40H134.90V1405.18H135.30M145.80 1355.54H131.80V1390.29H134.90M132.50 1310.86H89.50V1372.91H131.80M145.80 1276.12H85.40V1341.89H89.50M145.80 1474.68H136.80V1494.53H145.80M145.80 1454.82H91.10V1484.60H136.80M145.80 1434.96H87.10V1469.71H91.10M145.80 1573.96H138.70V1593.81H145.80M145.80 1554.10H134.00V1583.88H138.70M145.80 1534.24H114.80V1568.99H134.00M145.80 1514.39H81.90V1551.62H114.80M87.10 1452.34H81.00V1533.00H81.90M85.40 1309.00H75.30V1492.67H81.00M80.70 1246.33H71.50V1400.84H75.30M111.70 1191.73H70.50V1323.58H71.50M114.80 1132.16H67.40V1257.66H70.50M145.80 1097.41H62.00V1194.91H67.40M145.80 1664.24H75.00V1684.10H145.80M145.80 1644.39H73.40V1674.17H75.00M145.80 1624.53H61.40V1659.28H73.40M62.00 1146.16H49.70V1641.91H61.40M145.80 1066.69H46.90V1388.60H49.70M58.20 210.72H3.80V1233.08H46.90" fill="none" stroke="#000" stroke-width="2.1" stroke-linejoin="miter" stroke-linecap="butt"/></g>
<g id="row-labels"><g font-size="27.1px" stroke="#000" stroke-width="0.1"><text transform="translate(1603.1 22.75) scale(1 1.08)">B137</text><text transform="translate(1603.1 42.60) scale(1 1.08)">B115</text><text transform="translate(1603.1 62.46) scale(1 1.08)">B118</text><text transform="translate(1603.1 82.32) scale(1 1.08)">B149</text><text transform="translate(1603.1 102.17) scale(1 1.08)">B150</text><text transform="translate(1603.1 122.03) scale(1 1.08)">B116</text><text transform="translate(1603.1 141.88) scale(1 1.08)">B147</text><text transform="translate(1603.1 161.74) scale(1 1.08)">B148</text><text transform="translate(1603.1 192.46) scale(1 1.08)">B132</text><text transform="translate(1603.1 212.32) scale(1 1.08)">B151</text><text transform="translate(1603.1 232.17) scale(1 1.08)">B119</text><text transform="translate(1603.1 252.03) scale(1 1.08)">B139</text><text transform="translate(1603.1 271.89) scale(1 1.08)">B140</text><text transform="translate(1603.1 291.74) scale(1 1.08)">B66</text><text transform="translate(1603.1 311.60) scale(1 1.08)">B83</text><text transform="translate(1603.1 331.45) scale(1 1.08)">B105</text><text transform="translate(1603.1 351.31) scale(1 1.08)">B117</text><text transform="translate(1603.1 371.17) scale(1 1.08)">B133</text><text transform="translate(1603.1 391.02) scale(1 1.08)">B90</text><text transform="translate(1603.1 410.88) scale(1 1.08)">B100</text><text transform="translate(1603.1 430.73) scale(1 1.08)">B120</text><text transform="translate(1603.1 450.59) scale(1 1.08)">B109</text><text transform="translate(1603.1 470.45) scale(1 1.08)">B136</text><text transform="translate(1603.1 490.30) scale(1 1.08)">B108</text><text transform="translate(1603.1 510.16) scale(1 1.08)">B114</text><text transform="translate(1603.1 530.01) scale(1 1.08)">B107</text><text transform="translate(1603.1 549.87) scale(1 1.08)">B96</text><text transform="translate(1603.1 569.73) scale(1 1.08)">B104</text><text transform="translate(1603.1 589.58) scale(1 1.08)">B130</text><text transform="translate(1603.1 609.44) scale(1 1.08)">B79</text><text transform="translate(1603.1 629.29) scale(1 1.08)">B106</text><text transform="translate(1603.1 649.15) scale(1 1.08)">B124</text><text transform="translate(1603.1 669.00) scale(1 1.08)">B81</text><text transform="translate(1603.1 688.86) scale(1 1.08)">B86</text><text transform="translate(1603.1 708.72) scale(1 1.08)">B69</text><text transform="translate(1603.1 728.57) scale(1 1.08)">B93</text><text transform="translate(1603.1 748.43) scale(1 1.08)">B82</text><text transform="translate(1603.1 768.28) scale(1 1.08)">B122</text><text transform="translate(1603.1 788.14) scale(1 1.08)">B127</text><text transform="translate(1603.1 808.00) scale(1 1.08)">B144</text><text transform="translate(1603.1 827.85) scale(1 1.08)">B101</text><text transform="translate(1603.1 847.71) scale(1 1.08)">B84</text><text transform="translate(1603.1 867.57) scale(1 1.08)">B138</text><text transform="translate(1603.1 887.42) scale(1 1.08)">B77</text><text transform="translate(1603.1 907.28) scale(1 1.08)">B91</text><text transform="translate(1603.1 927.13) scale(1 1.08)">B97</text><text transform="translate(1603.1 946.99) scale(1 1.08)">B88</text><text transform="translate(1603.1 966.85) scale(1 1.08)">B125</text><text transform="translate(1603.1 986.70) scale(1 1.08)">B75</text><text transform="translate(1603.1 1006.56) scale(1 1.08)">B65</text><text transform="translate(1603.1 1026.41) scale(1 1.08)">B87</text><text transform="translate(1603.1 1046.27) scale(1 1.08)">B94</text><text transform="translate(1603.1 1076.99) scale(1 1.08)">B28</text><text transform="translate(1603.1 1107.71) scale(1 1.08)">B51</text><text transform="translate(1603.1 1127.57) scale(1 1.08)">B46</text><text transform="translate(1603.1 1147.42) scale(1 1.08)">B33</text><text transform="translate(1603.1 1167.28) scale(1 1.08)">B38</text><text transform="translate(1603.1 1187.13) scale(1 1.08)">B37</text><text transform="translate(1603.1 1206.99) scale(1 1.08)">B34</text><text transform="translate(1603.1 1226.85) scale(1 1.08)">B36</text><text transform="translate(1603.1 1246.70) scale(1 1.08)">B165</text><text transform="translate(1603.1 1266.56) scale(1 1.08)">B44</text><text transform="translate(1603.1 1286.41) scale(1 1.08)">B48</text><text transform="translate(1603.1 1306.27) scale(1 1.08)">B13</text><text transform="translate(1603.1 1326.13) scale(1 1.08)">B12</text><text transform="translate(1603.1 1345.98) scale(1 1.08)">B8</text><text transform="translate(1603.1 1365.84) scale(1 1.08)">B23</text><text transform="translate(1603.1 1385.70) scale(1 1.08)">B9</text><text transform="translate(1603.1 1405.55) scale(1 1.08)">B19</text><text transform="translate(1603.1 1425.41) scale(1 1.08)">B24</text><text transform="translate(1603.1 1445.26) scale(1 1.08)">B49</text><text transform="translate(1603.1 1465.12) scale(1 1.08)">B27</text><text transform="translate(1603.1 1484.98) scale(1 1.08)">B42</text><text transform="translate(1603.1 1504.83) scale(1 1.08)">B43</text><text transform="translate(1603.1 1524.69) scale(1 1.08)">B21</text><text transform="translate(1603.1 1544.54) scale(1 1.08)">B15</text><text transform="translate(1603.1 1564.40) scale(1 1.08)">B11</text><text transform="translate(1603.1 1584.26) scale(1 1.08)">B10</text><text transform="translate(1603.1 1604.11) scale(1 1.08)">B18</text><text transform="translate(1603.1 1634.83) scale(1 1.08)">B52</text><text transform="translate(1603.1 1654.69) scale(1 1.08)">B160</text><text transform="translate(1603.1 1674.54) scale(1 1.08)">B161</text><text transform="translate(1603.1 1694.40) scale(1 1.08)">B163</text></g></g>
<g id="annotation-names"><text transform="translate(152.4 1702.8) rotate(90) scale(1 1.06)" font-weight="bold" font-size="27.0px">Host</text><text transform="translate(185.1 1702.8) rotate(90) scale(1 1.06)" font-weight="bold" font-size="27.0px">Habitat</text><text transform="translate(217.8 1702.8) rotate(90) scale(1 1.06)" font-weight="bold" font-size="27.0px">State</text></g>
<g id="legends"><text transform="translate(1767.7 21.2) scale(1 1.03)" font-weight="bold" font-size="27.0px">Host</text><rect x="1767.8" y="31.90" width="38.9" height="39.20" fill="#0000FF"/><text transform="translate(1816.2 60.45) scale(1 1.0)" font-size="27.0px" font-style="italic" stroke="#000" stroke-width="0.3">Q.rubra</text><rect x="1767.8" y="70.80" width="38.9" height="39.20" fill="#FFA500"/><text transform="translate(1816.2 99.35000000000001) scale(1 1.0)" font-size="27.0px" font-style="italic" stroke="#000" stroke-width="0.3">Q.agrifolia</text><rect x="1767.8" y="109.70" width="38.9" height="39.20" fill="#00FF00"/><text transform="translate(1816.2 138.25) scale(1 1.0)" font-size="27.0px" font-style="italic" stroke="#000" stroke-width="0.3">Q.wislizeni</text><rect x="1767.8" y="148.60" width="38.9" height="39.20" fill="#A020F0"/><text transform="translate(1816.2 177.14999999999998) scale(1 1.0)" font-size="27.0px" font-style="italic" stroke="#000" stroke-width="0.3">Q.gambelii</text><rect x="1767.8" y="187.50" width="38.9" height="39.20" fill="#FF0000"/><text transform="translate(1816.2 216.04999999999998) scale(1 1.0)" font-size="27.0px" font-style="italic" stroke="#000" stroke-width="0.3">Q.palustris</text><rect x="1767.8" y="226.40" width="38.9" height="39.20" fill="#006400"/><text transform="translate(1816.2 254.95) scale(1 1.0)" font-size="27.0px" font-style="italic" stroke="#000" stroke-width="0.3">QagxQwis</text><rect x="1767.8" y="265.30" width="38.9" height="39.20" fill="#000000"/><text transform="translate(1816.2 293.84999999999997) scale(1 1.0)" font-size="27.0px" font-style="italic" stroke="#000" stroke-width="0.3">Q.parvula</text><text transform="translate(1767.7 352.5) scale(1 1.03)" font-weight="bold" font-size="27.0px">Habitat</text><rect x="1767.8" y="363.20" width="38.9" height="39.20" fill="#76EEC6"/><text transform="translate(1814.7 392.0) scale(1 1.0)" font-size="27.0px" stroke="#000" stroke-width="0.3">built</text><rect x="1767.8" y="402.10" width="38.9" height="39.20" fill="#FA8072"/><text transform="translate(1814.7 426.2) scale(1 1.0)" font-size="27.0px" stroke="#000" stroke-width="0.3">natural</text><text transform="translate(1767.7 489.9) scale(1 1.03)" font-weight="bold" font-size="27.0px">State</text><rect x="1767.8" y="499.40" width="38.9" height="39.20" fill="#FFEC8B"/><text transform="translate(1815.2 528.6) scale(1 1.0)" font-size="27.0px" stroke="#000" stroke-width="0.3">CA</text><rect x="1767.8" y="538.30" width="38.9" height="39.20" fill="#CDCD00"/><text transform="translate(1815.2 567.9000000000001) scale(1 1.0)" font-size="27.0px" stroke="#000" stroke-width="0.3">CO</text><text transform="translate(1766.2 649.1999999999999) scale(1 1.03)" font-weight="bold" font-size="27.0px">Gene</text><rect x="1767.0" y="655.10" width="38.9" height="38.70" fill="#8DCBFA"/><text transform="translate(1810.1000000000001 682.7) scale(1 1.0)" font-size="27.0px" stroke="#000" stroke-width="0.3">present</text><rect x="1767.0" y="693.50" width="38.9" height="38.70" fill="#F5F3E7"/><text transform="translate(1815.2 722.9000000000001) scale(1 1.0)" font-size="27.0px" stroke="#000" stroke-width="0.3">absent</text></g>
</svg>
</body></html>
